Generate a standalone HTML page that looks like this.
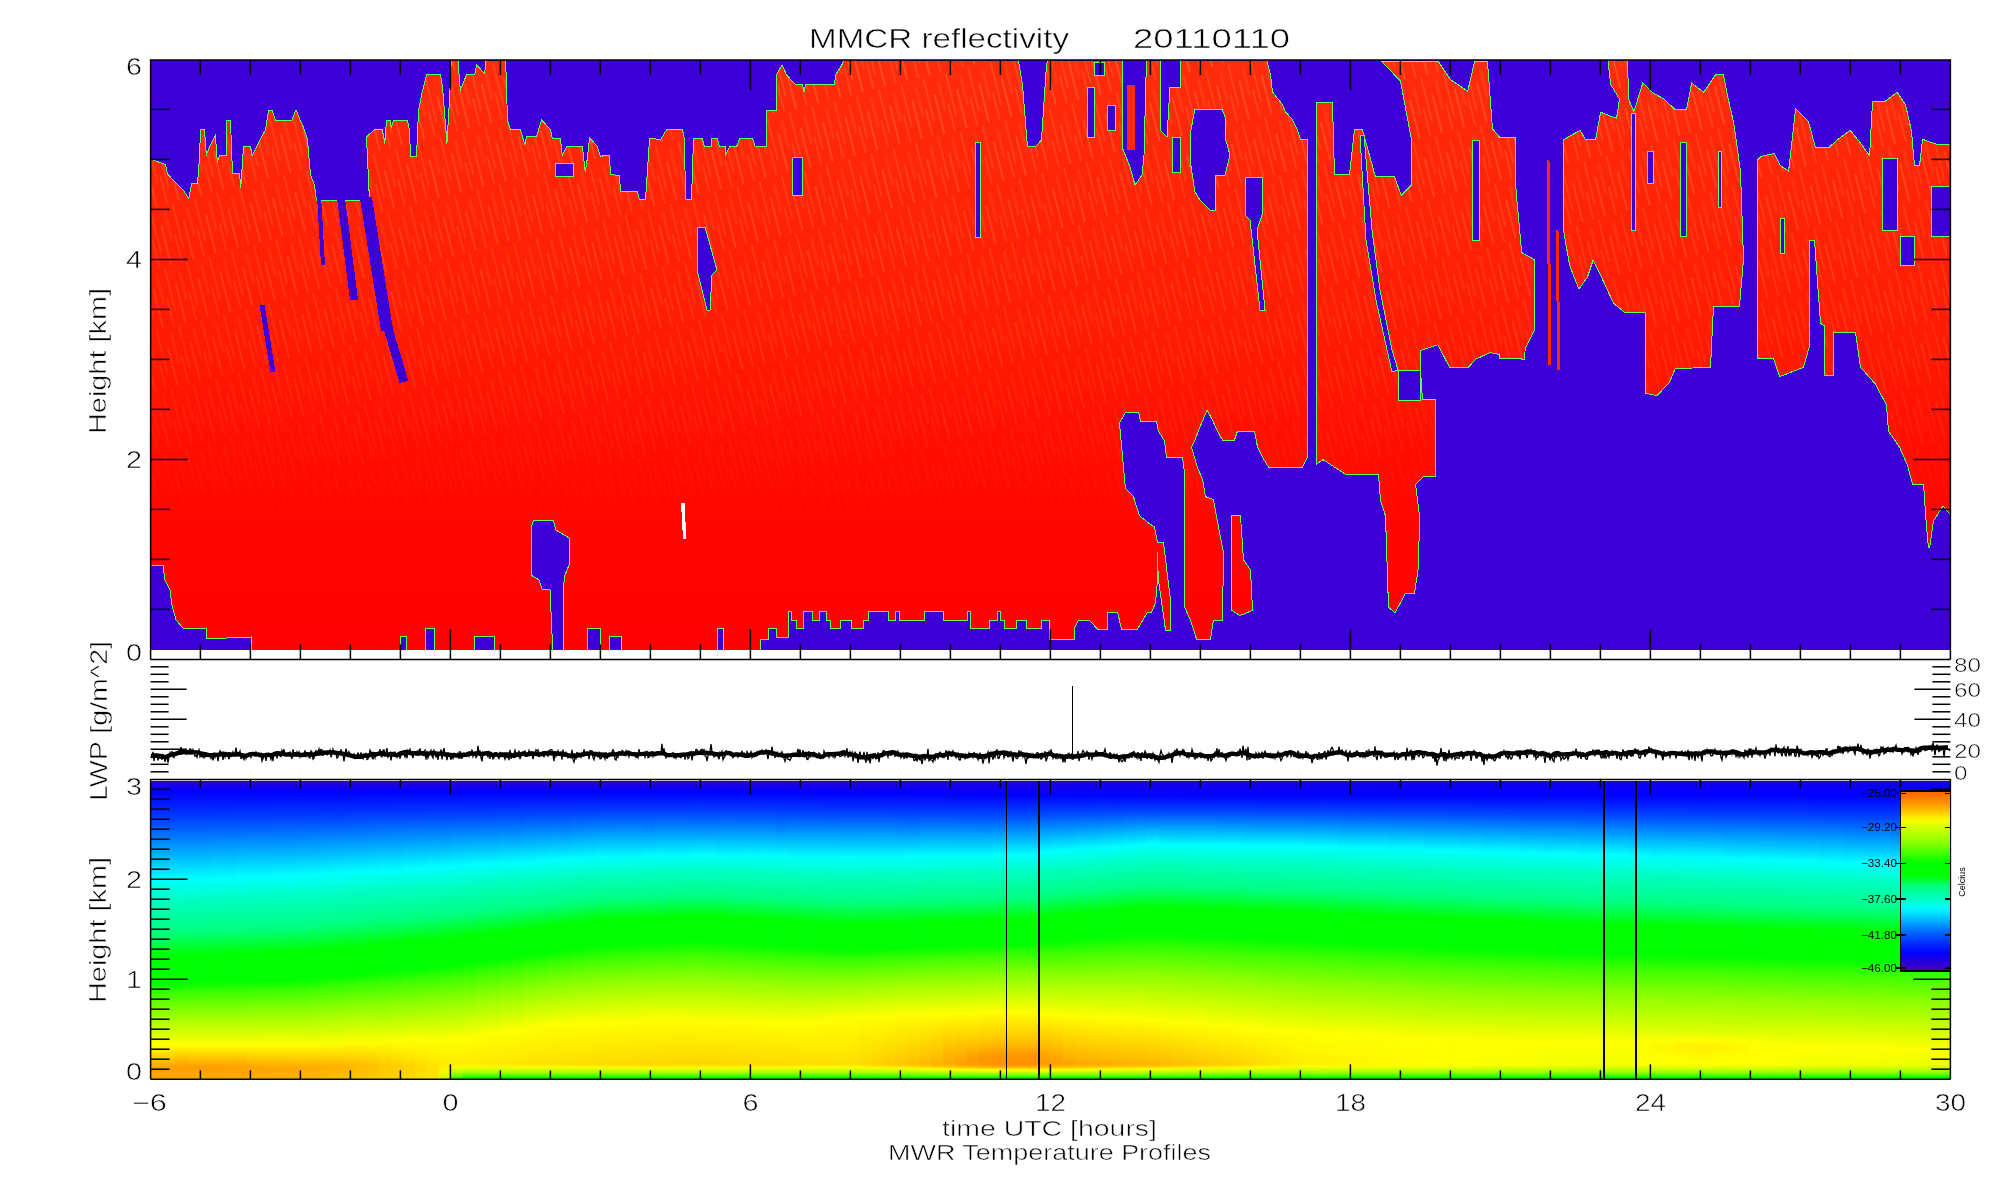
<!DOCTYPE html>
<html><head><meta charset="utf-8"><title>MMCR reflectivity 20110110</title>
<style>html,body{margin:0;padding:0;background:#fff;overflow:hidden}svg{display:block;will-change:transform}</style></head>
<body><svg width="2000" height="1200" viewBox="0 0 2000 1200" shape-rendering="crispEdges">
<rect width="2000" height="1200" fill="#fff"/>
<defs>
<linearGradient id="rg" gradientUnits="userSpaceOnUse" x1="0" y1="60" x2="0" y2="650"><stop offset="0" stop-color="#ff2c0c"/><stop offset="0.45" stop-color="#ff1c04"/><stop offset="0.75" stop-color="#ff0800"/><stop offset="1" stop-color="#ff0000"/></linearGradient>
</defs>
<rect x="151" y="60" width="1799" height="590" fill="#3c00d7"/>
<defs><clipPath id="tp"><rect x="151.3" y="60.7" width="1798.4" height="589.3"/></clipPath></defs>
<g clip-path="url(#tp)">
<g fill="none" stroke="#60ff60" stroke-width="2.0">
<polygon points="144,157 165,165 167,174 174,182 184,192 189,200 192,184 198,184 200,157 201,130 204,130 206,157 210,147 215,137 217,165 220,156 227,156 227,121 230,121 232,174 239,174 241,192 244,147 250,147 252,157 257,147 262,137 266,130 269,111 272,111 275,121 292,121 296,111 300,121 304,130 307,140 310,175 314,185 316,201 370,201 367,137 375,130 382,130 385,147 387,121 390,121 391,130 394,121 407,121 409,130 410,157 417,157 419,111 422,95 427,75 440,75 442,87 447,150 450,100 452,55 457,55 460,92 467,75 475,75 477,66 485,75 487,55 505,55 507,120 510,130 520,130 525,147 527,137 537,137 539,130 542,121 550,130 552,139 560,139 562,157 567,147 582,147 585,175 587,165 590,139 597,147 600,157 605,156 609,156 610,175 619,176 620,192 637,192 639,200 646,200 649,155 650,139 661,140 667,130 682,130 684,139 685,200 692,200 694,139 702,139 704,147 712,147 712,139 717,139 719,147 725,147 725,157 730,147 737,147 740,139 752,139 755,147 767,147 767,111 777,111 777,75 782,66 786,75 795,85 802,85 804,94 806,85 835,85 836,75 842,66 846,55 1017,55 1022,85 1027,147 1036,147 1042,140 1047,65 1050,55 1265,55 1270,75 1272,92 1282,105 1285,112 1292,120 1297,130 1300,140 1307,140 1307,457 1302,467 1269,467 1263,457 1258,447 1255,431 1237,431 1234,440 1223,440 1218,431 1213,420 1207,409 1199,428 1194,441 1191,447 1197,468 1202,479 1205,497 1213,500 1218,527 1223,553 1222,620 1213,620 1210,639 1197,639 1191,620 1185,607 1185,473 1183,457 1167,457 1165,441 1159,431 1157,421 1141,421 1139,412 1125,412 1119,423 1122,457 1125,489 1133,497 1139,516 1149,524 1154,527 1157,543 1157,580 1155,603 1151,612 1147,612 1137,629 1122,629 1118,612 1107,612 1107,629 1098,629 1090,620 1078,620 1074,628 1074,639 1050,639 1050,620 1041,620 1041,628 1027,628 1027,620 1016,620 1016,628 1005,628 1005,620 1001,620 1001,611 997,611 997,620 989,620 989,628 971,628 971,611 967,611 967,620 944,620 944,611 924,611 924,620 900,620 900,611 895,611 895,620 889,620 889,611 868,611 868,620 863,620 863,628 852,628 852,620 840,620 840,628 831,628 831,620 827,620 827,611 819,611 819,620 813,620 813,611 803,611 803,628 797,628 797,620 792,620 792,611 788,611 788,637 777,637 777,628 768,628 768,639 760,639 760,656 144,656"/>
<polygon points="1317,103 1332,103 1334,175 1350,175 1355,130 1362,130 1375,177 1394,177 1401,196 1412,185 1412,140 1401,81 1383,62 1438,62 1450,80 1468,92 1475,62 1487,62 1492,129 1505,144 1513,151 1516,196 1527,315 1524,359 1490,352 1475,359 1468,367 1450,367 1438,344 1420,350 1420,370 1422,400 1435,400 1435,476 1423,476 1415,484 1419,516 1418,567 1414,593 1405,593 1395,612 1389,607 1386,516 1381,500 1379,474 1346,474 1323,459 1317,463"/>
<polygon points="1564,140 1580,131 1585,140 1596,140 1601,113 1617,119 1620,99 1611,84 1608,55 1627,55 1628,99 1634,113 1643,84 1652,93 1663,99 1675,110 1687,110 1692,84 1704,93 1716,75 1723,75 1727,96 1733,122 1736,142 1740,172 1743,259 1739,306 1713,306 1710,367 1675,368 1669,382 1657,395 1646,393 1646,312 1625,312 1614,303 1602,277 1593,259 1587,277 1579,288 1570,265 1564,230"/>
<polygon points="1758,160 1761,157 1774,154 1780,166 1789,172 1796,110 1808,122 1815,148 1829,148 1838,140 1850,131 1859,142 1870,157 1873,102 1885,102 1897,93 1905,105 1911,131 1914,166 1920,166 1923,140 1937,145 1956,145 1956,521 1943,505 1933,521 1929,548 1927,527 1924,484 1913,484 1908,465 1900,447 1889,431 1887,405 1876,384 1861,367 1856,332 1835,332 1821,323 1815,240 1809,240 1809,346 1803,367 1780,376 1774,358 1758,358"/>
<polygon points="1500,138 1515,138 1516,250 1534,260 1534,330 1520,358 1500,358"/>
<polygon points="1157,543 1163,543 1170,600 1170,630 1166,630 1159,580"/>
<polygon points="1232,516 1240,516 1243,560 1250,570 1252,610 1240,615 1232,610"/>
<polygon points="1825,320 1833,320 1833,375 1825,375"/>
</g>
<g fill="url(#rg)">
<polygon points="144,157 165,165 167,174 174,182 184,192 189,200 192,184 198,184 200,157 201,130 204,130 206,157 210,147 215,137 217,165 220,156 227,156 227,121 230,121 232,174 239,174 241,192 244,147 250,147 252,157 257,147 262,137 266,130 269,111 272,111 275,121 292,121 296,111 300,121 304,130 307,140 310,175 314,185 316,201 370,201 367,137 375,130 382,130 385,147 387,121 390,121 391,130 394,121 407,121 409,130 410,157 417,157 419,111 422,95 427,75 440,75 442,87 447,150 450,100 452,55 457,55 460,92 467,75 475,75 477,66 485,75 487,55 505,55 507,120 510,130 520,130 525,147 527,137 537,137 539,130 542,121 550,130 552,139 560,139 562,157 567,147 582,147 585,175 587,165 590,139 597,147 600,157 605,156 609,156 610,175 619,176 620,192 637,192 639,200 646,200 649,155 650,139 661,140 667,130 682,130 684,139 685,200 692,200 694,139 702,139 704,147 712,147 712,139 717,139 719,147 725,147 725,157 730,147 737,147 740,139 752,139 755,147 767,147 767,111 777,111 777,75 782,66 786,75 795,85 802,85 804,94 806,85 835,85 836,75 842,66 846,55 1017,55 1022,85 1027,147 1036,147 1042,140 1047,65 1050,55 1265,55 1270,75 1272,92 1282,105 1285,112 1292,120 1297,130 1300,140 1307,140 1307,457 1302,467 1269,467 1263,457 1258,447 1255,431 1237,431 1234,440 1223,440 1218,431 1213,420 1207,409 1199,428 1194,441 1191,447 1197,468 1202,479 1205,497 1213,500 1218,527 1223,553 1222,620 1213,620 1210,639 1197,639 1191,620 1185,607 1185,473 1183,457 1167,457 1165,441 1159,431 1157,421 1141,421 1139,412 1125,412 1119,423 1122,457 1125,489 1133,497 1139,516 1149,524 1154,527 1157,543 1157,580 1155,603 1151,612 1147,612 1137,629 1122,629 1118,612 1107,612 1107,629 1098,629 1090,620 1078,620 1074,628 1074,639 1050,639 1050,620 1041,620 1041,628 1027,628 1027,620 1016,620 1016,628 1005,628 1005,620 1001,620 1001,611 997,611 997,620 989,620 989,628 971,628 971,611 967,611 967,620 944,620 944,611 924,611 924,620 900,620 900,611 895,611 895,620 889,620 889,611 868,611 868,620 863,620 863,628 852,628 852,620 840,620 840,628 831,628 831,620 827,620 827,611 819,611 819,620 813,620 813,611 803,611 803,628 797,628 797,620 792,620 792,611 788,611 788,637 777,637 777,628 768,628 768,639 760,639 760,656 144,656"/>
<polygon points="1317,103 1332,103 1334,175 1350,175 1355,130 1362,130 1375,177 1394,177 1401,196 1412,185 1412,140 1401,81 1383,62 1438,62 1450,80 1468,92 1475,62 1487,62 1492,129 1505,144 1513,151 1516,196 1527,315 1524,359 1490,352 1475,359 1468,367 1450,367 1438,344 1420,350 1420,370 1422,400 1435,400 1435,476 1423,476 1415,484 1419,516 1418,567 1414,593 1405,593 1395,612 1389,607 1386,516 1381,500 1379,474 1346,474 1323,459 1317,463"/>
<polygon points="1564,140 1580,131 1585,140 1596,140 1601,113 1617,119 1620,99 1611,84 1608,55 1627,55 1628,99 1634,113 1643,84 1652,93 1663,99 1675,110 1687,110 1692,84 1704,93 1716,75 1723,75 1727,96 1733,122 1736,142 1740,172 1743,259 1739,306 1713,306 1710,367 1675,368 1669,382 1657,395 1646,393 1646,312 1625,312 1614,303 1602,277 1593,259 1587,277 1579,288 1570,265 1564,230"/>
<polygon points="1758,160 1761,157 1774,154 1780,166 1789,172 1796,110 1808,122 1815,148 1829,148 1838,140 1850,131 1859,142 1870,157 1873,102 1885,102 1897,93 1905,105 1911,131 1914,166 1920,166 1923,140 1937,145 1956,145 1956,521 1943,505 1933,521 1929,548 1927,527 1924,484 1913,484 1908,465 1900,447 1889,431 1887,405 1876,384 1861,367 1856,332 1835,332 1821,323 1815,240 1809,240 1809,346 1803,367 1780,376 1774,358 1758,358"/>
<polygon points="1500,138 1515,138 1516,250 1534,260 1534,330 1520,358 1500,358"/>
<polygon points="1157,543 1163,543 1170,600 1170,630 1166,630 1159,580"/>
<polygon points="1232,516 1240,516 1243,560 1250,570 1252,610 1240,615 1232,610"/>
<polygon points="1825,320 1833,320 1833,375 1825,375"/>
</g>
<defs><pattern id="tx" patternUnits="userSpaceOnUse" width="23" height="60" patternTransform="rotate(-14)"><rect x="2" y="0" width="2" height="44" fill="#ff5a1e"/><rect x="9" y="18" width="1.5" height="40" fill="#ff6a28"/><rect x="15" y="6" width="2.5" height="30" fill="#ff4814"/><rect x="20" y="30" width="1.5" height="28" fill="#ff5a1e"/></pattern><linearGradient id="txg" gradientUnits="userSpaceOnUse" x1="0" y1="60" x2="0" y2="650"><stop offset="0" stop-color="#fff" stop-opacity="0.55"/><stop offset="0.55" stop-color="#fff" stop-opacity="0.25"/><stop offset="0.8" stop-color="#fff" stop-opacity="0"/></linearGradient><mask id="txm" maskUnits="userSpaceOnUse" x="140" y="50" width="1820" height="610"><rect x="140" y="50" width="1820" height="610" fill="url(#txg)"/></mask></defs>
<g fill="url(#tx)" mask="url(#txm)">
<polygon points="144,157 165,165 167,174 174,182 184,192 189,200 192,184 198,184 200,157 201,130 204,130 206,157 210,147 215,137 217,165 220,156 227,156 227,121 230,121 232,174 239,174 241,192 244,147 250,147 252,157 257,147 262,137 266,130 269,111 272,111 275,121 292,121 296,111 300,121 304,130 307,140 310,175 314,185 316,201 370,201 367,137 375,130 382,130 385,147 387,121 390,121 391,130 394,121 407,121 409,130 410,157 417,157 419,111 422,95 427,75 440,75 442,87 447,150 450,100 452,55 457,55 460,92 467,75 475,75 477,66 485,75 487,55 505,55 507,120 510,130 520,130 525,147 527,137 537,137 539,130 542,121 550,130 552,139 560,139 562,157 567,147 582,147 585,175 587,165 590,139 597,147 600,157 605,156 609,156 610,175 619,176 620,192 637,192 639,200 646,200 649,155 650,139 661,140 667,130 682,130 684,139 685,200 692,200 694,139 702,139 704,147 712,147 712,139 717,139 719,147 725,147 725,157 730,147 737,147 740,139 752,139 755,147 767,147 767,111 777,111 777,75 782,66 786,75 795,85 802,85 804,94 806,85 835,85 836,75 842,66 846,55 1017,55 1022,85 1027,147 1036,147 1042,140 1047,65 1050,55 1265,55 1270,75 1272,92 1282,105 1285,112 1292,120 1297,130 1300,140 1307,140 1307,457 1302,467 1269,467 1263,457 1258,447 1255,431 1237,431 1234,440 1223,440 1218,431 1213,420 1207,409 1199,428 1194,441 1191,447 1197,468 1202,479 1205,497 1213,500 1218,527 1223,553 1222,620 1213,620 1210,639 1197,639 1191,620 1185,607 1185,473 1183,457 1167,457 1165,441 1159,431 1157,421 1141,421 1139,412 1125,412 1119,423 1122,457 1125,489 1133,497 1139,516 1149,524 1154,527 1157,543 1157,580 1155,603 1151,612 1147,612 1137,629 1122,629 1118,612 1107,612 1107,629 1098,629 1090,620 1078,620 1074,628 1074,639 1050,639 1050,620 1041,620 1041,628 1027,628 1027,620 1016,620 1016,628 1005,628 1005,620 1001,620 1001,611 997,611 997,620 989,620 989,628 971,628 971,611 967,611 967,620 944,620 944,611 924,611 924,620 900,620 900,611 895,611 895,620 889,620 889,611 868,611 868,620 863,620 863,628 852,628 852,620 840,620 840,628 831,628 831,620 827,620 827,611 819,611 819,620 813,620 813,611 803,611 803,628 797,628 797,620 792,620 792,611 788,611 788,637 777,637 777,628 768,628 768,639 760,639 760,656 144,656"/>
<polygon points="1317,103 1332,103 1334,175 1350,175 1355,130 1362,130 1375,177 1394,177 1401,196 1412,185 1412,140 1401,81 1383,62 1438,62 1450,80 1468,92 1475,62 1487,62 1492,129 1505,144 1513,151 1516,196 1527,315 1524,359 1490,352 1475,359 1468,367 1450,367 1438,344 1420,350 1420,370 1422,400 1435,400 1435,476 1423,476 1415,484 1419,516 1418,567 1414,593 1405,593 1395,612 1389,607 1386,516 1381,500 1379,474 1346,474 1323,459 1317,463"/>
<polygon points="1564,140 1580,131 1585,140 1596,140 1601,113 1617,119 1620,99 1611,84 1608,55 1627,55 1628,99 1634,113 1643,84 1652,93 1663,99 1675,110 1687,110 1692,84 1704,93 1716,75 1723,75 1727,96 1733,122 1736,142 1740,172 1743,259 1739,306 1713,306 1710,367 1675,368 1669,382 1657,395 1646,393 1646,312 1625,312 1614,303 1602,277 1593,259 1587,277 1579,288 1570,265 1564,230"/>
<polygon points="1758,160 1761,157 1774,154 1780,166 1789,172 1796,110 1808,122 1815,148 1829,148 1838,140 1850,131 1859,142 1870,157 1873,102 1885,102 1897,93 1905,105 1911,131 1914,166 1920,166 1923,140 1937,145 1956,145 1956,521 1943,505 1933,521 1929,548 1927,527 1924,484 1913,484 1908,465 1900,447 1889,431 1887,405 1876,384 1861,367 1856,332 1835,332 1821,323 1815,240 1809,240 1809,346 1803,367 1780,376 1774,358 1758,358"/>
<polygon points="1500,138 1515,138 1516,250 1534,260 1534,330 1520,358 1500,358"/>
<polygon points="1157,543 1163,543 1170,600 1170,630 1166,630 1159,580"/>
<polygon points="1232,516 1240,516 1243,560 1250,570 1252,610 1240,615 1232,610"/>
<polygon points="1825,320 1833,320 1833,375 1825,375"/>
</g>
<g fill="#3c00d7" stroke="#60ff60" stroke-width="1.0">
<polygon points="144,565 163,565 165,580 170,590 172,605 176,620 183,628 206,628 206,638 227,638 251,637 251,656 144,656"/>
<polygon points="534,520 553,520 556,530 569,538 569,565 565,575 563,590 563,656 553,656 550,590 542,589 539,580 531,575 531,527"/>
<polygon points="587,628 600,628 600,656 587,656"/>
<polygon points="425,628 434,628 434,656 425,656"/>
<polygon points="609,636 621,636 621,656 609,656"/>
<polygon points="717,628 723,628 723,656 717,656"/>
<polygon points="474,636 494,636 494,656 474,656"/>
<polygon points="400,636 406,636 406,656 400,656"/>
<polygon points="697,227 705,227 717,270 712,275 710,310 707,310 697,270"/>
<polygon points="792,157 802,157 802,195 792,195"/>
<polygon points="975,142 980,142 980,237 975,237"/>
<polygon points="555,163 573,163 573,176 555,176"/>
<polygon points="1087,87 1094,87 1094,137 1087,137"/>
<polygon points="1094,62 1104,62 1104,75 1094,75"/>
<polygon points="1107,105 1115,105 1115,130 1107,130"/>
<polygon points="1122,55 1146,55 1146,77 1144,155 1142,175 1135,185 1130,167 1122,147"/>
<polygon points="1160,55 1180,55 1180,87 1170,87 1167,137 1160,130"/>
<polygon points="1172,137 1180,137 1180,172 1172,172"/>
<polygon points="1190,135 1195,109 1222,109 1225,117 1225,137 1230,155 1225,175 1215,175 1215,210 1210,210 1200,200 1195,192 1190,160"/>
<polygon points="1245,177 1262,177 1262,215 1257,230 1265,310 1260,310 1250,220 1245,215"/>
<polygon points="1360,135 1364,135 1372,230 1380,290 1392,350 1398,370 1392,372 1376,300 1366,240"/>
<polygon points="1472,140 1479,140 1479,240 1472,240"/>
<polygon points="1398,370 1420,370 1420,400 1398,400"/>
<polygon points="1631,113 1635,113 1635,230 1631,230"/>
<polygon points="1647,151 1653,151 1653,183 1647,183"/>
<polygon points="1680,142 1686,142 1686,236 1680,236"/>
<polygon points="1718,151 1721,151 1721,207 1718,207"/>
<polygon points="1780,218 1784,218 1784,253 1780,253"/>
<polygon points="1882,158 1897,158 1897,230 1882,230"/>
<polygon points="1931,186 1956,186 1956,236 1931,236"/>
<polygon points="1900,236 1914,236 1914,265 1900,265"/>
</g>
<g stroke="#ff2808" stroke-linecap="butt">
<line x1="1548" y1="160" x2="1550" y2="365" stroke-width="3"/>
<line x1="1557" y1="230" x2="1559" y2="370" stroke-width="3"/>
<line x1="1131" y1="85" x2="1131" y2="150" stroke-width="8"/>
</g>
<g stroke="#3c00d7">
<line x1="319" y1="195" x2="323" y2="265" stroke-width="4"/>
<line x1="341" y1="198" x2="354" y2="300" stroke-width="8"/>
<line x1="366" y1="198" x2="387" y2="330" stroke-width="12"/>
<line x1="385" y1="318" x2="404" y2="382" stroke-width="9"/>
<line x1="262" y1="305" x2="273" y2="372" stroke-width="5"/>
</g>
<polygon points="681,503 685,503 686,539 683,539" fill="#fff"/>
</g>
<defs>
<linearGradient id="b0" x1="0" y1="0" x2="0" y2="1"><stop offset="0.000" stop-color="#2900d7"/><stop offset="0.037" stop-color="#0000ff"/><stop offset="0.128" stop-color="#0040ff"/><stop offset="0.332" stop-color="#00fffe"/><stop offset="0.406" stop-color="#00ffc0"/><stop offset="0.507" stop-color="#00ff81"/><stop offset="0.591" stop-color="#00ff00"/><stop offset="0.678" stop-color="#00ff00"/><stop offset="0.718" stop-color="#42ff00"/><stop offset="0.779" stop-color="#90ff00"/><stop offset="0.886" stop-color="#ffff00"/><stop offset="0.963" stop-color="#ffa200"/><stop offset="1.000" stop-color="#ffaa00"/></linearGradient>
<linearGradient id="b1" x1="0" y1="0" x2="0" y2="1"><stop offset="0.000" stop-color="#2900d7"/><stop offset="0.037" stop-color="#0000ff"/><stop offset="0.128" stop-color="#0040ff"/><stop offset="0.332" stop-color="#00fffd"/><stop offset="0.406" stop-color="#00ffbf"/><stop offset="0.507" stop-color="#00ff80"/><stop offset="0.587" stop-color="#00ff01"/><stop offset="0.678" stop-color="#00ff00"/><stop offset="0.715" stop-color="#3fff00"/><stop offset="0.775" stop-color="#8dff00"/><stop offset="0.886" stop-color="#ffff00"/><stop offset="0.963" stop-color="#ff9f00"/><stop offset="1.000" stop-color="#ffaa00"/></linearGradient>
<linearGradient id="b2" x1="0" y1="0" x2="0" y2="1"><stop offset="0.000" stop-color="#2900d7"/><stop offset="0.037" stop-color="#0000ff"/><stop offset="0.128" stop-color="#0041ff"/><stop offset="0.329" stop-color="#00ffff"/><stop offset="0.403" stop-color="#00ffc1"/><stop offset="0.503" stop-color="#00ff81"/><stop offset="0.587" stop-color="#00ff00"/><stop offset="0.678" stop-color="#02ff00"/><stop offset="0.715" stop-color="#40ff00"/><stop offset="0.775" stop-color="#8dff00"/><stop offset="0.886" stop-color="#ffff00"/><stop offset="0.943" stop-color="#ffb100"/><stop offset="0.963" stop-color="#ff9d00"/><stop offset="1.000" stop-color="#ffaa00"/></linearGradient>
<linearGradient id="b3" x1="0" y1="0" x2="0" y2="1"><stop offset="0.000" stop-color="#2900d7"/><stop offset="0.037" stop-color="#0000ff"/><stop offset="0.128" stop-color="#0041ff"/><stop offset="0.329" stop-color="#00fffe"/><stop offset="0.403" stop-color="#00ffc0"/><stop offset="0.503" stop-color="#00ff80"/><stop offset="0.587" stop-color="#00ff00"/><stop offset="0.674" stop-color="#00ff00"/><stop offset="0.715" stop-color="#42ff00"/><stop offset="0.775" stop-color="#8eff00"/><stop offset="0.886" stop-color="#ffff00"/><stop offset="0.960" stop-color="#ff9e00"/><stop offset="1.000" stop-color="#ffaa00"/></linearGradient>
<linearGradient id="b4" x1="0" y1="0" x2="0" y2="1"><stop offset="0.000" stop-color="#2900d7"/><stop offset="0.037" stop-color="#0000ff"/><stop offset="0.128" stop-color="#0041ff"/><stop offset="0.329" stop-color="#00fffd"/><stop offset="0.399" stop-color="#00ffc1"/><stop offset="0.503" stop-color="#00ff7f"/><stop offset="0.584" stop-color="#00ff00"/><stop offset="0.674" stop-color="#00ff00"/><stop offset="0.711" stop-color="#3eff00"/><stop offset="0.775" stop-color="#8fff00"/><stop offset="0.886" stop-color="#ffff00"/><stop offset="0.960" stop-color="#ff9d00"/><stop offset="1.000" stop-color="#ffaa00"/></linearGradient>
<linearGradient id="b5" x1="0" y1="0" x2="0" y2="1"><stop offset="0.000" stop-color="#2900d7"/><stop offset="0.037" stop-color="#0000ff"/><stop offset="0.128" stop-color="#0042ff"/><stop offset="0.326" stop-color="#00fffe"/><stop offset="0.399" stop-color="#00ffc0"/><stop offset="0.500" stop-color="#00ff81"/><stop offset="0.584" stop-color="#00ff00"/><stop offset="0.674" stop-color="#02ff00"/><stop offset="0.711" stop-color="#40ff00"/><stop offset="0.775" stop-color="#90ff00"/><stop offset="0.886" stop-color="#ffff00"/><stop offset="0.960" stop-color="#ff9e00"/><stop offset="1.000" stop-color="#ffab00"/></linearGradient>
<linearGradient id="b6" x1="0" y1="0" x2="0" y2="1"><stop offset="0.000" stop-color="#2900d7"/><stop offset="0.037" stop-color="#0000ff"/><stop offset="0.128" stop-color="#0042ff"/><stop offset="0.326" stop-color="#00fffd"/><stop offset="0.399" stop-color="#00ffbf"/><stop offset="0.500" stop-color="#00ff80"/><stop offset="0.581" stop-color="#00ff01"/><stop offset="0.671" stop-color="#00ff00"/><stop offset="0.711" stop-color="#41ff00"/><stop offset="0.775" stop-color="#90ff00"/><stop offset="0.886" stop-color="#ffff00"/><stop offset="0.960" stop-color="#ff9f00"/><stop offset="1.000" stop-color="#ffac00"/></linearGradient>
<linearGradient id="b7" x1="0" y1="0" x2="0" y2="1"><stop offset="0.000" stop-color="#2900d7"/><stop offset="0.037" stop-color="#0000ff"/><stop offset="0.128" stop-color="#0043ff"/><stop offset="0.322" stop-color="#00ffff"/><stop offset="0.396" stop-color="#00ffc1"/><stop offset="0.497" stop-color="#00ff81"/><stop offset="0.581" stop-color="#00ff00"/><stop offset="0.671" stop-color="#00ff00"/><stop offset="0.711" stop-color="#42ff00"/><stop offset="0.772" stop-color="#8dff00"/><stop offset="0.886" stop-color="#ffff00"/><stop offset="0.943" stop-color="#ffb300"/><stop offset="0.963" stop-color="#ff9f00"/><stop offset="1.000" stop-color="#ffac00"/></linearGradient>
<linearGradient id="b8" x1="0" y1="0" x2="0" y2="1"><stop offset="0.000" stop-color="#2900d7"/><stop offset="0.037" stop-color="#0000ff"/><stop offset="0.124" stop-color="#0040ff"/><stop offset="0.322" stop-color="#00fffe"/><stop offset="0.396" stop-color="#00ffc0"/><stop offset="0.497" stop-color="#00ff80"/><stop offset="0.581" stop-color="#00ff00"/><stop offset="0.671" stop-color="#02ff00"/><stop offset="0.708" stop-color="#3fff00"/><stop offset="0.772" stop-color="#8eff00"/><stop offset="0.886" stop-color="#ffff00"/><stop offset="0.963" stop-color="#ffa200"/><stop offset="1.000" stop-color="#ffad00"/></linearGradient>
<linearGradient id="b9" x1="0" y1="0" x2="0" y2="1"><stop offset="0.000" stop-color="#2900d7"/><stop offset="0.037" stop-color="#0000ff"/><stop offset="0.124" stop-color="#0040ff"/><stop offset="0.322" stop-color="#00fffd"/><stop offset="0.393" stop-color="#00ffc1"/><stop offset="0.497" stop-color="#00ff7f"/><stop offset="0.577" stop-color="#00ff00"/><stop offset="0.668" stop-color="#00ff00"/><stop offset="0.708" stop-color="#40ff00"/><stop offset="0.772" stop-color="#8fff00"/><stop offset="0.886" stop-color="#ffff00"/><stop offset="0.963" stop-color="#ffa500"/><stop offset="1.000" stop-color="#ffae00"/></linearGradient>
<linearGradient id="b10" x1="0" y1="0" x2="0" y2="1"><stop offset="0.000" stop-color="#2900d7"/><stop offset="0.037" stop-color="#0000ff"/><stop offset="0.124" stop-color="#0041ff"/><stop offset="0.319" stop-color="#00fffe"/><stop offset="0.393" stop-color="#00ffc0"/><stop offset="0.493" stop-color="#00ff81"/><stop offset="0.577" stop-color="#00ff00"/><stop offset="0.668" stop-color="#01ff00"/><stop offset="0.708" stop-color="#42ff00"/><stop offset="0.772" stop-color="#8fff00"/><stop offset="0.886" stop-color="#ffff00"/><stop offset="0.963" stop-color="#ffa700"/><stop offset="1.000" stop-color="#ffaf00"/></linearGradient>
<linearGradient id="b11" x1="0" y1="0" x2="0" y2="1"><stop offset="0.000" stop-color="#2900d7"/><stop offset="0.037" stop-color="#0000ff"/><stop offset="0.124" stop-color="#0041ff"/><stop offset="0.319" stop-color="#00fffd"/><stop offset="0.393" stop-color="#00ffbf"/><stop offset="0.493" stop-color="#00ff80"/><stop offset="0.574" stop-color="#00ff01"/><stop offset="0.668" stop-color="#02ff00"/><stop offset="0.705" stop-color="#3eff00"/><stop offset="0.772" stop-color="#90ff00"/><stop offset="0.886" stop-color="#ffff00"/><stop offset="0.963" stop-color="#ffa800"/><stop offset="1.000" stop-color="#ffb000"/></linearGradient>
<linearGradient id="b12" x1="0" y1="0" x2="0" y2="1"><stop offset="0.000" stop-color="#2900d7"/><stop offset="0.037" stop-color="#0000ff"/><stop offset="0.124" stop-color="#0041ff"/><stop offset="0.315" stop-color="#00ffff"/><stop offset="0.389" stop-color="#00ffc0"/><stop offset="0.490" stop-color="#00ff81"/><stop offset="0.574" stop-color="#00ff00"/><stop offset="0.664" stop-color="#00ff00"/><stop offset="0.705" stop-color="#40ff00"/><stop offset="0.768" stop-color="#8dff00"/><stop offset="0.886" stop-color="#ffff00"/><stop offset="0.963" stop-color="#ffa900"/><stop offset="1.000" stop-color="#ffb100"/></linearGradient>
<linearGradient id="b13" x1="0" y1="0" x2="0" y2="1"><stop offset="0.000" stop-color="#2900d7"/><stop offset="0.037" stop-color="#0000ff"/><stop offset="0.124" stop-color="#0042ff"/><stop offset="0.315" stop-color="#00fffd"/><stop offset="0.386" stop-color="#00ffc1"/><stop offset="0.487" stop-color="#00ff81"/><stop offset="0.570" stop-color="#00ff00"/><stop offset="0.661" stop-color="#01ff00"/><stop offset="0.701" stop-color="#40ff00"/><stop offset="0.768" stop-color="#90ff00"/><stop offset="0.886" stop-color="#fffe00"/><stop offset="0.963" stop-color="#ffab00"/><stop offset="1.000" stop-color="#ffb500"/></linearGradient>
<linearGradient id="b14" x1="0" y1="0" x2="0" y2="1"><stop offset="0.000" stop-color="#2900d7"/><stop offset="0.037" stop-color="#0000ff"/><stop offset="0.124" stop-color="#0043ff"/><stop offset="0.312" stop-color="#00fffe"/><stop offset="0.386" stop-color="#00ffbf"/><stop offset="0.483" stop-color="#00ff81"/><stop offset="0.567" stop-color="#00ff00"/><stop offset="0.658" stop-color="#01ff00"/><stop offset="0.698" stop-color="#40ff00"/><stop offset="0.765" stop-color="#8fff00"/><stop offset="0.883" stop-color="#feff00"/><stop offset="0.960" stop-color="#ffaf00"/><stop offset="1.000" stop-color="#ffb900"/></linearGradient>
<linearGradient id="b15" x1="0" y1="0" x2="0" y2="1"><stop offset="0.000" stop-color="#2900d7"/><stop offset="0.037" stop-color="#0000ff"/><stop offset="0.121" stop-color="#0040ff"/><stop offset="0.309" stop-color="#00fffe"/><stop offset="0.383" stop-color="#00ffbf"/><stop offset="0.480" stop-color="#00ff81"/><stop offset="0.564" stop-color="#00ff00"/><stop offset="0.654" stop-color="#01ff00"/><stop offset="0.695" stop-color="#3fff00"/><stop offset="0.762" stop-color="#8eff00"/><stop offset="0.883" stop-color="#fffe00"/><stop offset="0.960" stop-color="#ffb100"/><stop offset="1.000" stop-color="#ffbd00"/></linearGradient>
<linearGradient id="b16" x1="0" y1="0" x2="0" y2="1"><stop offset="0.000" stop-color="#2900d7"/><stop offset="0.037" stop-color="#0000ff"/><stop offset="0.121" stop-color="#0041ff"/><stop offset="0.305" stop-color="#00ffff"/><stop offset="0.379" stop-color="#00ffc0"/><stop offset="0.477" stop-color="#00ff81"/><stop offset="0.560" stop-color="#00ff00"/><stop offset="0.651" stop-color="#01ff00"/><stop offset="0.691" stop-color="#3fff00"/><stop offset="0.758" stop-color="#8dff00"/><stop offset="0.879" stop-color="#feff00"/><stop offset="0.960" stop-color="#ffb500"/><stop offset="1.000" stop-color="#ffc100"/></linearGradient>
<linearGradient id="b17" x1="0" y1="0" x2="0" y2="1"><stop offset="0.000" stop-color="#2900d7"/><stop offset="0.037" stop-color="#0000ff"/><stop offset="0.121" stop-color="#0042ff"/><stop offset="0.305" stop-color="#00fffd"/><stop offset="0.376" stop-color="#00ffc0"/><stop offset="0.473" stop-color="#00ff81"/><stop offset="0.557" stop-color="#00ff00"/><stop offset="0.648" stop-color="#02ff00"/><stop offset="0.688" stop-color="#3fff00"/><stop offset="0.758" stop-color="#90ff00"/><stop offset="0.879" stop-color="#ffff00"/><stop offset="0.956" stop-color="#ffbb00"/><stop offset="1.000" stop-color="#ffc500"/></linearGradient>
<linearGradient id="b18" x1="0" y1="0" x2="0" y2="1"><stop offset="0.000" stop-color="#2900d7"/><stop offset="0.037" stop-color="#0000ff"/><stop offset="0.117" stop-color="#003fff"/><stop offset="0.302" stop-color="#00fffe"/><stop offset="0.372" stop-color="#00ffc1"/><stop offset="0.470" stop-color="#00ff81"/><stop offset="0.550" stop-color="#00ff01"/><stop offset="0.644" stop-color="#02ff00"/><stop offset="0.685" stop-color="#3fff00"/><stop offset="0.755" stop-color="#8fff00"/><stop offset="0.879" stop-color="#fffe00"/><stop offset="0.956" stop-color="#ffc100"/><stop offset="1.000" stop-color="#ffc900"/></linearGradient>
<linearGradient id="b19" x1="0" y1="0" x2="0" y2="1"><stop offset="0.000" stop-color="#2900d7"/><stop offset="0.037" stop-color="#0000ff"/><stop offset="0.117" stop-color="#0040ff"/><stop offset="0.299" stop-color="#00ffff"/><stop offset="0.369" stop-color="#00ffc1"/><stop offset="0.466" stop-color="#00ff81"/><stop offset="0.547" stop-color="#00ff01"/><stop offset="0.638" stop-color="#00ff00"/><stop offset="0.681" stop-color="#3fff00"/><stop offset="0.752" stop-color="#8eff00"/><stop offset="0.876" stop-color="#feff00"/><stop offset="0.956" stop-color="#ffc800"/><stop offset="1.000" stop-color="#ffcd00"/></linearGradient>
<linearGradient id="b20" x1="0" y1="0" x2="0" y2="1"><stop offset="0.000" stop-color="#2900d7"/><stop offset="0.037" stop-color="#0000ff"/><stop offset="0.117" stop-color="#0041ff"/><stop offset="0.299" stop-color="#00fffd"/><stop offset="0.369" stop-color="#00ffbf"/><stop offset="0.466" stop-color="#00ff7e"/><stop offset="0.544" stop-color="#00ff01"/><stop offset="0.634" stop-color="#00ff00"/><stop offset="0.678" stop-color="#3fff00"/><stop offset="0.748" stop-color="#8eff00"/><stop offset="0.876" stop-color="#ffff00"/><stop offset="0.960" stop-color="#ffcd00"/><stop offset="1.000" stop-color="#ffd200"/></linearGradient>
<linearGradient id="b21" x1="0" y1="0" x2="0" y2="1"><stop offset="0.000" stop-color="#2900d7"/><stop offset="0.037" stop-color="#0000ff"/><stop offset="0.114" stop-color="#003fff"/><stop offset="0.295" stop-color="#00fffd"/><stop offset="0.366" stop-color="#00ffbf"/><stop offset="0.463" stop-color="#00ff7e"/><stop offset="0.540" stop-color="#00ff00"/><stop offset="0.631" stop-color="#00ff00"/><stop offset="0.674" stop-color="#3fff00"/><stop offset="0.748" stop-color="#90ff00"/><stop offset="0.872" stop-color="#feff00"/><stop offset="0.963" stop-color="#ffd300"/><stop offset="1.000" stop-color="#ffd800"/></linearGradient>
<linearGradient id="b22" x1="0" y1="0" x2="0" y2="1"><stop offset="0.000" stop-color="#2900d7"/><stop offset="0.037" stop-color="#0000ff"/><stop offset="0.114" stop-color="#003fff"/><stop offset="0.292" stop-color="#00fffe"/><stop offset="0.362" stop-color="#00ffc0"/><stop offset="0.460" stop-color="#00ff7e"/><stop offset="0.537" stop-color="#00ff00"/><stop offset="0.628" stop-color="#00ff00"/><stop offset="0.671" stop-color="#3fff00"/><stop offset="0.745" stop-color="#90ff00"/><stop offset="0.872" stop-color="#ffff00"/><stop offset="0.963" stop-color="#ffdb00"/><stop offset="1.000" stop-color="#ffdd00"/></linearGradient>
<linearGradient id="b23" x1="0" y1="0" x2="0" y2="1"><stop offset="0.000" stop-color="#2900d7"/><stop offset="0.037" stop-color="#0000ff"/><stop offset="0.114" stop-color="#0040ff"/><stop offset="0.289" stop-color="#00ffff"/><stop offset="0.359" stop-color="#00ffc0"/><stop offset="0.456" stop-color="#00ff7e"/><stop offset="0.534" stop-color="#00ff00"/><stop offset="0.624" stop-color="#01ff00"/><stop offset="0.668" stop-color="#3fff00"/><stop offset="0.742" stop-color="#8fff00"/><stop offset="0.872" stop-color="#ffff00"/><stop offset="0.963" stop-color="#ffe200"/><stop offset="1.000" stop-color="#ffe300"/></linearGradient>
<linearGradient id="b24" x1="0" y1="0" x2="0" y2="1"><stop offset="0.000" stop-color="#2900d7"/><stop offset="0.037" stop-color="#0000ff"/><stop offset="0.114" stop-color="#0040ff"/><stop offset="0.289" stop-color="#00fffd"/><stop offset="0.356" stop-color="#00ffc1"/><stop offset="0.453" stop-color="#00ff7e"/><stop offset="0.530" stop-color="#00ff00"/><stop offset="0.621" stop-color="#01ff00"/><stop offset="0.664" stop-color="#3fff00"/><stop offset="0.738" stop-color="#8eff00"/><stop offset="0.869" stop-color="#feff00"/><stop offset="0.950" stop-color="#ffeb00"/><stop offset="0.963" stop-color="#fef300"/><stop offset="0.977" stop-color="#f1f900"/><stop offset="1.000" stop-color="#c9fb00"/></linearGradient>
<linearGradient id="b25" x1="0" y1="0" x2="0" y2="1"><stop offset="0.000" stop-color="#2900d7"/><stop offset="0.037" stop-color="#0000ff"/><stop offset="0.111" stop-color="#003eff"/><stop offset="0.285" stop-color="#00fffe"/><stop offset="0.352" stop-color="#00ffc1"/><stop offset="0.446" stop-color="#00ff81"/><stop offset="0.527" stop-color="#00ff00"/><stop offset="0.617" stop-color="#02ff00"/><stop offset="0.661" stop-color="#40ff00"/><stop offset="0.735" stop-color="#8fff00"/><stop offset="0.866" stop-color="#feff00"/><stop offset="0.950" stop-color="#ffed00"/><stop offset="0.956" stop-color="#fff900"/><stop offset="0.963" stop-color="#efff00"/><stop offset="0.980" stop-color="#a7ff00"/><stop offset="0.987" stop-color="#7eff00"/><stop offset="0.997" stop-color="#2fff00"/><stop offset="1.000" stop-color="#1eff00"/></linearGradient>
<linearGradient id="b26" x1="0" y1="0" x2="0" y2="1"><stop offset="0.000" stop-color="#2900d7"/><stop offset="0.037" stop-color="#0000ff"/><stop offset="0.111" stop-color="#003fff"/><stop offset="0.282" stop-color="#00ffff"/><stop offset="0.349" stop-color="#00ffc1"/><stop offset="0.443" stop-color="#00ff81"/><stop offset="0.520" stop-color="#00ff00"/><stop offset="0.611" stop-color="#01ff00"/><stop offset="0.658" stop-color="#42ff00"/><stop offset="0.728" stop-color="#8eff00"/><stop offset="0.859" stop-color="#feff00"/><stop offset="0.950" stop-color="#ffeb00"/><stop offset="0.956" stop-color="#fffb00"/><stop offset="0.963" stop-color="#e9ff00"/><stop offset="0.980" stop-color="#92ff00"/><stop offset="0.987" stop-color="#58ff00"/><stop offset="0.990" stop-color="#36ff00"/><stop offset="0.993" stop-color="#0aff00"/><stop offset="1.000" stop-color="#00ff00"/></linearGradient>
<linearGradient id="b27" x1="0" y1="0" x2="0" y2="1"><stop offset="0.000" stop-color="#2900d7"/><stop offset="0.037" stop-color="#0000ff"/><stop offset="0.111" stop-color="#003fff"/><stop offset="0.279" stop-color="#00feff"/><stop offset="0.349" stop-color="#00ffbf"/><stop offset="0.440" stop-color="#00ff80"/><stop offset="0.517" stop-color="#00ff00"/><stop offset="0.604" stop-color="#00ff00"/><stop offset="0.651" stop-color="#41ff00"/><stop offset="0.721" stop-color="#8dff00"/><stop offset="0.852" stop-color="#fdff00"/><stop offset="0.950" stop-color="#ffea00"/><stop offset="0.956" stop-color="#fffa00"/><stop offset="0.963" stop-color="#eaff00"/><stop offset="0.977" stop-color="#a6ff00"/><stop offset="0.980" stop-color="#93ff00"/><stop offset="0.987" stop-color="#59ff00"/><stop offset="0.990" stop-color="#37ff00"/><stop offset="0.993" stop-color="#0aff00"/><stop offset="0.997" stop-color="#00ff00"/><stop offset="1.000" stop-color="#00ff00"/></linearGradient>
<linearGradient id="b28" x1="0" y1="0" x2="0" y2="1"><stop offset="0.000" stop-color="#2900d7"/><stop offset="0.037" stop-color="#0000ff"/><stop offset="0.111" stop-color="#0040ff"/><stop offset="0.279" stop-color="#00fffd"/><stop offset="0.346" stop-color="#00ffbf"/><stop offset="0.436" stop-color="#00ff7f"/><stop offset="0.510" stop-color="#00ff01"/><stop offset="0.601" stop-color="#02ff00"/><stop offset="0.644" stop-color="#40ff00"/><stop offset="0.718" stop-color="#8fff00"/><stop offset="0.846" stop-color="#fdff00"/><stop offset="0.950" stop-color="#ffe800"/><stop offset="0.956" stop-color="#fff800"/><stop offset="0.963" stop-color="#ebff00"/><stop offset="0.977" stop-color="#a7ff00"/><stop offset="0.980" stop-color="#93ff00"/><stop offset="0.987" stop-color="#59ff00"/><stop offset="0.990" stop-color="#37ff00"/><stop offset="0.993" stop-color="#0aff00"/><stop offset="0.997" stop-color="#00ff00"/><stop offset="1.000" stop-color="#00ff00"/></linearGradient>
<linearGradient id="b29" x1="0" y1="0" x2="0" y2="1"><stop offset="0.000" stop-color="#2900d7"/><stop offset="0.037" stop-color="#0000ff"/><stop offset="0.111" stop-color="#0041ff"/><stop offset="0.275" stop-color="#00fffe"/><stop offset="0.342" stop-color="#00ffbf"/><stop offset="0.433" stop-color="#00ff7e"/><stop offset="0.507" stop-color="#00ff00"/><stop offset="0.594" stop-color="#01ff00"/><stop offset="0.641" stop-color="#42ff00"/><stop offset="0.711" stop-color="#8eff00"/><stop offset="0.842" stop-color="#ffff00"/><stop offset="0.950" stop-color="#ffe700"/><stop offset="0.956" stop-color="#fff700"/><stop offset="0.963" stop-color="#ecff00"/><stop offset="0.977" stop-color="#a8ff00"/><stop offset="0.980" stop-color="#94ff00"/><stop offset="0.987" stop-color="#5aff00"/><stop offset="0.990" stop-color="#38ff00"/><stop offset="0.993" stop-color="#0bff00"/><stop offset="0.997" stop-color="#00ff00"/><stop offset="1.000" stop-color="#00ff00"/></linearGradient>
<linearGradient id="b30" x1="0" y1="0" x2="0" y2="1"><stop offset="0.000" stop-color="#2900d7"/><stop offset="0.037" stop-color="#0000ff"/><stop offset="0.107" stop-color="#003eff"/><stop offset="0.168" stop-color="#0080ff"/><stop offset="0.272" stop-color="#00ffff"/><stop offset="0.339" stop-color="#00ffbf"/><stop offset="0.426" stop-color="#00ff81"/><stop offset="0.500" stop-color="#00ff01"/><stop offset="0.587" stop-color="#00ff00"/><stop offset="0.634" stop-color="#41ff00"/><stop offset="0.705" stop-color="#8dff00"/><stop offset="0.836" stop-color="#feff00"/><stop offset="0.950" stop-color="#ffe500"/><stop offset="0.956" stop-color="#fff500"/><stop offset="0.963" stop-color="#edff00"/><stop offset="0.977" stop-color="#a8ff00"/><stop offset="0.980" stop-color="#94ff00"/><stop offset="0.987" stop-color="#5aff00"/><stop offset="0.990" stop-color="#38ff00"/><stop offset="0.993" stop-color="#0bff00"/><stop offset="0.997" stop-color="#00ff00"/><stop offset="1.000" stop-color="#00ff00"/></linearGradient>
<linearGradient id="b31" x1="0" y1="0" x2="0" y2="1"><stop offset="0.000" stop-color="#2900d7"/><stop offset="0.037" stop-color="#0000ff"/><stop offset="0.107" stop-color="#003fff"/><stop offset="0.272" stop-color="#00fffd"/><stop offset="0.336" stop-color="#00ffbf"/><stop offset="0.423" stop-color="#00ff81"/><stop offset="0.497" stop-color="#00ff00"/><stop offset="0.584" stop-color="#01ff00"/><stop offset="0.628" stop-color="#40ff00"/><stop offset="0.701" stop-color="#90ff00"/><stop offset="0.829" stop-color="#feff00"/><stop offset="0.950" stop-color="#ffe300"/><stop offset="0.956" stop-color="#fff400"/><stop offset="0.960" stop-color="#fcff00"/><stop offset="0.963" stop-color="#eeff00"/><stop offset="0.977" stop-color="#a9ff00"/><stop offset="0.980" stop-color="#95ff00"/><stop offset="0.987" stop-color="#5bff00"/><stop offset="0.990" stop-color="#39ff00"/><stop offset="0.993" stop-color="#0cff00"/><stop offset="0.997" stop-color="#00ff00"/><stop offset="1.000" stop-color="#00ff00"/></linearGradient>
<linearGradient id="b32" x1="0" y1="0" x2="0" y2="1"><stop offset="0.000" stop-color="#2900d7"/><stop offset="0.037" stop-color="#0000ff"/><stop offset="0.107" stop-color="#0040ff"/><stop offset="0.268" stop-color="#00fffe"/><stop offset="0.332" stop-color="#00ffc0"/><stop offset="0.419" stop-color="#00ff80"/><stop offset="0.493" stop-color="#00ff00"/><stop offset="0.577" stop-color="#01ff00"/><stop offset="0.624" stop-color="#42ff00"/><stop offset="0.695" stop-color="#8fff00"/><stop offset="0.822" stop-color="#fdff00"/><stop offset="0.950" stop-color="#ffe200"/><stop offset="0.956" stop-color="#fff200"/><stop offset="0.960" stop-color="#fdff00"/><stop offset="0.963" stop-color="#efff00"/><stop offset="0.977" stop-color="#a9ff00"/><stop offset="0.980" stop-color="#95ff00"/><stop offset="0.987" stop-color="#5bff00"/><stop offset="0.990" stop-color="#39ff00"/><stop offset="0.993" stop-color="#0cff00"/><stop offset="0.997" stop-color="#00ff00"/><stop offset="1.000" stop-color="#00ff00"/></linearGradient>
<linearGradient id="b33" x1="0" y1="0" x2="0" y2="1"><stop offset="0.000" stop-color="#2900d7"/><stop offset="0.037" stop-color="#0000ff"/><stop offset="0.107" stop-color="#0040ff"/><stop offset="0.265" stop-color="#00fffe"/><stop offset="0.329" stop-color="#00ffc0"/><stop offset="0.416" stop-color="#00ff7f"/><stop offset="0.487" stop-color="#00ff00"/><stop offset="0.574" stop-color="#02ff00"/><stop offset="0.617" stop-color="#41ff00"/><stop offset="0.688" stop-color="#8dff00"/><stop offset="0.819" stop-color="#ffff00"/><stop offset="0.950" stop-color="#ffe000"/><stop offset="0.956" stop-color="#fff100"/><stop offset="0.960" stop-color="#feff00"/><stop offset="0.963" stop-color="#f0ff00"/><stop offset="0.977" stop-color="#aaff00"/><stop offset="0.980" stop-color="#96ff00"/><stop offset="0.987" stop-color="#5cff00"/><stop offset="0.990" stop-color="#3aff00"/><stop offset="0.993" stop-color="#0cff00"/><stop offset="0.997" stop-color="#00ff00"/><stop offset="1.000" stop-color="#00ff00"/></linearGradient>
<linearGradient id="b34" x1="0" y1="0" x2="0" y2="1"><stop offset="0.000" stop-color="#2900d7"/><stop offset="0.037" stop-color="#0000ff"/><stop offset="0.104" stop-color="#003eff"/><stop offset="0.161" stop-color="#007eff"/><stop offset="0.262" stop-color="#00feff"/><stop offset="0.326" stop-color="#00ffc0"/><stop offset="0.413" stop-color="#00ff7e"/><stop offset="0.483" stop-color="#00ff00"/><stop offset="0.567" stop-color="#01ff00"/><stop offset="0.614" stop-color="#42ff00"/><stop offset="0.685" stop-color="#8dff00"/><stop offset="0.815" stop-color="#feff00"/><stop offset="0.950" stop-color="#ffdf00"/><stop offset="0.956" stop-color="#fff000"/><stop offset="0.960" stop-color="#ffff00"/><stop offset="0.963" stop-color="#f1ff00"/><stop offset="0.977" stop-color="#aaff00"/><stop offset="0.980" stop-color="#96ff00"/><stop offset="0.987" stop-color="#5cff00"/><stop offset="0.990" stop-color="#3aff00"/><stop offset="0.993" stop-color="#0cff00"/><stop offset="0.997" stop-color="#00ff00"/><stop offset="1.000" stop-color="#00ff00"/></linearGradient>
<linearGradient id="b35" x1="0" y1="0" x2="0" y2="1"><stop offset="0.000" stop-color="#2900d7"/><stop offset="0.037" stop-color="#0000ff"/><stop offset="0.104" stop-color="#003fff"/><stop offset="0.262" stop-color="#00fffd"/><stop offset="0.322" stop-color="#00ffc0"/><stop offset="0.406" stop-color="#00ff81"/><stop offset="0.477" stop-color="#00ff01"/><stop offset="0.564" stop-color="#02ff00"/><stop offset="0.607" stop-color="#3fff00"/><stop offset="0.681" stop-color="#8eff00"/><stop offset="0.815" stop-color="#ffff00"/><stop offset="0.950" stop-color="#ffde00"/><stop offset="0.953" stop-color="#ffe300"/><stop offset="0.960" stop-color="#fffe00"/><stop offset="0.980" stop-color="#96ff00"/><stop offset="0.990" stop-color="#3aff00"/><stop offset="0.993" stop-color="#0dff00"/><stop offset="0.997" stop-color="#00ff00"/><stop offset="1.000" stop-color="#00ff00"/></linearGradient>
<linearGradient id="b36" x1="0" y1="0" x2="0" y2="1"><stop offset="0.000" stop-color="#2900d7"/><stop offset="0.037" stop-color="#0000ff"/><stop offset="0.104" stop-color="#003fff"/><stop offset="0.258" stop-color="#00fffe"/><stop offset="0.319" stop-color="#00ffc1"/><stop offset="0.403" stop-color="#00ff81"/><stop offset="0.473" stop-color="#00ff00"/><stop offset="0.557" stop-color="#01ff00"/><stop offset="0.604" stop-color="#41ff00"/><stop offset="0.678" stop-color="#8eff00"/><stop offset="0.812" stop-color="#ffff00"/><stop offset="0.950" stop-color="#ffdd00"/><stop offset="0.953" stop-color="#ffe200"/><stop offset="0.960" stop-color="#fffd00"/><stop offset="0.980" stop-color="#97ff00"/><stop offset="0.990" stop-color="#3bff00"/><stop offset="0.993" stop-color="#0dff00"/><stop offset="0.997" stop-color="#00ff00"/><stop offset="1.000" stop-color="#00ff00"/></linearGradient>
<linearGradient id="b37" x1="0" y1="0" x2="0" y2="1"><stop offset="0.000" stop-color="#2900d7"/><stop offset="0.037" stop-color="#0000ff"/><stop offset="0.104" stop-color="#0040ff"/><stop offset="0.255" stop-color="#00ffff"/><stop offset="0.315" stop-color="#00ffc1"/><stop offset="0.399" stop-color="#00ff81"/><stop offset="0.466" stop-color="#00ff01"/><stop offset="0.554" stop-color="#01ff00"/><stop offset="0.601" stop-color="#41ff00"/><stop offset="0.674" stop-color="#8eff00"/><stop offset="0.809" stop-color="#fdff00"/><stop offset="0.950" stop-color="#ffdc00"/><stop offset="0.953" stop-color="#ffe100"/><stop offset="0.960" stop-color="#fffc00"/><stop offset="0.966" stop-color="#e2ff00"/><stop offset="0.980" stop-color="#97ff00"/><stop offset="0.990" stop-color="#3bff00"/><stop offset="0.993" stop-color="#0dff00"/><stop offset="0.997" stop-color="#00ff00"/><stop offset="1.000" stop-color="#00ff00"/></linearGradient>
<linearGradient id="b38" x1="0" y1="0" x2="0" y2="1"><stop offset="0.000" stop-color="#2900d7"/><stop offset="0.037" stop-color="#0000ff"/><stop offset="0.104" stop-color="#0040ff"/><stop offset="0.255" stop-color="#00fffe"/><stop offset="0.315" stop-color="#00ffc0"/><stop offset="0.399" stop-color="#00ff7e"/><stop offset="0.466" stop-color="#00ff00"/><stop offset="0.550" stop-color="#00ff00"/><stop offset="0.597" stop-color="#40ff00"/><stop offset="0.674" stop-color="#90ff00"/><stop offset="0.809" stop-color="#ffff00"/><stop offset="0.950" stop-color="#ffdb00"/><stop offset="0.953" stop-color="#ffe000"/><stop offset="0.960" stop-color="#fffb00"/><stop offset="0.966" stop-color="#e2ff00"/><stop offset="0.980" stop-color="#98ff00"/><stop offset="0.990" stop-color="#3bff00"/><stop offset="0.993" stop-color="#0dff00"/><stop offset="0.997" stop-color="#00ff00"/><stop offset="1.000" stop-color="#00ff00"/></linearGradient>
<linearGradient id="b39" x1="0" y1="0" x2="0" y2="1"><stop offset="0.000" stop-color="#2900d7"/><stop offset="0.037" stop-color="#0000ff"/><stop offset="0.104" stop-color="#0041ff"/><stop offset="0.255" stop-color="#00fffd"/><stop offset="0.315" stop-color="#00ffbf"/><stop offset="0.396" stop-color="#00ff81"/><stop offset="0.463" stop-color="#00ff00"/><stop offset="0.550" stop-color="#02ff00"/><stop offset="0.594" stop-color="#3eff00"/><stop offset="0.671" stop-color="#8fff00"/><stop offset="0.805" stop-color="#feff00"/><stop offset="0.950" stop-color="#ffda00"/><stop offset="0.953" stop-color="#ffdf00"/><stop offset="0.960" stop-color="#fffa00"/><stop offset="0.966" stop-color="#e3ff00"/><stop offset="0.980" stop-color="#98ff00"/><stop offset="0.990" stop-color="#3cff00"/><stop offset="0.993" stop-color="#0eff00"/><stop offset="0.997" stop-color="#00ff00"/><stop offset="1.000" stop-color="#00ff00"/></linearGradient>
<linearGradient id="b40" x1="0" y1="0" x2="0" y2="1"><stop offset="0.000" stop-color="#2900d7"/><stop offset="0.037" stop-color="#0000ff"/><stop offset="0.101" stop-color="#003dff"/><stop offset="0.255" stop-color="#00fffc"/><stop offset="0.312" stop-color="#00ffc1"/><stop offset="0.396" stop-color="#00ff7f"/><stop offset="0.463" stop-color="#00ff00"/><stop offset="0.547" stop-color="#01ff00"/><stop offset="0.594" stop-color="#41ff00"/><stop offset="0.668" stop-color="#8dff00"/><stop offset="0.805" stop-color="#ffff00"/><stop offset="0.950" stop-color="#ffd900"/><stop offset="0.953" stop-color="#ffde00"/><stop offset="0.960" stop-color="#fff900"/><stop offset="0.963" stop-color="#f5ff00"/><stop offset="0.980" stop-color="#98ff00"/><stop offset="0.990" stop-color="#3cff00"/><stop offset="0.993" stop-color="#0eff00"/><stop offset="0.997" stop-color="#00ff00"/><stop offset="1.000" stop-color="#00ff00"/></linearGradient>
<linearGradient id="b41" x1="0" y1="0" x2="0" y2="1"><stop offset="0.000" stop-color="#2900d7"/><stop offset="0.037" stop-color="#0000ff"/><stop offset="0.101" stop-color="#003eff"/><stop offset="0.158" stop-color="#0081ff"/><stop offset="0.252" stop-color="#00ffff"/><stop offset="0.312" stop-color="#00ffc0"/><stop offset="0.393" stop-color="#00ff81"/><stop offset="0.460" stop-color="#00ff00"/><stop offset="0.544" stop-color="#00ff00"/><stop offset="0.591" stop-color="#3fff00"/><stop offset="0.668" stop-color="#8fff00"/><stop offset="0.802" stop-color="#ffff00"/><stop offset="0.950" stop-color="#ffd800"/><stop offset="0.953" stop-color="#ffdd00"/><stop offset="0.960" stop-color="#fff800"/><stop offset="0.963" stop-color="#f6ff00"/><stop offset="0.980" stop-color="#99ff00"/><stop offset="0.990" stop-color="#3dff00"/><stop offset="0.993" stop-color="#0eff00"/><stop offset="0.997" stop-color="#00ff00"/><stop offset="1.000" stop-color="#00ff00"/></linearGradient>
<linearGradient id="b42" x1="0" y1="0" x2="0" y2="1"><stop offset="0.000" stop-color="#2900d7"/><stop offset="0.037" stop-color="#0000ff"/><stop offset="0.101" stop-color="#003eff"/><stop offset="0.252" stop-color="#00fffe"/><stop offset="0.312" stop-color="#00ffbf"/><stop offset="0.393" stop-color="#00ff7f"/><stop offset="0.460" stop-color="#00ff00"/><stop offset="0.544" stop-color="#01ff00"/><stop offset="0.591" stop-color="#41ff00"/><stop offset="0.668" stop-color="#90ff00"/><stop offset="0.802" stop-color="#ffff00"/><stop offset="0.950" stop-color="#ffd700"/><stop offset="0.953" stop-color="#ffdc00"/><stop offset="0.960" stop-color="#fff700"/><stop offset="0.963" stop-color="#f6ff00"/><stop offset="0.980" stop-color="#99ff00"/><stop offset="0.990" stop-color="#3dff00"/><stop offset="0.993" stop-color="#0eff00"/><stop offset="0.997" stop-color="#00ff00"/><stop offset="1.000" stop-color="#00ff00"/></linearGradient>
<linearGradient id="b43" x1="0" y1="0" x2="0" y2="1"><stop offset="0.000" stop-color="#2900d7"/><stop offset="0.037" stop-color="#0000ff"/><stop offset="0.101" stop-color="#003eff"/><stop offset="0.252" stop-color="#00fffd"/><stop offset="0.309" stop-color="#00ffc1"/><stop offset="0.389" stop-color="#00ff81"/><stop offset="0.456" stop-color="#00ff00"/><stop offset="0.540" stop-color="#00ff00"/><stop offset="0.587" stop-color="#3eff00"/><stop offset="0.664" stop-color="#8dff00"/><stop offset="0.802" stop-color="#feff00"/><stop offset="0.950" stop-color="#ffd600"/><stop offset="0.953" stop-color="#ffdb00"/><stop offset="0.960" stop-color="#fff600"/><stop offset="0.963" stop-color="#f7ff00"/><stop offset="0.980" stop-color="#99ff00"/><stop offset="0.990" stop-color="#3dff00"/><stop offset="0.993" stop-color="#0fff00"/><stop offset="0.997" stop-color="#00ff00"/><stop offset="1.000" stop-color="#00ff00"/></linearGradient>
<linearGradient id="b44" x1="0" y1="0" x2="0" y2="1"><stop offset="0.000" stop-color="#2900d7"/><stop offset="0.037" stop-color="#0000ff"/><stop offset="0.101" stop-color="#003eff"/><stop offset="0.252" stop-color="#00fffd"/><stop offset="0.309" stop-color="#00ffc0"/><stop offset="0.389" stop-color="#00ff80"/><stop offset="0.456" stop-color="#00ff00"/><stop offset="0.540" stop-color="#01ff00"/><stop offset="0.587" stop-color="#40ff00"/><stop offset="0.664" stop-color="#8eff00"/><stop offset="0.802" stop-color="#feff00"/><stop offset="0.950" stop-color="#ffd500"/><stop offset="0.953" stop-color="#ffda00"/><stop offset="0.960" stop-color="#fff500"/><stop offset="0.963" stop-color="#f8ff00"/><stop offset="0.980" stop-color="#9aff00"/><stop offset="0.990" stop-color="#3eff00"/><stop offset="0.993" stop-color="#0fff00"/><stop offset="0.997" stop-color="#00ff00"/><stop offset="1.000" stop-color="#00ff00"/></linearGradient>
<linearGradient id="b45" x1="0" y1="0" x2="0" y2="1"><stop offset="0.000" stop-color="#2900d7"/><stop offset="0.037" stop-color="#0000ff"/><stop offset="0.101" stop-color="#003fff"/><stop offset="0.154" stop-color="#007fff"/><stop offset="0.248" stop-color="#00ffff"/><stop offset="0.309" stop-color="#00ffbf"/><stop offset="0.389" stop-color="#00ff7e"/><stop offset="0.453" stop-color="#00ff00"/><stop offset="0.537" stop-color="#00ff00"/><stop offset="0.587" stop-color="#41ff00"/><stop offset="0.664" stop-color="#8fff00"/><stop offset="0.805" stop-color="#ffff00"/><stop offset="0.950" stop-color="#ffd400"/><stop offset="0.953" stop-color="#ffd900"/><stop offset="0.960" stop-color="#fff500"/><stop offset="0.963" stop-color="#f8ff00"/><stop offset="0.980" stop-color="#9aff00"/><stop offset="0.990" stop-color="#3eff00"/><stop offset="0.993" stop-color="#0fff00"/><stop offset="0.997" stop-color="#00ff00"/><stop offset="1.000" stop-color="#00ff00"/></linearGradient>
<linearGradient id="b46" x1="0" y1="0" x2="0" y2="1"><stop offset="0.000" stop-color="#2800d8"/><stop offset="0.037" stop-color="#0000ff"/><stop offset="0.101" stop-color="#003eff"/><stop offset="0.154" stop-color="#007fff"/><stop offset="0.248" stop-color="#00ffff"/><stop offset="0.309" stop-color="#00ffbf"/><stop offset="0.389" stop-color="#00ff7f"/><stop offset="0.453" stop-color="#00ff01"/><stop offset="0.540" stop-color="#02ff00"/><stop offset="0.587" stop-color="#40ff00"/><stop offset="0.664" stop-color="#8eff00"/><stop offset="0.805" stop-color="#ffff00"/><stop offset="0.950" stop-color="#ffd500"/><stop offset="0.953" stop-color="#ffda00"/><stop offset="0.960" stop-color="#fff500"/><stop offset="0.963" stop-color="#f8ff00"/><stop offset="0.980" stop-color="#9aff00"/><stop offset="0.990" stop-color="#3eff00"/><stop offset="0.993" stop-color="#0fff00"/><stop offset="0.997" stop-color="#00ff00"/><stop offset="1.000" stop-color="#00ff00"/></linearGradient>
<linearGradient id="b47" x1="0" y1="0" x2="0" y2="1"><stop offset="0.000" stop-color="#2800d8"/><stop offset="0.037" stop-color="#0100fe"/><stop offset="0.101" stop-color="#003eff"/><stop offset="0.252" stop-color="#00fffc"/><stop offset="0.309" stop-color="#00ffc0"/><stop offset="0.389" stop-color="#00ff81"/><stop offset="0.456" stop-color="#00ff00"/><stop offset="0.540" stop-color="#00ff00"/><stop offset="0.591" stop-color="#42ff00"/><stop offset="0.668" stop-color="#90ff00"/><stop offset="0.805" stop-color="#ffff00"/><stop offset="0.950" stop-color="#ffd600"/><stop offset="0.953" stop-color="#ffdb00"/><stop offset="0.960" stop-color="#fff600"/><stop offset="0.963" stop-color="#f7ff00"/><stop offset="0.980" stop-color="#9aff00"/><stop offset="0.990" stop-color="#3dff00"/><stop offset="0.993" stop-color="#0fff00"/><stop offset="0.997" stop-color="#00ff00"/><stop offset="1.000" stop-color="#00ff00"/></linearGradient>
<linearGradient id="b48" x1="0" y1="0" x2="0" y2="1"><stop offset="0.000" stop-color="#2700d8"/><stop offset="0.037" stop-color="#0100fe"/><stop offset="0.101" stop-color="#003eff"/><stop offset="0.252" stop-color="#00fffd"/><stop offset="0.309" stop-color="#00ffc1"/><stop offset="0.393" stop-color="#00ff7f"/><stop offset="0.460" stop-color="#00ff00"/><stop offset="0.544" stop-color="#00ff00"/><stop offset="0.591" stop-color="#3fff00"/><stop offset="0.668" stop-color="#8eff00"/><stop offset="0.805" stop-color="#ffff00"/><stop offset="0.950" stop-color="#ffd700"/><stop offset="0.953" stop-color="#ffdc00"/><stop offset="0.960" stop-color="#fff700"/><stop offset="0.963" stop-color="#f7ff00"/><stop offset="0.980" stop-color="#99ff00"/><stop offset="0.990" stop-color="#3dff00"/><stop offset="0.993" stop-color="#0eff00"/><stop offset="0.997" stop-color="#00ff00"/><stop offset="1.000" stop-color="#00ff00"/></linearGradient>
<linearGradient id="b49" x1="0" y1="0" x2="0" y2="1"><stop offset="0.000" stop-color="#2700d9"/><stop offset="0.040" stop-color="#0002ff"/><stop offset="0.104" stop-color="#0041ff"/><stop offset="0.252" stop-color="#00fffe"/><stop offset="0.312" stop-color="#00ffbf"/><stop offset="0.393" stop-color="#00ff81"/><stop offset="0.460" stop-color="#00ff01"/><stop offset="0.547" stop-color="#01ff00"/><stop offset="0.594" stop-color="#41ff00"/><stop offset="0.671" stop-color="#90ff00"/><stop offset="0.805" stop-color="#feff00"/><stop offset="0.950" stop-color="#ffd800"/><stop offset="0.953" stop-color="#ffdd00"/><stop offset="0.960" stop-color="#fff800"/><stop offset="0.963" stop-color="#f6ff00"/><stop offset="0.980" stop-color="#99ff00"/><stop offset="0.990" stop-color="#3dff00"/><stop offset="0.993" stop-color="#0eff00"/><stop offset="0.997" stop-color="#00ff00"/><stop offset="1.000" stop-color="#00ff00"/></linearGradient>
<linearGradient id="b50" x1="0" y1="0" x2="0" y2="1"><stop offset="0.000" stop-color="#2700d9"/><stop offset="0.040" stop-color="#0001ff"/><stop offset="0.104" stop-color="#0040ff"/><stop offset="0.252" stop-color="#00fffe"/><stop offset="0.312" stop-color="#00ffc0"/><stop offset="0.396" stop-color="#00ff7f"/><stop offset="0.463" stop-color="#00ff00"/><stop offset="0.550" stop-color="#02ff00"/><stop offset="0.597" stop-color="#42ff00"/><stop offset="0.671" stop-color="#8eff00"/><stop offset="0.805" stop-color="#feff00"/><stop offset="0.950" stop-color="#ffd900"/><stop offset="0.953" stop-color="#ffde00"/><stop offset="0.960" stop-color="#fff900"/><stop offset="0.963" stop-color="#f5ff00"/><stop offset="0.980" stop-color="#98ff00"/><stop offset="0.990" stop-color="#3cff00"/><stop offset="0.993" stop-color="#0eff00"/><stop offset="0.997" stop-color="#00ff00"/><stop offset="1.000" stop-color="#00ff00"/></linearGradient>
<linearGradient id="b51" x1="0" y1="0" x2="0" y2="1"><stop offset="0.000" stop-color="#2600da"/><stop offset="0.040" stop-color="#0001ff"/><stop offset="0.104" stop-color="#0040ff"/><stop offset="0.252" stop-color="#00ffff"/><stop offset="0.312" stop-color="#00ffc1"/><stop offset="0.396" stop-color="#00ff81"/><stop offset="0.466" stop-color="#00ff00"/><stop offset="0.550" stop-color="#00ff00"/><stop offset="0.597" stop-color="#40ff00"/><stop offset="0.674" stop-color="#90ff00"/><stop offset="0.809" stop-color="#ffff00"/><stop offset="0.950" stop-color="#ffda00"/><stop offset="0.953" stop-color="#ffdf00"/><stop offset="0.960" stop-color="#fffa00"/><stop offset="0.963" stop-color="#f5ff00"/><stop offset="0.980" stop-color="#98ff00"/><stop offset="0.990" stop-color="#3cff00"/><stop offset="0.993" stop-color="#0eff00"/><stop offset="0.997" stop-color="#00ff00"/><stop offset="1.000" stop-color="#00ff00"/></linearGradient>
<linearGradient id="b52" x1="0" y1="0" x2="0" y2="1"><stop offset="0.000" stop-color="#2600da"/><stop offset="0.040" stop-color="#0001ff"/><stop offset="0.104" stop-color="#003fff"/><stop offset="0.158" stop-color="#0080ff"/><stop offset="0.252" stop-color="#00ffff"/><stop offset="0.315" stop-color="#00ffbf"/><stop offset="0.399" stop-color="#00ff7f"/><stop offset="0.470" stop-color="#00ff00"/><stop offset="0.554" stop-color="#00ff00"/><stop offset="0.601" stop-color="#41ff00"/><stop offset="0.674" stop-color="#8fff00"/><stop offset="0.809" stop-color="#ffff00"/><stop offset="0.950" stop-color="#ffdb00"/><stop offset="0.953" stop-color="#ffe000"/><stop offset="0.960" stop-color="#fffb00"/><stop offset="0.966" stop-color="#e3ff00"/><stop offset="0.980" stop-color="#98ff00"/><stop offset="0.990" stop-color="#3cff00"/><stop offset="0.993" stop-color="#0eff00"/><stop offset="0.997" stop-color="#00ff00"/><stop offset="1.000" stop-color="#00ff00"/></linearGradient>
<linearGradient id="b53" x1="0" y1="0" x2="0" y2="1"><stop offset="0.000" stop-color="#2500db"/><stop offset="0.040" stop-color="#0000ff"/><stop offset="0.104" stop-color="#003fff"/><stop offset="0.255" stop-color="#00fffc"/><stop offset="0.315" stop-color="#00ffc0"/><stop offset="0.399" stop-color="#00ff81"/><stop offset="0.470" stop-color="#00ff00"/><stop offset="0.557" stop-color="#01ff00"/><stop offset="0.601" stop-color="#3fff00"/><stop offset="0.674" stop-color="#8dff00"/><stop offset="0.809" stop-color="#ffff00"/><stop offset="0.950" stop-color="#ffdc00"/><stop offset="0.953" stop-color="#ffe100"/><stop offset="0.960" stop-color="#fffc00"/><stop offset="0.966" stop-color="#e2ff00"/><stop offset="0.980" stop-color="#97ff00"/><stop offset="0.990" stop-color="#3bff00"/><stop offset="0.993" stop-color="#0dff00"/><stop offset="0.997" stop-color="#00ff00"/><stop offset="1.000" stop-color="#00ff00"/></linearGradient>
<linearGradient id="b54" x1="0" y1="0" x2="0" y2="1"><stop offset="0.000" stop-color="#2500db"/><stop offset="0.040" stop-color="#0000ff"/><stop offset="0.104" stop-color="#003eff"/><stop offset="0.255" stop-color="#00fffd"/><stop offset="0.315" stop-color="#00ffc1"/><stop offset="0.403" stop-color="#00ff80"/><stop offset="0.473" stop-color="#00ff00"/><stop offset="0.557" stop-color="#00ff00"/><stop offset="0.604" stop-color="#41ff00"/><stop offset="0.678" stop-color="#90ff00"/><stop offset="0.809" stop-color="#ffff00"/><stop offset="0.950" stop-color="#ffdd00"/><stop offset="0.953" stop-color="#ffe200"/><stop offset="0.960" stop-color="#fffd00"/><stop offset="0.966" stop-color="#e2ff00"/><stop offset="0.980" stop-color="#97ff00"/><stop offset="0.990" stop-color="#3bff00"/><stop offset="0.993" stop-color="#0dff00"/><stop offset="0.997" stop-color="#00ff00"/><stop offset="1.000" stop-color="#00ff00"/></linearGradient>
<linearGradient id="b55" x1="0" y1="0" x2="0" y2="1"><stop offset="0.000" stop-color="#2400db"/><stop offset="0.040" stop-color="#0000ff"/><stop offset="0.104" stop-color="#003eff"/><stop offset="0.255" stop-color="#00fffe"/><stop offset="0.319" stop-color="#00ffbf"/><stop offset="0.403" stop-color="#00ff81"/><stop offset="0.477" stop-color="#00ff00"/><stop offset="0.560" stop-color="#00ff00"/><stop offset="0.604" stop-color="#40ff00"/><stop offset="0.678" stop-color="#90ff00"/><stop offset="0.805" stop-color="#ffff00"/><stop offset="0.950" stop-color="#ffde00"/><stop offset="0.953" stop-color="#ffe300"/><stop offset="0.960" stop-color="#fffe00"/><stop offset="0.980" stop-color="#97ff00"/><stop offset="0.990" stop-color="#3bff00"/><stop offset="0.993" stop-color="#0dff00"/><stop offset="0.997" stop-color="#00ff00"/><stop offset="1.000" stop-color="#00ff00"/></linearGradient>
<linearGradient id="b56" x1="0" y1="0" x2="0" y2="1"><stop offset="0.000" stop-color="#2400dc"/><stop offset="0.040" stop-color="#0100fe"/><stop offset="0.104" stop-color="#003dff"/><stop offset="0.255" stop-color="#00fffe"/><stop offset="0.319" stop-color="#00ffc0"/><stop offset="0.406" stop-color="#00ff80"/><stop offset="0.477" stop-color="#00ff00"/><stop offset="0.564" stop-color="#02ff00"/><stop offset="0.607" stop-color="#42ff00"/><stop offset="0.678" stop-color="#90ff00"/><stop offset="0.802" stop-color="#ffff00"/><stop offset="0.950" stop-color="#ffde00"/><stop offset="0.953" stop-color="#ffe400"/><stop offset="0.960" stop-color="#ffff00"/><stop offset="0.980" stop-color="#96ff00"/><stop offset="0.990" stop-color="#3aff00"/><stop offset="0.993" stop-color="#0dff00"/><stop offset="0.997" stop-color="#00ff00"/><stop offset="1.000" stop-color="#00ff00"/></linearGradient>
<linearGradient id="b57" x1="0" y1="0" x2="0" y2="1"><stop offset="0.000" stop-color="#2300dc"/><stop offset="0.044" stop-color="#0002ff"/><stop offset="0.107" stop-color="#0040ff"/><stop offset="0.255" stop-color="#00ffff"/><stop offset="0.319" stop-color="#00ffc1"/><stop offset="0.406" stop-color="#00ff81"/><stop offset="0.480" stop-color="#00ff00"/><stop offset="0.564" stop-color="#00ff00"/><stop offset="0.607" stop-color="#41ff00"/><stop offset="0.674" stop-color="#8dff00"/><stop offset="0.799" stop-color="#feff00"/><stop offset="0.950" stop-color="#ffdf00"/><stop offset="0.956" stop-color="#fff000"/><stop offset="0.960" stop-color="#ffff00"/><stop offset="0.963" stop-color="#f1ff00"/><stop offset="0.977" stop-color="#aaff00"/><stop offset="0.980" stop-color="#96ff00"/><stop offset="0.987" stop-color="#5cff00"/><stop offset="0.990" stop-color="#3aff00"/><stop offset="0.993" stop-color="#0cff00"/><stop offset="0.997" stop-color="#00ff00"/><stop offset="1.000" stop-color="#00ff00"/></linearGradient>
<linearGradient id="b58" x1="0" y1="0" x2="0" y2="1"><stop offset="0.000" stop-color="#2300dd"/><stop offset="0.044" stop-color="#0002ff"/><stop offset="0.107" stop-color="#0040ff"/><stop offset="0.255" stop-color="#00ffff"/><stop offset="0.319" stop-color="#00ffc1"/><stop offset="0.409" stop-color="#00ff7f"/><stop offset="0.480" stop-color="#00ff00"/><stop offset="0.567" stop-color="#03ff00"/><stop offset="0.607" stop-color="#40ff00"/><stop offset="0.674" stop-color="#8eff00"/><stop offset="0.795" stop-color="#feff00"/><stop offset="0.950" stop-color="#ffde00"/><stop offset="0.956" stop-color="#ffef00"/><stop offset="0.960" stop-color="#fffe00"/><stop offset="0.963" stop-color="#f1ff00"/><stop offset="0.977" stop-color="#abff00"/><stop offset="0.980" stop-color="#96ff00"/><stop offset="0.987" stop-color="#5cff00"/><stop offset="0.990" stop-color="#3aff00"/><stop offset="0.993" stop-color="#0dff00"/><stop offset="0.997" stop-color="#00ff00"/><stop offset="1.000" stop-color="#00ff00"/></linearGradient>
<linearGradient id="b59" x1="0" y1="0" x2="0" y2="1"><stop offset="0.000" stop-color="#2300dd"/><stop offset="0.044" stop-color="#0001ff"/><stop offset="0.107" stop-color="#0040ff"/><stop offset="0.255" stop-color="#00fffe"/><stop offset="0.319" stop-color="#00ffc1"/><stop offset="0.406" stop-color="#00ff81"/><stop offset="0.480" stop-color="#00ff00"/><stop offset="0.564" stop-color="#00ff00"/><stop offset="0.607" stop-color="#42ff00"/><stop offset="0.674" stop-color="#90ff00"/><stop offset="0.792" stop-color="#fdff00"/><stop offset="0.950" stop-color="#ffd800"/><stop offset="0.953" stop-color="#ffdd00"/><stop offset="0.960" stop-color="#fff900"/><stop offset="0.963" stop-color="#f5ff00"/><stop offset="0.980" stop-color="#98ff00"/><stop offset="0.990" stop-color="#3cff00"/><stop offset="0.993" stop-color="#0eff00"/><stop offset="0.997" stop-color="#00ff00"/><stop offset="1.000" stop-color="#00ff00"/></linearGradient>
<linearGradient id="b60" x1="0" y1="0" x2="0" y2="1"><stop offset="0.000" stop-color="#2200de"/><stop offset="0.044" stop-color="#0001ff"/><stop offset="0.107" stop-color="#0040ff"/><stop offset="0.255" stop-color="#00fffe"/><stop offset="0.319" stop-color="#00ffc0"/><stop offset="0.406" stop-color="#00ff81"/><stop offset="0.480" stop-color="#00ff00"/><stop offset="0.564" stop-color="#02ff00"/><stop offset="0.604" stop-color="#40ff00"/><stop offset="0.671" stop-color="#8fff00"/><stop offset="0.792" stop-color="#ffff00"/><stop offset="0.950" stop-color="#ffd200"/><stop offset="0.953" stop-color="#ffd700"/><stop offset="0.960" stop-color="#fff200"/><stop offset="0.963" stop-color="#faff00"/><stop offset="0.980" stop-color="#9bff00"/><stop offset="0.990" stop-color="#3fff00"/><stop offset="0.993" stop-color="#10ff00"/><stop offset="0.997" stop-color="#00ff00"/><stop offset="1.000" stop-color="#00ff00"/></linearGradient>
<linearGradient id="b61" x1="0" y1="0" x2="0" y2="1"><stop offset="0.000" stop-color="#2200de"/><stop offset="0.044" stop-color="#0000ff"/><stop offset="0.107" stop-color="#0040ff"/><stop offset="0.255" stop-color="#00fffd"/><stop offset="0.319" stop-color="#00ffbf"/><stop offset="0.406" stop-color="#00ff80"/><stop offset="0.477" stop-color="#00ff00"/><stop offset="0.560" stop-color="#00ff00"/><stop offset="0.601" stop-color="#3eff00"/><stop offset="0.668" stop-color="#8dff00"/><stop offset="0.789" stop-color="#ffff00"/><stop offset="0.950" stop-color="#ffcc00"/><stop offset="0.953" stop-color="#ffd000"/><stop offset="0.960" stop-color="#ffec00"/><stop offset="0.963" stop-color="#fefe00"/><stop offset="0.977" stop-color="#b2ff00"/><stop offset="0.983" stop-color="#83ff00"/><stop offset="0.990" stop-color="#41ff00"/><stop offset="0.993" stop-color="#11ff00"/><stop offset="0.997" stop-color="#00ff00"/><stop offset="1.000" stop-color="#00ff00"/></linearGradient>
<linearGradient id="b62" x1="0" y1="0" x2="0" y2="1"><stop offset="0.000" stop-color="#2100de"/><stop offset="0.044" stop-color="#0000ff"/><stop offset="0.107" stop-color="#003fff"/><stop offset="0.255" stop-color="#00fffd"/><stop offset="0.319" stop-color="#00ffbf"/><stop offset="0.406" stop-color="#00ff7e"/><stop offset="0.477" stop-color="#00ff00"/><stop offset="0.560" stop-color="#01ff00"/><stop offset="0.601" stop-color="#41ff00"/><stop offset="0.668" stop-color="#90ff00"/><stop offset="0.785" stop-color="#ffff00"/><stop offset="0.950" stop-color="#ffc600"/><stop offset="0.956" stop-color="#ffd400"/><stop offset="0.963" stop-color="#fff900"/><stop offset="0.977" stop-color="#b5ff00"/><stop offset="0.983" stop-color="#86ff00"/><stop offset="0.990" stop-color="#42ff00"/><stop offset="0.993" stop-color="#13ff00"/><stop offset="0.997" stop-color="#00ff00"/><stop offset="1.000" stop-color="#00ff00"/></linearGradient>
<linearGradient id="b63" x1="0" y1="0" x2="0" y2="1"><stop offset="0.000" stop-color="#2100df"/><stop offset="0.044" stop-color="#0000ff"/><stop offset="0.107" stop-color="#003fff"/><stop offset="0.161" stop-color="#0081ff"/><stop offset="0.252" stop-color="#00feff"/><stop offset="0.315" stop-color="#00ffc1"/><stop offset="0.403" stop-color="#00ff81"/><stop offset="0.477" stop-color="#00ff00"/><stop offset="0.557" stop-color="#00ff00"/><stop offset="0.601" stop-color="#42ff00"/><stop offset="0.664" stop-color="#8dff00"/><stop offset="0.785" stop-color="#ffff00"/><stop offset="0.950" stop-color="#ffc000"/><stop offset="0.956" stop-color="#ffce00"/><stop offset="0.963" stop-color="#fff200"/><stop offset="0.966" stop-color="#f6ff00"/><stop offset="0.983" stop-color="#88ff00"/><stop offset="0.990" stop-color="#44ff00"/><stop offset="0.993" stop-color="#14ff00"/><stop offset="0.997" stop-color="#00ff00"/><stop offset="1.000" stop-color="#00ff00"/></linearGradient>
<linearGradient id="b64" x1="0" y1="0" x2="0" y2="1"><stop offset="0.000" stop-color="#2000df"/><stop offset="0.044" stop-color="#0100fe"/><stop offset="0.107" stop-color="#003fff"/><stop offset="0.252" stop-color="#00ffff"/><stop offset="0.315" stop-color="#00ffc0"/><stop offset="0.403" stop-color="#00ff80"/><stop offset="0.473" stop-color="#00ff00"/><stop offset="0.557" stop-color="#00ff00"/><stop offset="0.597" stop-color="#40ff00"/><stop offset="0.664" stop-color="#8fff00"/><stop offset="0.782" stop-color="#feff00"/><stop offset="0.950" stop-color="#ffba00"/><stop offset="0.956" stop-color="#ffc800"/><stop offset="0.963" stop-color="#ffeb00"/><stop offset="0.966" stop-color="#faff00"/><stop offset="0.980" stop-color="#a4ff00"/><stop offset="0.987" stop-color="#69ff00"/><stop offset="0.990" stop-color="#46ff00"/><stop offset="0.993" stop-color="#16ff00"/><stop offset="0.997" stop-color="#00ff00"/><stop offset="1.000" stop-color="#00ff00"/></linearGradient>
<linearGradient id="b65" x1="0" y1="0" x2="0" y2="1"><stop offset="0.000" stop-color="#2000e0"/><stop offset="0.044" stop-color="#0100fe"/><stop offset="0.107" stop-color="#003fff"/><stop offset="0.252" stop-color="#00fffe"/><stop offset="0.315" stop-color="#00ffc0"/><stop offset="0.403" stop-color="#00ff7f"/><stop offset="0.473" stop-color="#00ff00"/><stop offset="0.557" stop-color="#02ff00"/><stop offset="0.597" stop-color="#41ff00"/><stop offset="0.664" stop-color="#90ff00"/><stop offset="0.782" stop-color="#ffff00"/><stop offset="0.950" stop-color="#ffb300"/><stop offset="0.956" stop-color="#ffc100"/><stop offset="0.963" stop-color="#ffe400"/><stop offset="0.966" stop-color="#fffe00"/><stop offset="0.980" stop-color="#a7ff00"/><stop offset="0.987" stop-color="#6cff00"/><stop offset="0.990" stop-color="#47ff00"/><stop offset="0.993" stop-color="#17ff00"/><stop offset="0.997" stop-color="#00ff00"/><stop offset="1.000" stop-color="#00ff00"/></linearGradient>
<linearGradient id="b66" x1="0" y1="0" x2="0" y2="1"><stop offset="0.000" stop-color="#1f00e0"/><stop offset="0.047" stop-color="#0002ff"/><stop offset="0.107" stop-color="#003fff"/><stop offset="0.252" stop-color="#00fffe"/><stop offset="0.315" stop-color="#00ffbf"/><stop offset="0.399" stop-color="#00ff81"/><stop offset="0.473" stop-color="#00ff00"/><stop offset="0.554" stop-color="#00ff00"/><stop offset="0.594" stop-color="#3fff00"/><stop offset="0.661" stop-color="#8eff00"/><stop offset="0.782" stop-color="#fffe00"/><stop offset="0.923" stop-color="#ffb200"/><stop offset="0.950" stop-color="#ffab00"/><stop offset="0.960" stop-color="#ffc800"/><stop offset="0.966" stop-color="#fff800"/><stop offset="0.970" stop-color="#eeff00"/><stop offset="0.983" stop-color="#91ff00"/><stop offset="0.990" stop-color="#49ff00"/><stop offset="0.993" stop-color="#19ff00"/><stop offset="0.997" stop-color="#00ff00"/><stop offset="1.000" stop-color="#00ff00"/></linearGradient>
<linearGradient id="b67" x1="0" y1="0" x2="0" y2="1"><stop offset="0.000" stop-color="#1f00e1"/><stop offset="0.047" stop-color="#0001ff"/><stop offset="0.111" stop-color="#0043ff"/><stop offset="0.252" stop-color="#00fffd"/><stop offset="0.315" stop-color="#00ffbf"/><stop offset="0.399" stop-color="#00ff81"/><stop offset="0.470" stop-color="#00ff00"/><stop offset="0.554" stop-color="#01ff00"/><stop offset="0.594" stop-color="#40ff00"/><stop offset="0.661" stop-color="#90ff00"/><stop offset="0.779" stop-color="#feff00"/><stop offset="0.943" stop-color="#ffa300"/><stop offset="0.950" stop-color="#ffa300"/><stop offset="0.956" stop-color="#ffb300"/><stop offset="0.963" stop-color="#ffd400"/><stop offset="0.966" stop-color="#fff000"/><stop offset="0.970" stop-color="#f3ff00"/><stop offset="0.983" stop-color="#93ff00"/><stop offset="0.990" stop-color="#4bff00"/><stop offset="0.993" stop-color="#1aff00"/><stop offset="0.997" stop-color="#00ff00"/><stop offset="1.000" stop-color="#00ff00"/></linearGradient>
<linearGradient id="b68" x1="0" y1="0" x2="0" y2="1"><stop offset="0.000" stop-color="#1f00e1"/><stop offset="0.047" stop-color="#0001ff"/><stop offset="0.111" stop-color="#0043ff"/><stop offset="0.252" stop-color="#00fffd"/><stop offset="0.312" stop-color="#00ffc1"/><stop offset="0.399" stop-color="#00ff80"/><stop offset="0.470" stop-color="#00ff00"/><stop offset="0.550" stop-color="#00ff00"/><stop offset="0.594" stop-color="#42ff00"/><stop offset="0.658" stop-color="#8dff00"/><stop offset="0.779" stop-color="#ffff00"/><stop offset="0.879" stop-color="#ffc600"/><stop offset="0.923" stop-color="#ffa200"/><stop offset="0.940" stop-color="#ff9b00"/><stop offset="0.953" stop-color="#ffa100"/><stop offset="0.960" stop-color="#ffbb00"/><stop offset="0.963" stop-color="#ffcd00"/><stop offset="0.966" stop-color="#ffe900"/><stop offset="0.970" stop-color="#f7ff00"/><stop offset="0.983" stop-color="#95ff00"/><stop offset="0.990" stop-color="#4dff00"/><stop offset="0.993" stop-color="#1cff00"/><stop offset="0.997" stop-color="#00ff00"/><stop offset="1.000" stop-color="#00ff00"/></linearGradient>
<linearGradient id="b69" x1="0" y1="0" x2="0" y2="1"><stop offset="0.000" stop-color="#1e00e2"/><stop offset="0.047" stop-color="#0001ff"/><stop offset="0.111" stop-color="#0042ff"/><stop offset="0.252" stop-color="#00fffc"/><stop offset="0.312" stop-color="#00ffc0"/><stop offset="0.399" stop-color="#00ff7e"/><stop offset="0.466" stop-color="#00ff01"/><stop offset="0.550" stop-color="#00ff00"/><stop offset="0.591" stop-color="#3fff00"/><stop offset="0.658" stop-color="#8fff00"/><stop offset="0.775" stop-color="#fdff00"/><stop offset="0.879" stop-color="#ffc300"/><stop offset="0.919" stop-color="#ff9d00"/><stop offset="0.936" stop-color="#ff9500"/><stop offset="0.953" stop-color="#ff9a00"/><stop offset="0.960" stop-color="#ffb500"/><stop offset="0.966" stop-color="#ffe200"/><stop offset="0.970" stop-color="#fcff00"/><stop offset="0.983" stop-color="#97ff00"/><stop offset="0.990" stop-color="#4eff00"/><stop offset="0.993" stop-color="#1dff00"/><stop offset="0.997" stop-color="#00ff00"/><stop offset="1.000" stop-color="#00ff00"/></linearGradient>
<linearGradient id="b70" x1="0" y1="0" x2="0" y2="1"><stop offset="0.000" stop-color="#1e00e2"/><stop offset="0.047" stop-color="#0000ff"/><stop offset="0.111" stop-color="#0042ff"/><stop offset="0.248" stop-color="#00ffff"/><stop offset="0.312" stop-color="#00ffbf"/><stop offset="0.396" stop-color="#00ff81"/><stop offset="0.466" stop-color="#00ff00"/><stop offset="0.550" stop-color="#02ff00"/><stop offset="0.591" stop-color="#41ff00"/><stop offset="0.658" stop-color="#90ff00"/><stop offset="0.775" stop-color="#ffff00"/><stop offset="0.876" stop-color="#ffc200"/><stop offset="0.919" stop-color="#ff9800"/><stop offset="0.936" stop-color="#ff9100"/><stop offset="0.953" stop-color="#ff9500"/><stop offset="0.960" stop-color="#ffb000"/><stop offset="0.966" stop-color="#ffdc00"/><stop offset="0.970" stop-color="#fffe00"/><stop offset="0.983" stop-color="#99ff00"/><stop offset="0.990" stop-color="#50ff00"/><stop offset="0.993" stop-color="#1fff00"/><stop offset="0.997" stop-color="#00ff00"/><stop offset="1.000" stop-color="#00ff00"/></linearGradient>
<linearGradient id="b71" x1="0" y1="0" x2="0" y2="1"><stop offset="0.000" stop-color="#1d00e2"/><stop offset="0.047" stop-color="#0000ff"/><stop offset="0.111" stop-color="#0043ff"/><stop offset="0.248" stop-color="#00fffe"/><stop offset="0.309" stop-color="#00ffc1"/><stop offset="0.396" stop-color="#00ff7f"/><stop offset="0.466" stop-color="#00ff00"/><stop offset="0.547" stop-color="#00ff00"/><stop offset="0.587" stop-color="#3eff00"/><stop offset="0.654" stop-color="#8dff00"/><stop offset="0.775" stop-color="#feff00"/><stop offset="0.879" stop-color="#ffbf00"/><stop offset="0.919" stop-color="#ff9700"/><stop offset="0.943" stop-color="#ff9000"/><stop offset="0.950" stop-color="#ff9100"/><stop offset="0.956" stop-color="#ff9f00"/><stop offset="0.963" stop-color="#ffc200"/><stop offset="0.970" stop-color="#fffd00"/><stop offset="0.983" stop-color="#99ff00"/><stop offset="0.990" stop-color="#50ff00"/><stop offset="0.993" stop-color="#1fff00"/><stop offset="0.997" stop-color="#00ff00"/><stop offset="1.000" stop-color="#00ff00"/></linearGradient>
<linearGradient id="b72" x1="0" y1="0" x2="0" y2="1"><stop offset="0.000" stop-color="#1d00e2"/><stop offset="0.047" stop-color="#0000ff"/><stop offset="0.111" stop-color="#0043ff"/><stop offset="0.248" stop-color="#00fffe"/><stop offset="0.309" stop-color="#00ffc1"/><stop offset="0.396" stop-color="#00ff7f"/><stop offset="0.463" stop-color="#00ff01"/><stop offset="0.547" stop-color="#00ff00"/><stop offset="0.587" stop-color="#3eff00"/><stop offset="0.654" stop-color="#8dff00"/><stop offset="0.775" stop-color="#feff00"/><stop offset="0.879" stop-color="#ffbf00"/><stop offset="0.919" stop-color="#ff9700"/><stop offset="0.943" stop-color="#ff9000"/><stop offset="0.950" stop-color="#ff9100"/><stop offset="0.956" stop-color="#ffa000"/><stop offset="0.963" stop-color="#ffc200"/><stop offset="0.970" stop-color="#fffd00"/><stop offset="0.983" stop-color="#99ff00"/><stop offset="0.990" stop-color="#50ff00"/><stop offset="0.993" stop-color="#1fff00"/><stop offset="0.997" stop-color="#00ff00"/><stop offset="1.000" stop-color="#00ff00"/></linearGradient>
<linearGradient id="b73" x1="0" y1="0" x2="0" y2="1"><stop offset="0.000" stop-color="#1d00e2"/><stop offset="0.047" stop-color="#0000ff"/><stop offset="0.111" stop-color="#0043ff"/><stop offset="0.248" stop-color="#00fffe"/><stop offset="0.309" stop-color="#00ffc1"/><stop offset="0.396" stop-color="#00ff7f"/><stop offset="0.463" stop-color="#00ff01"/><stop offset="0.547" stop-color="#00ff00"/><stop offset="0.587" stop-color="#3eff00"/><stop offset="0.654" stop-color="#8dff00"/><stop offset="0.775" stop-color="#feff00"/><stop offset="0.879" stop-color="#ffbf00"/><stop offset="0.919" stop-color="#ff9700"/><stop offset="0.943" stop-color="#ff9000"/><stop offset="0.950" stop-color="#ff9100"/><stop offset="0.956" stop-color="#ffa000"/><stop offset="0.963" stop-color="#ffc200"/><stop offset="0.970" stop-color="#fffd00"/><stop offset="0.983" stop-color="#99ff00"/><stop offset="0.990" stop-color="#50ff00"/><stop offset="0.993" stop-color="#1fff00"/><stop offset="0.997" stop-color="#00ff00"/><stop offset="1.000" stop-color="#00ff00"/></linearGradient>
<linearGradient id="b74" x1="0" y1="0" x2="0" y2="1"><stop offset="0.000" stop-color="#1c00e3"/><stop offset="0.050" stop-color="#0003ff"/><stop offset="0.107" stop-color="#0042ff"/><stop offset="0.238" stop-color="#00fffe"/><stop offset="0.299" stop-color="#00ffc1"/><stop offset="0.386" stop-color="#00ff7e"/><stop offset="0.453" stop-color="#00ff01"/><stop offset="0.537" stop-color="#00ff00"/><stop offset="0.584" stop-color="#42ff00"/><stop offset="0.654" stop-color="#8fff00"/><stop offset="0.782" stop-color="#feff00"/><stop offset="0.923" stop-color="#ffa400"/><stop offset="0.946" stop-color="#ff9c00"/><stop offset="0.953" stop-color="#ffa100"/><stop offset="0.956" stop-color="#ffab00"/><stop offset="0.963" stop-color="#ffcb00"/><stop offset="0.966" stop-color="#ffe600"/><stop offset="0.970" stop-color="#faff00"/><stop offset="0.983" stop-color="#96ff00"/><stop offset="0.990" stop-color="#4eff00"/><stop offset="0.993" stop-color="#1dff00"/><stop offset="0.997" stop-color="#00ff00"/><stop offset="1.000" stop-color="#00ff00"/></linearGradient>
<linearGradient id="b75" x1="0" y1="0" x2="0" y2="1"><stop offset="0.000" stop-color="#1c00e4"/><stop offset="0.050" stop-color="#0004ff"/><stop offset="0.107" stop-color="#0044ff"/><stop offset="0.235" stop-color="#00fffe"/><stop offset="0.295" stop-color="#00ffc1"/><stop offset="0.383" stop-color="#00ff7e"/><stop offset="0.450" stop-color="#00ff01"/><stop offset="0.537" stop-color="#02ff00"/><stop offset="0.581" stop-color="#40ff00"/><stop offset="0.654" stop-color="#8fff00"/><stop offset="0.785" stop-color="#ffff00"/><stop offset="0.923" stop-color="#ffaa00"/><stop offset="0.950" stop-color="#ffa000"/><stop offset="0.960" stop-color="#ffbd00"/><stop offset="0.963" stop-color="#ffce00"/><stop offset="0.966" stop-color="#ffea00"/><stop offset="0.970" stop-color="#f7ff00"/><stop offset="0.983" stop-color="#95ff00"/><stop offset="0.990" stop-color="#4dff00"/><stop offset="0.993" stop-color="#1cff00"/><stop offset="0.997" stop-color="#00ff00"/><stop offset="1.000" stop-color="#00ff00"/></linearGradient>
<linearGradient id="b76" x1="0" y1="0" x2="0" y2="1"><stop offset="0.000" stop-color="#1c00e4"/><stop offset="0.050" stop-color="#0004ff"/><stop offset="0.107" stop-color="#0045ff"/><stop offset="0.232" stop-color="#00ffff"/><stop offset="0.295" stop-color="#00ffbf"/><stop offset="0.379" stop-color="#00ff7e"/><stop offset="0.446" stop-color="#00ff01"/><stop offset="0.534" stop-color="#01ff00"/><stop offset="0.577" stop-color="#3eff00"/><stop offset="0.654" stop-color="#8fff00"/><stop offset="0.789" stop-color="#fffe00"/><stop offset="0.950" stop-color="#ffa500"/><stop offset="0.960" stop-color="#ffc000"/><stop offset="0.963" stop-color="#ffd100"/><stop offset="0.966" stop-color="#ffed00"/><stop offset="0.970" stop-color="#f5ff00"/><stop offset="0.983" stop-color="#95ff00"/><stop offset="0.990" stop-color="#4dff00"/><stop offset="0.993" stop-color="#1cff00"/><stop offset="0.997" stop-color="#00ff00"/><stop offset="1.000" stop-color="#00ff00"/></linearGradient>
<linearGradient id="b77" x1="0" y1="0" x2="0" y2="1"><stop offset="0.000" stop-color="#1b00e4"/><stop offset="0.050" stop-color="#0004ff"/><stop offset="0.104" stop-color="#0041ff"/><stop offset="0.228" stop-color="#00feff"/><stop offset="0.292" stop-color="#00ffbf"/><stop offset="0.376" stop-color="#00ff7e"/><stop offset="0.443" stop-color="#00ff01"/><stop offset="0.530" stop-color="#01ff00"/><stop offset="0.577" stop-color="#41ff00"/><stop offset="0.654" stop-color="#90ff00"/><stop offset="0.789" stop-color="#feff00"/><stop offset="0.950" stop-color="#ffa900"/><stop offset="0.960" stop-color="#ffc300"/><stop offset="0.966" stop-color="#fff000"/><stop offset="0.970" stop-color="#f3ff00"/><stop offset="0.983" stop-color="#94ff00"/><stop offset="0.990" stop-color="#4cff00"/><stop offset="0.993" stop-color="#1bff00"/><stop offset="0.997" stop-color="#00ff00"/><stop offset="1.000" stop-color="#00ff00"/></linearGradient>
<linearGradient id="b78" x1="0" y1="0" x2="0" y2="1"><stop offset="0.000" stop-color="#1b00e5"/><stop offset="0.050" stop-color="#0004ff"/><stop offset="0.104" stop-color="#0043ff"/><stop offset="0.228" stop-color="#00fffc"/><stop offset="0.289" stop-color="#00ffbf"/><stop offset="0.372" stop-color="#00ff7f"/><stop offset="0.440" stop-color="#00ff01"/><stop offset="0.527" stop-color="#00ff00"/><stop offset="0.574" stop-color="#3fff00"/><stop offset="0.654" stop-color="#90ff00"/><stop offset="0.792" stop-color="#ffff00"/><stop offset="0.950" stop-color="#ffac00"/><stop offset="0.960" stop-color="#ffc600"/><stop offset="0.966" stop-color="#fff300"/><stop offset="0.970" stop-color="#f2ff00"/><stop offset="0.983" stop-color="#93ff00"/><stop offset="0.990" stop-color="#4bff00"/><stop offset="0.993" stop-color="#1bff00"/><stop offset="0.997" stop-color="#00ff00"/><stop offset="1.000" stop-color="#00ff00"/></linearGradient>
<linearGradient id="b79" x1="0" y1="0" x2="0" y2="1"><stop offset="0.000" stop-color="#1a00e5"/><stop offset="0.050" stop-color="#0004ff"/><stop offset="0.104" stop-color="#0044ff"/><stop offset="0.225" stop-color="#00fffd"/><stop offset="0.285" stop-color="#00ffbf"/><stop offset="0.369" stop-color="#00ff7f"/><stop offset="0.436" stop-color="#00ff00"/><stop offset="0.523" stop-color="#00ff00"/><stop offset="0.574" stop-color="#41ff00"/><stop offset="0.651" stop-color="#8dff00"/><stop offset="0.795" stop-color="#fffe00"/><stop offset="0.950" stop-color="#ffaf00"/><stop offset="0.960" stop-color="#ffc800"/><stop offset="0.966" stop-color="#fff600"/><stop offset="0.970" stop-color="#f0ff00"/><stop offset="0.983" stop-color="#92ff00"/><stop offset="0.990" stop-color="#4bff00"/><stop offset="0.993" stop-color="#1aff00"/><stop offset="0.997" stop-color="#00ff00"/><stop offset="1.000" stop-color="#00ff00"/></linearGradient>
<linearGradient id="b80" x1="0" y1="0" x2="0" y2="1"><stop offset="0.000" stop-color="#1a00e5"/><stop offset="0.050" stop-color="#0004ff"/><stop offset="0.101" stop-color="#0040ff"/><stop offset="0.221" stop-color="#00fffd"/><stop offset="0.282" stop-color="#00ffc0"/><stop offset="0.366" stop-color="#00ff7f"/><stop offset="0.433" stop-color="#00ff00"/><stop offset="0.520" stop-color="#00ff00"/><stop offset="0.570" stop-color="#40ff00"/><stop offset="0.651" stop-color="#8eff00"/><stop offset="0.795" stop-color="#feff00"/><stop offset="0.950" stop-color="#ffb100"/><stop offset="0.960" stop-color="#ffca00"/><stop offset="0.966" stop-color="#fff800"/><stop offset="0.970" stop-color="#eeff00"/><stop offset="0.983" stop-color="#91ff00"/><stop offset="0.990" stop-color="#4aff00"/><stop offset="0.993" stop-color="#19ff00"/><stop offset="0.997" stop-color="#00ff00"/><stop offset="1.000" stop-color="#00ff00"/></linearGradient>
<linearGradient id="b81" x1="0" y1="0" x2="0" y2="1"><stop offset="0.000" stop-color="#1a00e6"/><stop offset="0.050" stop-color="#0004ff"/><stop offset="0.101" stop-color="#0042ff"/><stop offset="0.218" stop-color="#00fffe"/><stop offset="0.279" stop-color="#00ffc0"/><stop offset="0.362" stop-color="#00ff7f"/><stop offset="0.430" stop-color="#00ff00"/><stop offset="0.520" stop-color="#02ff00"/><stop offset="0.570" stop-color="#42ff00"/><stop offset="0.651" stop-color="#8eff00"/><stop offset="0.799" stop-color="#ffff00"/><stop offset="0.950" stop-color="#ffb300"/><stop offset="0.960" stop-color="#ffcc00"/><stop offset="0.966" stop-color="#fffa00"/><stop offset="0.983" stop-color="#91ff00"/><stop offset="0.990" stop-color="#49ff00"/><stop offset="0.993" stop-color="#19ff00"/><stop offset="0.997" stop-color="#00ff00"/><stop offset="1.000" stop-color="#00ff00"/></linearGradient>
<linearGradient id="b82" x1="0" y1="0" x2="0" y2="1"><stop offset="0.000" stop-color="#1900e6"/><stop offset="0.050" stop-color="#0004ff"/><stop offset="0.101" stop-color="#0043ff"/><stop offset="0.215" stop-color="#00fffe"/><stop offset="0.275" stop-color="#00ffc0"/><stop offset="0.359" stop-color="#00ff7f"/><stop offset="0.426" stop-color="#00ff00"/><stop offset="0.517" stop-color="#01ff00"/><stop offset="0.567" stop-color="#40ff00"/><stop offset="0.651" stop-color="#8fff00"/><stop offset="0.799" stop-color="#feff00"/><stop offset="0.950" stop-color="#ffb500"/><stop offset="0.960" stop-color="#ffce00"/><stop offset="0.966" stop-color="#fffd00"/><stop offset="0.983" stop-color="#90ff00"/><stop offset="0.990" stop-color="#49ff00"/><stop offset="0.993" stop-color="#18ff00"/><stop offset="0.997" stop-color="#00ff00"/><stop offset="1.000" stop-color="#00ff00"/></linearGradient>
<linearGradient id="b83" x1="0" y1="0" x2="0" y2="1"><stop offset="0.000" stop-color="#1900e6"/><stop offset="0.050" stop-color="#0004ff"/><stop offset="0.101" stop-color="#0044ff"/><stop offset="0.211" stop-color="#00ffff"/><stop offset="0.272" stop-color="#00ffc1"/><stop offset="0.356" stop-color="#00ff81"/><stop offset="0.426" stop-color="#00ff00"/><stop offset="0.513" stop-color="#00ff00"/><stop offset="0.567" stop-color="#41ff00"/><stop offset="0.651" stop-color="#8eff00"/><stop offset="0.802" stop-color="#feff00"/><stop offset="0.950" stop-color="#ffb800"/><stop offset="0.956" stop-color="#ffc400"/><stop offset="0.963" stop-color="#ffe600"/><stop offset="0.966" stop-color="#feff00"/><stop offset="0.980" stop-color="#a7ff00"/><stop offset="0.987" stop-color="#6cff00"/><stop offset="0.990" stop-color="#48ff00"/><stop offset="0.993" stop-color="#18ff00"/><stop offset="0.997" stop-color="#00ff00"/><stop offset="1.000" stop-color="#00ff00"/></linearGradient>
<linearGradient id="b84" x1="0" y1="0" x2="0" y2="1"><stop offset="0.000" stop-color="#1900e7"/><stop offset="0.050" stop-color="#0004ff"/><stop offset="0.101" stop-color="#0044ff"/><stop offset="0.215" stop-color="#00fffc"/><stop offset="0.275" stop-color="#00ffbf"/><stop offset="0.356" stop-color="#00ff81"/><stop offset="0.426" stop-color="#00ff00"/><stop offset="0.517" stop-color="#01ff00"/><stop offset="0.567" stop-color="#3fff00"/><stop offset="0.654" stop-color="#8fff00"/><stop offset="0.805" stop-color="#feff00"/><stop offset="0.950" stop-color="#ffbc00"/><stop offset="0.956" stop-color="#ffc800"/><stop offset="0.963" stop-color="#ffea00"/><stop offset="0.966" stop-color="#fbff00"/><stop offset="0.980" stop-color="#a5ff00"/><stop offset="0.987" stop-color="#6aff00"/><stop offset="0.990" stop-color="#47ff00"/><stop offset="0.993" stop-color="#16ff00"/><stop offset="0.997" stop-color="#00ff00"/><stop offset="1.000" stop-color="#00ff00"/></linearGradient>
<linearGradient id="b85" x1="0" y1="0" x2="0" y2="1"><stop offset="0.000" stop-color="#1800e7"/><stop offset="0.050" stop-color="#0003ff"/><stop offset="0.101" stop-color="#0044ff"/><stop offset="0.215" stop-color="#00fffd"/><stop offset="0.275" stop-color="#00ffbf"/><stop offset="0.359" stop-color="#00ff7f"/><stop offset="0.426" stop-color="#00ff00"/><stop offset="0.517" stop-color="#00ff00"/><stop offset="0.570" stop-color="#40ff00"/><stop offset="0.658" stop-color="#90ff00"/><stop offset="0.809" stop-color="#feff00"/><stop offset="0.950" stop-color="#ffbf00"/><stop offset="0.956" stop-color="#ffcc00"/><stop offset="0.963" stop-color="#ffef00"/><stop offset="0.966" stop-color="#f8ff00"/><stop offset="0.983" stop-color="#8aff00"/><stop offset="0.990" stop-color="#45ff00"/><stop offset="0.993" stop-color="#15ff00"/><stop offset="0.997" stop-color="#00ff00"/><stop offset="1.000" stop-color="#00ff00"/></linearGradient>
<linearGradient id="b86" x1="0" y1="0" x2="0" y2="1"><stop offset="0.000" stop-color="#1800e8"/><stop offset="0.050" stop-color="#0003ff"/><stop offset="0.101" stop-color="#0043ff"/><stop offset="0.215" stop-color="#00fffd"/><stop offset="0.275" stop-color="#00ffc0"/><stop offset="0.359" stop-color="#00ff81"/><stop offset="0.430" stop-color="#00ff00"/><stop offset="0.520" stop-color="#01ff00"/><stop offset="0.574" stop-color="#42ff00"/><stop offset="0.658" stop-color="#8eff00"/><stop offset="0.812" stop-color="#ffff00"/><stop offset="0.950" stop-color="#ffc300"/><stop offset="0.956" stop-color="#ffd000"/><stop offset="0.963" stop-color="#fff400"/><stop offset="0.966" stop-color="#f5ff00"/><stop offset="0.983" stop-color="#88ff00"/><stop offset="0.990" stop-color="#44ff00"/><stop offset="0.993" stop-color="#14ff00"/><stop offset="0.997" stop-color="#00ff00"/><stop offset="1.000" stop-color="#00ff00"/></linearGradient>
<linearGradient id="b87" x1="0" y1="0" x2="0" y2="1"><stop offset="0.000" stop-color="#1800e8"/><stop offset="0.050" stop-color="#0003ff"/><stop offset="0.101" stop-color="#0043ff"/><stop offset="0.215" stop-color="#00fffe"/><stop offset="0.275" stop-color="#00ffc1"/><stop offset="0.359" stop-color="#00ff81"/><stop offset="0.430" stop-color="#00ff00"/><stop offset="0.520" stop-color="#00ff00"/><stop offset="0.574" stop-color="#40ff00"/><stop offset="0.661" stop-color="#8fff00"/><stop offset="0.815" stop-color="#ffff00"/><stop offset="0.950" stop-color="#ffc700"/><stop offset="0.956" stop-color="#ffd400"/><stop offset="0.963" stop-color="#fff800"/><stop offset="0.973" stop-color="#caff00"/><stop offset="0.983" stop-color="#86ff00"/><stop offset="0.990" stop-color="#43ff00"/><stop offset="0.993" stop-color="#13ff00"/><stop offset="0.997" stop-color="#00ff00"/><stop offset="1.000" stop-color="#00ff00"/></linearGradient>
<linearGradient id="b88" x1="0" y1="0" x2="0" y2="1"><stop offset="0.000" stop-color="#1700e8"/><stop offset="0.050" stop-color="#0003ff"/><stop offset="0.101" stop-color="#0043ff"/><stop offset="0.215" stop-color="#00fffe"/><stop offset="0.279" stop-color="#00ffbf"/><stop offset="0.362" stop-color="#00ff7f"/><stop offset="0.433" stop-color="#00ff00"/><stop offset="0.523" stop-color="#01ff00"/><stop offset="0.577" stop-color="#41ff00"/><stop offset="0.664" stop-color="#90ff00"/><stop offset="0.819" stop-color="#ffff00"/><stop offset="0.950" stop-color="#ffcb00"/><stop offset="0.956" stop-color="#ffd900"/><stop offset="0.963" stop-color="#fffd00"/><stop offset="0.977" stop-color="#b4ff00"/><stop offset="0.983" stop-color="#84ff00"/><stop offset="0.990" stop-color="#41ff00"/><stop offset="0.993" stop-color="#12ff00"/><stop offset="0.997" stop-color="#00ff00"/><stop offset="1.000" stop-color="#00ff00"/></linearGradient>
<linearGradient id="b89" x1="0" y1="0" x2="0" y2="1"><stop offset="0.000" stop-color="#1700e9"/><stop offset="0.050" stop-color="#0003ff"/><stop offset="0.101" stop-color="#0042ff"/><stop offset="0.215" stop-color="#00ffff"/><stop offset="0.279" stop-color="#00ffbf"/><stop offset="0.362" stop-color="#00ff81"/><stop offset="0.433" stop-color="#00ff00"/><stop offset="0.523" stop-color="#00ff00"/><stop offset="0.577" stop-color="#3fff00"/><stop offset="0.668" stop-color="#90ff00"/><stop offset="0.822" stop-color="#ffff00"/><stop offset="0.950" stop-color="#ffcf00"/><stop offset="0.953" stop-color="#ffd300"/><stop offset="0.960" stop-color="#ffee00"/><stop offset="0.963" stop-color="#fdff00"/><stop offset="0.980" stop-color="#9cff00"/><stop offset="0.990" stop-color="#40ff00"/><stop offset="0.993" stop-color="#11ff00"/><stop offset="0.997" stop-color="#00ff00"/><stop offset="1.000" stop-color="#00ff00"/></linearGradient>
<linearGradient id="b90" x1="0" y1="0" x2="0" y2="1"><stop offset="0.000" stop-color="#1700e9"/><stop offset="0.050" stop-color="#0003ff"/><stop offset="0.101" stop-color="#0042ff"/><stop offset="0.215" stop-color="#00feff"/><stop offset="0.279" stop-color="#00ffc0"/><stop offset="0.362" stop-color="#00ff81"/><stop offset="0.433" stop-color="#00ff01"/><stop offset="0.527" stop-color="#00ff00"/><stop offset="0.581" stop-color="#40ff00"/><stop offset="0.668" stop-color="#8eff00"/><stop offset="0.826" stop-color="#ffff00"/><stop offset="0.950" stop-color="#ffd300"/><stop offset="0.953" stop-color="#ffd800"/><stop offset="0.960" stop-color="#fff300"/><stop offset="0.963" stop-color="#faff00"/><stop offset="0.980" stop-color="#9bff00"/><stop offset="0.990" stop-color="#3eff00"/><stop offset="0.993" stop-color="#0fff00"/><stop offset="0.997" stop-color="#00ff00"/><stop offset="1.000" stop-color="#00ff00"/></linearGradient>
<linearGradient id="b91" x1="0" y1="0" x2="0" y2="1"><stop offset="0.000" stop-color="#1600e9"/><stop offset="0.050" stop-color="#0003ff"/><stop offset="0.101" stop-color="#0042ff"/><stop offset="0.218" stop-color="#00fffd"/><stop offset="0.279" stop-color="#00ffc1"/><stop offset="0.366" stop-color="#00ff7f"/><stop offset="0.436" stop-color="#00ff00"/><stop offset="0.530" stop-color="#02ff00"/><stop offset="0.584" stop-color="#41ff00"/><stop offset="0.671" stop-color="#8fff00"/><stop offset="0.829" stop-color="#ffff00"/><stop offset="0.950" stop-color="#ffd800"/><stop offset="0.953" stop-color="#ffdd00"/><stop offset="0.960" stop-color="#fff800"/><stop offset="0.963" stop-color="#f6ff00"/><stop offset="0.980" stop-color="#99ff00"/><stop offset="0.990" stop-color="#3dff00"/><stop offset="0.993" stop-color="#0eff00"/><stop offset="0.997" stop-color="#00ff00"/><stop offset="1.000" stop-color="#00ff00"/></linearGradient>
<linearGradient id="b92" x1="0" y1="0" x2="0" y2="1"><stop offset="0.000" stop-color="#1600ea"/><stop offset="0.050" stop-color="#0003ff"/><stop offset="0.101" stop-color="#0041ff"/><stop offset="0.218" stop-color="#00fffd"/><stop offset="0.279" stop-color="#00ffc1"/><stop offset="0.366" stop-color="#00ff81"/><stop offset="0.436" stop-color="#00ff00"/><stop offset="0.530" stop-color="#00ff00"/><stop offset="0.584" stop-color="#3fff00"/><stop offset="0.674" stop-color="#90ff00"/><stop offset="0.832" stop-color="#ffff00"/><stop offset="0.950" stop-color="#ffdd00"/><stop offset="0.953" stop-color="#ffe200"/><stop offset="0.960" stop-color="#fffd00"/><stop offset="0.966" stop-color="#e2ff00"/><stop offset="0.980" stop-color="#97ff00"/><stop offset="0.990" stop-color="#3bff00"/><stop offset="0.993" stop-color="#0dff00"/><stop offset="0.997" stop-color="#00ff00"/><stop offset="1.000" stop-color="#00ff00"/></linearGradient>
<linearGradient id="b93" x1="0" y1="0" x2="0" y2="1"><stop offset="0.000" stop-color="#1500ea"/><stop offset="0.050" stop-color="#0003ff"/><stop offset="0.101" stop-color="#0041ff"/><stop offset="0.218" stop-color="#00fffe"/><stop offset="0.282" stop-color="#00ffbf"/><stop offset="0.366" stop-color="#00ff81"/><stop offset="0.440" stop-color="#00ff00"/><stop offset="0.534" stop-color="#02ff00"/><stop offset="0.587" stop-color="#41ff00"/><stop offset="0.678" stop-color="#90ff00"/><stop offset="0.836" stop-color="#ffff00"/><stop offset="0.950" stop-color="#ffe200"/><stop offset="0.956" stop-color="#fff200"/><stop offset="0.960" stop-color="#fdff00"/><stop offset="0.963" stop-color="#efff00"/><stop offset="0.977" stop-color="#aaff00"/><stop offset="0.980" stop-color="#95ff00"/><stop offset="0.987" stop-color="#5bff00"/><stop offset="0.990" stop-color="#39ff00"/><stop offset="0.993" stop-color="#0cff00"/><stop offset="0.997" stop-color="#00ff00"/><stop offset="1.000" stop-color="#00ff00"/></linearGradient>
<linearGradient id="b94" x1="0" y1="0" x2="0" y2="1"><stop offset="0.000" stop-color="#1500ea"/><stop offset="0.050" stop-color="#0003ff"/><stop offset="0.101" stop-color="#0041ff"/><stop offset="0.218" stop-color="#00fffe"/><stop offset="0.282" stop-color="#00ffc0"/><stop offset="0.369" stop-color="#00ff7f"/><stop offset="0.440" stop-color="#00ff00"/><stop offset="0.534" stop-color="#00ff00"/><stop offset="0.591" stop-color="#42ff00"/><stop offset="0.678" stop-color="#8eff00"/><stop offset="0.839" stop-color="#ffff00"/><stop offset="0.950" stop-color="#ffe700"/><stop offset="0.956" stop-color="#fff700"/><stop offset="0.963" stop-color="#ecff00"/><stop offset="0.977" stop-color="#a8ff00"/><stop offset="0.980" stop-color="#93ff00"/><stop offset="0.987" stop-color="#5aff00"/><stop offset="0.990" stop-color="#38ff00"/><stop offset="0.993" stop-color="#0bff00"/><stop offset="0.997" stop-color="#00ff00"/><stop offset="1.000" stop-color="#00ff00"/></linearGradient>
<linearGradient id="b95" x1="0" y1="0" x2="0" y2="1"><stop offset="0.000" stop-color="#1500eb"/><stop offset="0.050" stop-color="#0003ff"/><stop offset="0.101" stop-color="#0041ff"/><stop offset="0.218" stop-color="#00ffff"/><stop offset="0.282" stop-color="#00ffc0"/><stop offset="0.369" stop-color="#00ff81"/><stop offset="0.440" stop-color="#00ff01"/><stop offset="0.537" stop-color="#02ff00"/><stop offset="0.591" stop-color="#40ff00"/><stop offset="0.681" stop-color="#8fff00"/><stop offset="0.842" stop-color="#ffff00"/><stop offset="0.950" stop-color="#ffec00"/><stop offset="0.956" stop-color="#fffc00"/><stop offset="0.963" stop-color="#e8ff00"/><stop offset="0.980" stop-color="#92ff00"/><stop offset="0.987" stop-color="#58ff00"/><stop offset="0.990" stop-color="#36ff00"/><stop offset="0.993" stop-color="#0aff00"/><stop offset="1.000" stop-color="#00ff00"/></linearGradient>
<linearGradient id="b96" x1="0" y1="0" x2="0" y2="1"><stop offset="0.000" stop-color="#1400eb"/><stop offset="0.050" stop-color="#0003ff"/><stop offset="0.101" stop-color="#0040ff"/><stop offset="0.221" stop-color="#00fffc"/><stop offset="0.285" stop-color="#00ffbf"/><stop offset="0.372" stop-color="#00ff7e"/><stop offset="0.443" stop-color="#00ff00"/><stop offset="0.537" stop-color="#00ff00"/><stop offset="0.594" stop-color="#41ff00"/><stop offset="0.685" stop-color="#90ff00"/><stop offset="0.842" stop-color="#feff00"/><stop offset="0.950" stop-color="#ffee00"/><stop offset="0.956" stop-color="#fffe00"/><stop offset="0.970" stop-color="#c7ff00"/><stop offset="0.980" stop-color="#91ff00"/><stop offset="0.987" stop-color="#57ff00"/><stop offset="0.993" stop-color="#09ff00"/><stop offset="1.000" stop-color="#00ff00"/></linearGradient>
<linearGradient id="b97" x1="0" y1="0" x2="0" y2="1"><stop offset="0.000" stop-color="#1400eb"/><stop offset="0.050" stop-color="#0003ff"/><stop offset="0.104" stop-color="#0045ff"/><stop offset="0.221" stop-color="#00fffe"/><stop offset="0.285" stop-color="#00ffc0"/><stop offset="0.372" stop-color="#00ff80"/><stop offset="0.443" stop-color="#00ff01"/><stop offset="0.540" stop-color="#01ff00"/><stop offset="0.594" stop-color="#3fff00"/><stop offset="0.685" stop-color="#8eff00"/><stop offset="0.846" stop-color="#ffff00"/><stop offset="0.950" stop-color="#fff000"/><stop offset="0.953" stop-color="#fff500"/><stop offset="0.956" stop-color="#feff00"/><stop offset="0.960" stop-color="#f3ff00"/><stop offset="0.977" stop-color="#a4ff00"/><stop offset="0.980" stop-color="#90ff00"/><stop offset="0.987" stop-color="#57ff00"/><stop offset="0.993" stop-color="#09ff00"/><stop offset="1.000" stop-color="#00ff00"/></linearGradient>
<linearGradient id="b98" x1="0" y1="0" x2="0" y2="1"><stop offset="0.000" stop-color="#1400ec"/><stop offset="0.050" stop-color="#0003ff"/><stop offset="0.104" stop-color="#0044ff"/><stop offset="0.221" stop-color="#00ffff"/><stop offset="0.285" stop-color="#00ffc1"/><stop offset="0.372" stop-color="#00ff81"/><stop offset="0.446" stop-color="#00ff00"/><stop offset="0.540" stop-color="#00ff00"/><stop offset="0.597" stop-color="#41ff00"/><stop offset="0.688" stop-color="#8fff00"/><stop offset="0.849" stop-color="#ffff00"/><stop offset="0.950" stop-color="#fff100"/><stop offset="0.953" stop-color="#fff600"/><stop offset="0.960" stop-color="#f2ff00"/><stop offset="0.977" stop-color="#a3ff00"/><stop offset="0.980" stop-color="#90ff00"/><stop offset="0.987" stop-color="#56ff00"/><stop offset="0.993" stop-color="#08ff00"/><stop offset="1.000" stop-color="#00ff00"/></linearGradient>
<linearGradient id="b99" x1="0" y1="0" x2="0" y2="1"><stop offset="0.000" stop-color="#1300ec"/><stop offset="0.050" stop-color="#0003ff"/><stop offset="0.104" stop-color="#0043ff"/><stop offset="0.225" stop-color="#00fffc"/><stop offset="0.289" stop-color="#00ffbf"/><stop offset="0.376" stop-color="#00ff80"/><stop offset="0.450" stop-color="#00ff00"/><stop offset="0.544" stop-color="#01ff00"/><stop offset="0.597" stop-color="#3fff00"/><stop offset="0.688" stop-color="#8eff00"/><stop offset="0.849" stop-color="#feff00"/><stop offset="0.950" stop-color="#fff300"/><stop offset="0.953" stop-color="#fff800"/><stop offset="0.960" stop-color="#f1ff00"/><stop offset="0.977" stop-color="#a3ff00"/><stop offset="0.980" stop-color="#8fff00"/><stop offset="0.987" stop-color="#56ff00"/><stop offset="0.993" stop-color="#08ff00"/><stop offset="1.000" stop-color="#00ff00"/></linearGradient>
<linearGradient id="b100" x1="0" y1="0" x2="0" y2="1"><stop offset="0.000" stop-color="#1300ec"/><stop offset="0.050" stop-color="#0002ff"/><stop offset="0.104" stop-color="#0043ff"/><stop offset="0.225" stop-color="#00fffd"/><stop offset="0.289" stop-color="#00ffc0"/><stop offset="0.376" stop-color="#00ff81"/><stop offset="0.450" stop-color="#00ff00"/><stop offset="0.547" stop-color="#02ff00"/><stop offset="0.601" stop-color="#40ff00"/><stop offset="0.691" stop-color="#8fff00"/><stop offset="0.852" stop-color="#ffff00"/><stop offset="0.950" stop-color="#fff400"/><stop offset="0.953" stop-color="#fff900"/><stop offset="0.960" stop-color="#f0ff00"/><stop offset="0.977" stop-color="#a2ff00"/><stop offset="0.980" stop-color="#8eff00"/><stop offset="0.987" stop-color="#55ff00"/><stop offset="0.993" stop-color="#08ff00"/><stop offset="1.000" stop-color="#00ff00"/></linearGradient>
<linearGradient id="b101" x1="0" y1="0" x2="0" y2="1"><stop offset="0.000" stop-color="#1300ed"/><stop offset="0.050" stop-color="#0002ff"/><stop offset="0.104" stop-color="#0042ff"/><stop offset="0.225" stop-color="#00fffe"/><stop offset="0.289" stop-color="#00ffc1"/><stop offset="0.379" stop-color="#00ff80"/><stop offset="0.453" stop-color="#00ff00"/><stop offset="0.547" stop-color="#00ff00"/><stop offset="0.604" stop-color="#41ff00"/><stop offset="0.695" stop-color="#90ff00"/><stop offset="0.856" stop-color="#ffff00"/><stop offset="0.950" stop-color="#fff500"/><stop offset="0.953" stop-color="#fffb00"/><stop offset="0.960" stop-color="#efff00"/><stop offset="0.977" stop-color="#a1ff00"/><stop offset="0.980" stop-color="#8dff00"/><stop offset="0.987" stop-color="#55ff00"/><stop offset="0.993" stop-color="#07ff00"/><stop offset="1.000" stop-color="#00ff00"/></linearGradient>
<linearGradient id="b102" x1="0" y1="0" x2="0" y2="1"><stop offset="0.000" stop-color="#1200ed"/><stop offset="0.050" stop-color="#0002ff"/><stop offset="0.104" stop-color="#0042ff"/><stop offset="0.225" stop-color="#00feff"/><stop offset="0.292" stop-color="#00ffbf"/><stop offset="0.379" stop-color="#00ff81"/><stop offset="0.453" stop-color="#00ff00"/><stop offset="0.550" stop-color="#02ff00"/><stop offset="0.604" stop-color="#40ff00"/><stop offset="0.695" stop-color="#8eff00"/><stop offset="0.856" stop-color="#feff00"/><stop offset="0.950" stop-color="#fff700"/><stop offset="0.953" stop-color="#fffc00"/><stop offset="0.960" stop-color="#eeff00"/><stop offset="0.977" stop-color="#a1ff00"/><stop offset="0.980" stop-color="#8dff00"/><stop offset="0.987" stop-color="#54ff00"/><stop offset="0.993" stop-color="#07ff00"/><stop offset="1.000" stop-color="#00ff00"/></linearGradient>
<linearGradient id="b103" x1="0" y1="0" x2="0" y2="1"><stop offset="0.000" stop-color="#1200ed"/><stop offset="0.050" stop-color="#0002ff"/><stop offset="0.104" stop-color="#0041ff"/><stop offset="0.228" stop-color="#00fffd"/><stop offset="0.292" stop-color="#00ffc0"/><stop offset="0.383" stop-color="#00ff7f"/><stop offset="0.456" stop-color="#00ff00"/><stop offset="0.550" stop-color="#00ff00"/><stop offset="0.607" stop-color="#41ff00"/><stop offset="0.698" stop-color="#8fff00"/><stop offset="0.859" stop-color="#ffff00"/><stop offset="0.950" stop-color="#fff800"/><stop offset="0.953" stop-color="#fffe00"/><stop offset="0.963" stop-color="#dfff00"/><stop offset="0.977" stop-color="#a0ff00"/><stop offset="0.980" stop-color="#8cff00"/><stop offset="0.987" stop-color="#54ff00"/><stop offset="0.993" stop-color="#07ff00"/><stop offset="1.000" stop-color="#00ff00"/></linearGradient>
<linearGradient id="b104" x1="0" y1="0" x2="0" y2="1"><stop offset="0.000" stop-color="#1200ee"/><stop offset="0.050" stop-color="#0002ff"/><stop offset="0.104" stop-color="#0041ff"/><stop offset="0.228" stop-color="#00fffe"/><stop offset="0.295" stop-color="#00ffbf"/><stop offset="0.383" stop-color="#00ff81"/><stop offset="0.456" stop-color="#00ff00"/><stop offset="0.554" stop-color="#01ff00"/><stop offset="0.607" stop-color="#3fff00"/><stop offset="0.698" stop-color="#8eff00"/><stop offset="0.859" stop-color="#fdff00"/><stop offset="0.950" stop-color="#fffa00"/><stop offset="0.953" stop-color="#ffff00"/><stop offset="0.960" stop-color="#ecff00"/><stop offset="0.973" stop-color="#b1ff00"/><stop offset="0.980" stop-color="#8bff00"/><stop offset="0.983" stop-color="#70ff00"/><stop offset="0.990" stop-color="#31ff00"/><stop offset="0.993" stop-color="#06ff00"/><stop offset="1.000" stop-color="#00ff00"/></linearGradient>
<linearGradient id="b105" x1="0" y1="0" x2="0" y2="1"><stop offset="0.000" stop-color="#1100ee"/><stop offset="0.050" stop-color="#0002ff"/><stop offset="0.104" stop-color="#0040ff"/><stop offset="0.228" stop-color="#00feff"/><stop offset="0.295" stop-color="#00ffc0"/><stop offset="0.386" stop-color="#00ff7f"/><stop offset="0.460" stop-color="#00ff00"/><stop offset="0.554" stop-color="#00ff00"/><stop offset="0.611" stop-color="#40ff00"/><stop offset="0.701" stop-color="#8fff00"/><stop offset="0.862" stop-color="#feff00"/><stop offset="0.950" stop-color="#fffb00"/><stop offset="0.953" stop-color="#feff00"/><stop offset="0.960" stop-color="#ebff00"/><stop offset="0.973" stop-color="#b1ff00"/><stop offset="0.980" stop-color="#8bff00"/><stop offset="0.983" stop-color="#70ff00"/><stop offset="0.990" stop-color="#30ff00"/><stop offset="0.993" stop-color="#06ff00"/><stop offset="1.000" stop-color="#00ff00"/></linearGradient>
<linearGradient id="b106" x1="0" y1="0" x2="0" y2="1"><stop offset="0.000" stop-color="#1100ee"/><stop offset="0.050" stop-color="#0002ff"/><stop offset="0.104" stop-color="#0040ff"/><stop offset="0.232" stop-color="#00fffd"/><stop offset="0.295" stop-color="#00ffc1"/><stop offset="0.386" stop-color="#00ff80"/><stop offset="0.460" stop-color="#00ff00"/><stop offset="0.557" stop-color="#01ff00"/><stop offset="0.614" stop-color="#42ff00"/><stop offset="0.705" stop-color="#90ff00"/><stop offset="0.866" stop-color="#ffff00"/><stop offset="0.950" stop-color="#fffd00"/><stop offset="0.960" stop-color="#eaff00"/><stop offset="0.973" stop-color="#b0ff00"/><stop offset="0.980" stop-color="#8aff00"/><stop offset="0.983" stop-color="#6fff00"/><stop offset="0.990" stop-color="#30ff00"/><stop offset="0.993" stop-color="#06ff00"/><stop offset="1.000" stop-color="#00ff00"/></linearGradient>
<linearGradient id="b107" x1="0" y1="0" x2="0" y2="1"><stop offset="0.000" stop-color="#1100ef"/><stop offset="0.050" stop-color="#0002ff"/><stop offset="0.107" stop-color="#0044ff"/><stop offset="0.232" stop-color="#00fffe"/><stop offset="0.299" stop-color="#00ffbf"/><stop offset="0.389" stop-color="#00ff7e"/><stop offset="0.463" stop-color="#00ff00"/><stop offset="0.557" stop-color="#00ff00"/><stop offset="0.614" stop-color="#40ff00"/><stop offset="0.705" stop-color="#8eff00"/><stop offset="0.866" stop-color="#feff00"/><stop offset="0.950" stop-color="#fffe00"/><stop offset="0.960" stop-color="#e9ff00"/><stop offset="0.973" stop-color="#afff00"/><stop offset="0.980" stop-color="#89ff00"/><stop offset="0.983" stop-color="#6eff00"/><stop offset="0.990" stop-color="#2fff00"/><stop offset="0.993" stop-color="#05ff00"/><stop offset="1.000" stop-color="#00ff00"/></linearGradient>
<linearGradient id="b108" x1="0" y1="0" x2="0" y2="1"><stop offset="0.000" stop-color="#1000ef"/><stop offset="0.050" stop-color="#0002ff"/><stop offset="0.107" stop-color="#0043ff"/><stop offset="0.232" stop-color="#00ffff"/><stop offset="0.299" stop-color="#00ffc0"/><stop offset="0.389" stop-color="#00ff80"/><stop offset="0.463" stop-color="#00ff00"/><stop offset="0.560" stop-color="#00ff00"/><stop offset="0.617" stop-color="#41ff00"/><stop offset="0.708" stop-color="#90ff00"/><stop offset="0.869" stop-color="#ffff00"/><stop offset="0.950" stop-color="#ffff00"/><stop offset="0.960" stop-color="#e8ff00"/><stop offset="0.973" stop-color="#afff00"/><stop offset="0.980" stop-color="#89ff00"/><stop offset="0.983" stop-color="#6eff00"/><stop offset="0.990" stop-color="#2fff00"/><stop offset="0.993" stop-color="#05ff00"/><stop offset="1.000" stop-color="#00ff00"/></linearGradient>
<linearGradient id="b109" x1="0" y1="0" x2="0" y2="1"><stop offset="0.000" stop-color="#1000f0"/><stop offset="0.050" stop-color="#0002ff"/><stop offset="0.107" stop-color="#0043ff"/><stop offset="0.235" stop-color="#00fffd"/><stop offset="0.299" stop-color="#00ffc1"/><stop offset="0.389" stop-color="#00ff81"/><stop offset="0.466" stop-color="#00ff00"/><stop offset="0.560" stop-color="#00ff00"/><stop offset="0.617" stop-color="#40ff00"/><stop offset="0.708" stop-color="#8fff00"/><stop offset="0.869" stop-color="#feff00"/><stop offset="0.950" stop-color="#feff00"/><stop offset="0.960" stop-color="#e7ff00"/><stop offset="0.973" stop-color="#aeff00"/><stop offset="0.980" stop-color="#88ff00"/><stop offset="0.983" stop-color="#6dff00"/><stop offset="0.990" stop-color="#2fff00"/><stop offset="0.993" stop-color="#05ff00"/><stop offset="1.000" stop-color="#00ff00"/></linearGradient>
<linearGradient id="b110" x1="0" y1="0" x2="0" y2="1"><stop offset="0.000" stop-color="#0f00f0"/><stop offset="0.050" stop-color="#0002ff"/><stop offset="0.107" stop-color="#0042ff"/><stop offset="0.235" stop-color="#00ffff"/><stop offset="0.302" stop-color="#00ffc0"/><stop offset="0.393" stop-color="#00ff80"/><stop offset="0.466" stop-color="#00ff00"/><stop offset="0.564" stop-color="#01ff00"/><stop offset="0.617" stop-color="#3fff00"/><stop offset="0.708" stop-color="#8eff00"/><stop offset="0.872" stop-color="#ffff00"/><stop offset="0.953" stop-color="#faff00"/><stop offset="0.966" stop-color="#ccff00"/><stop offset="0.977" stop-color="#9cff00"/><stop offset="0.987" stop-color="#51ff00"/><stop offset="0.993" stop-color="#04ff00"/><stop offset="1.000" stop-color="#00ff00"/></linearGradient>
<linearGradient id="b111" x1="0" y1="0" x2="0" y2="1"><stop offset="0.000" stop-color="#0f00f0"/><stop offset="0.050" stop-color="#0002ff"/><stop offset="0.107" stop-color="#0041ff"/><stop offset="0.238" stop-color="#00fffd"/><stop offset="0.302" stop-color="#00ffc1"/><stop offset="0.393" stop-color="#00ff81"/><stop offset="0.466" stop-color="#00ff01"/><stop offset="0.564" stop-color="#00ff00"/><stop offset="0.621" stop-color="#41ff00"/><stop offset="0.711" stop-color="#90ff00"/><stop offset="0.872" stop-color="#ffff00"/><stop offset="0.953" stop-color="#f9ff00"/><stop offset="0.966" stop-color="#ccff00"/><stop offset="0.977" stop-color="#9cff00"/><stop offset="0.987" stop-color="#50ff00"/><stop offset="0.993" stop-color="#04ff00"/><stop offset="1.000" stop-color="#00ff00"/></linearGradient>
<linearGradient id="b112" x1="0" y1="0" x2="0" y2="1"><stop offset="0.000" stop-color="#0f00f0"/><stop offset="0.050" stop-color="#0002ff"/><stop offset="0.107" stop-color="#0041ff"/><stop offset="0.238" stop-color="#00fffe"/><stop offset="0.305" stop-color="#00ffbf"/><stop offset="0.396" stop-color="#00ff7f"/><stop offset="0.470" stop-color="#00ff00"/><stop offset="0.567" stop-color="#01ff00"/><stop offset="0.621" stop-color="#40ff00"/><stop offset="0.711" stop-color="#8fff00"/><stop offset="0.872" stop-color="#ffff00"/><stop offset="0.953" stop-color="#f8ff00"/><stop offset="0.966" stop-color="#cbff00"/><stop offset="0.977" stop-color="#9cff00"/><stop offset="0.987" stop-color="#50ff00"/><stop offset="0.993" stop-color="#04ff00"/><stop offset="1.000" stop-color="#00ff00"/></linearGradient>
<linearGradient id="b113" x1="0" y1="0" x2="0" y2="1"><stop offset="0.000" stop-color="#0f00f0"/><stop offset="0.050" stop-color="#0002ff"/><stop offset="0.107" stop-color="#0040ff"/><stop offset="0.238" stop-color="#00ffff"/><stop offset="0.305" stop-color="#00ffc0"/><stop offset="0.396" stop-color="#00ff81"/><stop offset="0.470" stop-color="#00ff01"/><stop offset="0.567" stop-color="#00ff00"/><stop offset="0.624" stop-color="#41ff00"/><stop offset="0.711" stop-color="#8eff00"/><stop offset="0.872" stop-color="#ffff00"/><stop offset="0.953" stop-color="#f7ff00"/><stop offset="0.966" stop-color="#caff00"/><stop offset="0.977" stop-color="#9bff00"/><stop offset="0.987" stop-color="#50ff00"/><stop offset="0.993" stop-color="#04ff00"/><stop offset="1.000" stop-color="#00ff00"/></linearGradient>
<linearGradient id="b114" x1="0" y1="0" x2="0" y2="1"><stop offset="0.000" stop-color="#0f00f0"/><stop offset="0.050" stop-color="#0002ff"/><stop offset="0.111" stop-color="#0044ff"/><stop offset="0.242" stop-color="#00fffd"/><stop offset="0.309" stop-color="#00ffbf"/><stop offset="0.399" stop-color="#00ff7f"/><stop offset="0.473" stop-color="#00ff00"/><stop offset="0.570" stop-color="#01ff00"/><stop offset="0.624" stop-color="#40ff00"/><stop offset="0.715" stop-color="#90ff00"/><stop offset="0.872" stop-color="#ffff00"/><stop offset="0.953" stop-color="#f7ff00"/><stop offset="0.966" stop-color="#caff00"/><stop offset="0.977" stop-color="#9bff00"/><stop offset="0.987" stop-color="#4fff00"/><stop offset="0.993" stop-color="#03ff00"/><stop offset="1.000" stop-color="#00ff00"/></linearGradient>
<linearGradient id="b115" x1="0" y1="0" x2="0" y2="1"><stop offset="0.000" stop-color="#0f00f0"/><stop offset="0.050" stop-color="#0002ff"/><stop offset="0.111" stop-color="#0044ff"/><stop offset="0.242" stop-color="#00ffff"/><stop offset="0.309" stop-color="#00ffc0"/><stop offset="0.399" stop-color="#00ff81"/><stop offset="0.473" stop-color="#00ff01"/><stop offset="0.570" stop-color="#00ff00"/><stop offset="0.624" stop-color="#3fff00"/><stop offset="0.715" stop-color="#8fff00"/><stop offset="0.876" stop-color="#ffff00"/><stop offset="0.953" stop-color="#f6ff00"/><stop offset="0.966" stop-color="#c9ff00"/><stop offset="0.977" stop-color="#9aff00"/><stop offset="0.987" stop-color="#4fff00"/><stop offset="0.993" stop-color="#03ff00"/><stop offset="1.000" stop-color="#00ff00"/></linearGradient>
<linearGradient id="b116" x1="0" y1="0" x2="0" y2="1"><stop offset="0.000" stop-color="#0f00f0"/><stop offset="0.050" stop-color="#0002ff"/><stop offset="0.111" stop-color="#0043ff"/><stop offset="0.245" stop-color="#00fffd"/><stop offset="0.309" stop-color="#00ffc1"/><stop offset="0.403" stop-color="#00ff7e"/><stop offset="0.477" stop-color="#00ff00"/><stop offset="0.574" stop-color="#02ff00"/><stop offset="0.628" stop-color="#41ff00"/><stop offset="0.715" stop-color="#8eff00"/><stop offset="0.876" stop-color="#ffff00"/><stop offset="0.953" stop-color="#f5ff00"/><stop offset="0.966" stop-color="#c9ff00"/><stop offset="0.977" stop-color="#9aff00"/><stop offset="0.987" stop-color="#4fff00"/><stop offset="0.993" stop-color="#03ff00"/><stop offset="1.000" stop-color="#00ff00"/></linearGradient>
<linearGradient id="b117" x1="0" y1="0" x2="0" y2="1"><stop offset="0.000" stop-color="#0f00f0"/><stop offset="0.050" stop-color="#0001ff"/><stop offset="0.111" stop-color="#0042ff"/><stop offset="0.245" stop-color="#00fffe"/><stop offset="0.312" stop-color="#00ffbf"/><stop offset="0.403" stop-color="#00ff80"/><stop offset="0.477" stop-color="#00ff00"/><stop offset="0.574" stop-color="#00ff00"/><stop offset="0.628" stop-color="#40ff00"/><stop offset="0.718" stop-color="#90ff00"/><stop offset="0.876" stop-color="#ffff00"/><stop offset="0.953" stop-color="#f5ff00"/><stop offset="0.966" stop-color="#c8ff00"/><stop offset="0.977" stop-color="#9aff00"/><stop offset="0.987" stop-color="#4eff00"/><stop offset="0.993" stop-color="#03ff00"/><stop offset="1.000" stop-color="#00ff00"/></linearGradient>
<linearGradient id="b118" x1="0" y1="0" x2="0" y2="1"><stop offset="0.000" stop-color="#0f00f0"/><stop offset="0.050" stop-color="#0001ff"/><stop offset="0.111" stop-color="#0042ff"/><stop offset="0.245" stop-color="#00ffff"/><stop offset="0.312" stop-color="#00ffc1"/><stop offset="0.403" stop-color="#00ff81"/><stop offset="0.480" stop-color="#00ff00"/><stop offset="0.574" stop-color="#00ff00"/><stop offset="0.631" stop-color="#42ff00"/><stop offset="0.718" stop-color="#8fff00"/><stop offset="0.876" stop-color="#ffff00"/><stop offset="0.953" stop-color="#f4ff00"/><stop offset="0.966" stop-color="#c8ff00"/><stop offset="0.977" stop-color="#99ff00"/><stop offset="0.987" stop-color="#4eff00"/><stop offset="0.993" stop-color="#03ff00"/><stop offset="1.000" stop-color="#00ff00"/></linearGradient>
<linearGradient id="b119" x1="0" y1="0" x2="0" y2="1"><stop offset="0.000" stop-color="#0f00f0"/><stop offset="0.050" stop-color="#0001ff"/><stop offset="0.111" stop-color="#0041ff"/><stop offset="0.248" stop-color="#00fffd"/><stop offset="0.315" stop-color="#00ffbf"/><stop offset="0.406" stop-color="#00ff80"/><stop offset="0.480" stop-color="#00ff00"/><stop offset="0.577" stop-color="#01ff00"/><stop offset="0.631" stop-color="#40ff00"/><stop offset="0.718" stop-color="#8eff00"/><stop offset="0.876" stop-color="#ffff00"/><stop offset="0.953" stop-color="#f3ff00"/><stop offset="0.966" stop-color="#c7ff00"/><stop offset="0.977" stop-color="#99ff00"/><stop offset="0.987" stop-color="#4eff00"/><stop offset="0.993" stop-color="#02ff00"/><stop offset="1.000" stop-color="#00ff00"/></linearGradient>
<linearGradient id="b120" x1="0" y1="0" x2="0" y2="1"><stop offset="0.000" stop-color="#1000f0"/><stop offset="0.050" stop-color="#0001ff"/><stop offset="0.111" stop-color="#0041ff"/><stop offset="0.248" stop-color="#00ffff"/><stop offset="0.315" stop-color="#00ffc0"/><stop offset="0.406" stop-color="#00ff81"/><stop offset="0.483" stop-color="#00ff00"/><stop offset="0.577" stop-color="#00ff00"/><stop offset="0.631" stop-color="#3fff00"/><stop offset="0.721" stop-color="#90ff00"/><stop offset="0.879" stop-color="#ffff00"/><stop offset="0.953" stop-color="#f3ff00"/><stop offset="0.966" stop-color="#c7ff00"/><stop offset="0.977" stop-color="#98ff00"/><stop offset="0.987" stop-color="#4dff00"/><stop offset="0.993" stop-color="#02ff00"/><stop offset="1.000" stop-color="#00ff00"/></linearGradient>
<linearGradient id="b121" x1="0" y1="0" x2="0" y2="1"><stop offset="0.000" stop-color="#1000f0"/><stop offset="0.050" stop-color="#0001ff"/><stop offset="0.111" stop-color="#0040ff"/><stop offset="0.248" stop-color="#00ffff"/><stop offset="0.315" stop-color="#00ffc1"/><stop offset="0.409" stop-color="#00ff7e"/><stop offset="0.483" stop-color="#00ff00"/><stop offset="0.581" stop-color="#02ff00"/><stop offset="0.634" stop-color="#42ff00"/><stop offset="0.721" stop-color="#90ff00"/><stop offset="0.879" stop-color="#ffff00"/><stop offset="0.953" stop-color="#f3ff00"/><stop offset="0.966" stop-color="#c7ff00"/><stop offset="0.977" stop-color="#98ff00"/><stop offset="0.987" stop-color="#4dff00"/><stop offset="0.993" stop-color="#02ff00"/><stop offset="1.000" stop-color="#00ff00"/></linearGradient>
<linearGradient id="b122" x1="0" y1="0" x2="0" y2="1"><stop offset="0.000" stop-color="#1000f0"/><stop offset="0.050" stop-color="#0001ff"/><stop offset="0.111" stop-color="#0040ff"/><stop offset="0.248" stop-color="#00ffff"/><stop offset="0.315" stop-color="#00ffc1"/><stop offset="0.409" stop-color="#00ff7e"/><stop offset="0.483" stop-color="#00ff00"/><stop offset="0.581" stop-color="#02ff00"/><stop offset="0.634" stop-color="#42ff00"/><stop offset="0.721" stop-color="#90ff00"/><stop offset="0.879" stop-color="#ffff00"/><stop offset="0.953" stop-color="#f3ff00"/><stop offset="0.966" stop-color="#c7ff00"/><stop offset="0.977" stop-color="#98ff00"/><stop offset="0.987" stop-color="#4dff00"/><stop offset="0.993" stop-color="#02ff00"/><stop offset="1.000" stop-color="#00ff00"/></linearGradient>
<linearGradient id="b123" x1="0" y1="0" x2="0" y2="1"><stop offset="0.000" stop-color="#1000f0"/><stop offset="0.050" stop-color="#0001ff"/><stop offset="0.111" stop-color="#0040ff"/><stop offset="0.252" stop-color="#00fffd"/><stop offset="0.315" stop-color="#00ffc1"/><stop offset="0.409" stop-color="#00ff7f"/><stop offset="0.483" stop-color="#00ff01"/><stop offset="0.581" stop-color="#01ff00"/><stop offset="0.634" stop-color="#41ff00"/><stop offset="0.721" stop-color="#8fff00"/><stop offset="0.883" stop-color="#fffe00"/><stop offset="0.953" stop-color="#f4ff00"/><stop offset="0.966" stop-color="#c7ff00"/><stop offset="0.977" stop-color="#99ff00"/><stop offset="0.987" stop-color="#4eff00"/><stop offset="0.993" stop-color="#02ff00"/><stop offset="1.000" stop-color="#00ff00"/></linearGradient>
<linearGradient id="b124" x1="0" y1="0" x2="0" y2="1"><stop offset="0.000" stop-color="#1000ef"/><stop offset="0.050" stop-color="#0001ff"/><stop offset="0.114" stop-color="#0043ff"/><stop offset="0.252" stop-color="#00feff"/><stop offset="0.319" stop-color="#00ffc1"/><stop offset="0.413" stop-color="#00ff7f"/><stop offset="0.487" stop-color="#00ff00"/><stop offset="0.584" stop-color="#02ff00"/><stop offset="0.638" stop-color="#42ff00"/><stop offset="0.725" stop-color="#90ff00"/><stop offset="0.829" stop-color="#d7ff00"/><stop offset="0.872" stop-color="#fdff00"/><stop offset="0.916" stop-color="#fffe00"/><stop offset="0.950" stop-color="#fbff00"/><stop offset="0.956" stop-color="#eeff00"/><stop offset="0.970" stop-color="#bbff00"/><stop offset="0.980" stop-color="#85ff00"/><stop offset="0.987" stop-color="#4fff00"/><stop offset="0.993" stop-color="#03ff00"/><stop offset="1.000" stop-color="#00ff00"/></linearGradient>
<linearGradient id="b125" x1="0" y1="0" x2="0" y2="1"><stop offset="0.000" stop-color="#1000ef"/><stop offset="0.050" stop-color="#0001ff"/><stop offset="0.114" stop-color="#0043ff"/><stop offset="0.255" stop-color="#00fffd"/><stop offset="0.322" stop-color="#00ffbf"/><stop offset="0.413" stop-color="#00ff80"/><stop offset="0.487" stop-color="#00ff00"/><stop offset="0.584" stop-color="#01ff00"/><stop offset="0.638" stop-color="#41ff00"/><stop offset="0.725" stop-color="#90ff00"/><stop offset="0.829" stop-color="#d7ff00"/><stop offset="0.872" stop-color="#feff00"/><stop offset="0.889" stop-color="#fff800"/><stop offset="0.923" stop-color="#fffe00"/><stop offset="0.950" stop-color="#fcff00"/><stop offset="0.960" stop-color="#e4ff00"/><stop offset="0.970" stop-color="#bcff00"/><stop offset="0.980" stop-color="#86ff00"/><stop offset="0.987" stop-color="#50ff00"/><stop offset="0.993" stop-color="#04ff00"/><stop offset="1.000" stop-color="#00ff00"/></linearGradient>
<linearGradient id="b126" x1="0" y1="0" x2="0" y2="1"><stop offset="0.000" stop-color="#1000ef"/><stop offset="0.050" stop-color="#0001ff"/><stop offset="0.114" stop-color="#0042ff"/><stop offset="0.255" stop-color="#00fffe"/><stop offset="0.322" stop-color="#00ffc0"/><stop offset="0.413" stop-color="#00ff81"/><stop offset="0.490" stop-color="#00ff00"/><stop offset="0.584" stop-color="#00ff00"/><stop offset="0.638" stop-color="#40ff00"/><stop offset="0.725" stop-color="#8fff00"/><stop offset="0.832" stop-color="#d9ff00"/><stop offset="0.872" stop-color="#feff00"/><stop offset="0.893" stop-color="#fff600"/><stop offset="0.930" stop-color="#fffe00"/><stop offset="0.950" stop-color="#fdff00"/><stop offset="0.960" stop-color="#e5ff00"/><stop offset="0.970" stop-color="#bdff00"/><stop offset="0.980" stop-color="#87ff00"/><stop offset="0.987" stop-color="#50ff00"/><stop offset="0.993" stop-color="#04ff00"/><stop offset="1.000" stop-color="#00ff00"/></linearGradient>
<linearGradient id="b127" x1="0" y1="0" x2="0" y2="1"><stop offset="0.000" stop-color="#1000ef"/><stop offset="0.050" stop-color="#0001ff"/><stop offset="0.114" stop-color="#0042ff"/><stop offset="0.255" stop-color="#00feff"/><stop offset="0.322" stop-color="#00ffc1"/><stop offset="0.416" stop-color="#00ff7e"/><stop offset="0.490" stop-color="#00ff00"/><stop offset="0.584" stop-color="#00ff00"/><stop offset="0.638" stop-color="#3fff00"/><stop offset="0.725" stop-color="#8fff00"/><stop offset="0.832" stop-color="#d8ff00"/><stop offset="0.872" stop-color="#ffff00"/><stop offset="0.879" stop-color="#fff600"/><stop offset="0.893" stop-color="#fff300"/><stop offset="0.940" stop-color="#ffff00"/><stop offset="0.953" stop-color="#faff00"/><stop offset="0.966" stop-color="#ccff00"/><stop offset="0.980" stop-color="#87ff00"/><stop offset="0.987" stop-color="#51ff00"/><stop offset="0.993" stop-color="#04ff00"/><stop offset="1.000" stop-color="#00ff00"/></linearGradient>
<linearGradient id="b128" x1="0" y1="0" x2="0" y2="1"><stop offset="0.000" stop-color="#1000ef"/><stop offset="0.050" stop-color="#0001ff"/><stop offset="0.114" stop-color="#0041ff"/><stop offset="0.258" stop-color="#00fffd"/><stop offset="0.326" stop-color="#00ffbf"/><stop offset="0.416" stop-color="#00ff80"/><stop offset="0.490" stop-color="#00ff00"/><stop offset="0.587" stop-color="#01ff00"/><stop offset="0.641" stop-color="#42ff00"/><stop offset="0.725" stop-color="#8eff00"/><stop offset="0.832" stop-color="#d8ff00"/><stop offset="0.872" stop-color="#ffff00"/><stop offset="0.879" stop-color="#fff600"/><stop offset="0.896" stop-color="#fff200"/><stop offset="0.946" stop-color="#fffe00"/><stop offset="0.956" stop-color="#f3ff00"/><stop offset="0.970" stop-color="#beff00"/><stop offset="0.980" stop-color="#88ff00"/><stop offset="0.987" stop-color="#51ff00"/><stop offset="0.993" stop-color="#05ff00"/><stop offset="1.000" stop-color="#00ff00"/></linearGradient>
<linearGradient id="b129" x1="0" y1="0" x2="0" y2="1"><stop offset="0.000" stop-color="#1000ef"/><stop offset="0.050" stop-color="#0001ff"/><stop offset="0.114" stop-color="#0041ff"/><stop offset="0.258" stop-color="#00fffe"/><stop offset="0.326" stop-color="#00ffc0"/><stop offset="0.416" stop-color="#00ff81"/><stop offset="0.493" stop-color="#00ff00"/><stop offset="0.587" stop-color="#00ff00"/><stop offset="0.641" stop-color="#41ff00"/><stop offset="0.728" stop-color="#90ff00"/><stop offset="0.832" stop-color="#d7ff00"/><stop offset="0.872" stop-color="#feff00"/><stop offset="0.883" stop-color="#fff400"/><stop offset="0.896" stop-color="#fff200"/><stop offset="0.950" stop-color="#fffe00"/><stop offset="0.960" stop-color="#e8ff00"/><stop offset="0.973" stop-color="#afff00"/><stop offset="0.980" stop-color="#88ff00"/><stop offset="0.983" stop-color="#6eff00"/><stop offset="0.990" stop-color="#2fff00"/><stop offset="0.993" stop-color="#05ff00"/><stop offset="1.000" stop-color="#00ff00"/></linearGradient>
<linearGradient id="b130" x1="0" y1="0" x2="0" y2="1"><stop offset="0.000" stop-color="#1100ef"/><stop offset="0.050" stop-color="#0001ff"/><stop offset="0.114" stop-color="#0040ff"/><stop offset="0.258" stop-color="#00ffff"/><stop offset="0.326" stop-color="#00ffc1"/><stop offset="0.419" stop-color="#00ff7e"/><stop offset="0.493" stop-color="#00ff00"/><stop offset="0.587" stop-color="#00ff00"/><stop offset="0.641" stop-color="#40ff00"/><stop offset="0.728" stop-color="#8fff00"/><stop offset="0.832" stop-color="#d7ff00"/><stop offset="0.872" stop-color="#fdff00"/><stop offset="0.883" stop-color="#fff400"/><stop offset="0.896" stop-color="#fff300"/><stop offset="0.943" stop-color="#ffff00"/><stop offset="0.953" stop-color="#faff00"/><stop offset="0.970" stop-color="#beff00"/><stop offset="0.980" stop-color="#88ff00"/><stop offset="0.987" stop-color="#51ff00"/><stop offset="0.993" stop-color="#05ff00"/><stop offset="1.000" stop-color="#00ff00"/></linearGradient>
<linearGradient id="b131" x1="0" y1="0" x2="0" y2="1"><stop offset="0.000" stop-color="#1100ef"/><stop offset="0.050" stop-color="#0001ff"/><stop offset="0.114" stop-color="#0040ff"/><stop offset="0.262" stop-color="#00fffd"/><stop offset="0.329" stop-color="#00ffbf"/><stop offset="0.419" stop-color="#00ff80"/><stop offset="0.493" stop-color="#00ff00"/><stop offset="0.591" stop-color="#02ff00"/><stop offset="0.641" stop-color="#3fff00"/><stop offset="0.728" stop-color="#8fff00"/><stop offset="0.836" stop-color="#d9ff00"/><stop offset="0.876" stop-color="#fffe00"/><stop offset="0.883" stop-color="#fff600"/><stop offset="0.896" stop-color="#fff500"/><stop offset="0.936" stop-color="#ffff00"/><stop offset="0.953" stop-color="#faff00"/><stop offset="0.966" stop-color="#ccff00"/><stop offset="0.980" stop-color="#87ff00"/><stop offset="0.987" stop-color="#50ff00"/><stop offset="0.993" stop-color="#04ff00"/><stop offset="1.000" stop-color="#00ff00"/></linearGradient>
<linearGradient id="b132" x1="0" y1="0" x2="0" y2="1"><stop offset="0.000" stop-color="#1100ef"/><stop offset="0.050" stop-color="#0001ff"/><stop offset="0.117" stop-color="#0043ff"/><stop offset="0.262" stop-color="#00fffe"/><stop offset="0.329" stop-color="#00ffc0"/><stop offset="0.419" stop-color="#00ff81"/><stop offset="0.497" stop-color="#00ff00"/><stop offset="0.591" stop-color="#00ff00"/><stop offset="0.644" stop-color="#41ff00"/><stop offset="0.728" stop-color="#8eff00"/><stop offset="0.836" stop-color="#d8ff00"/><stop offset="0.876" stop-color="#feff00"/><stop offset="0.893" stop-color="#fff700"/><stop offset="0.930" stop-color="#fffe00"/><stop offset="0.950" stop-color="#fdff00"/><stop offset="0.960" stop-color="#e5ff00"/><stop offset="0.970" stop-color="#bdff00"/><stop offset="0.980" stop-color="#87ff00"/><stop offset="0.987" stop-color="#50ff00"/><stop offset="0.993" stop-color="#04ff00"/><stop offset="1.000" stop-color="#00ff00"/></linearGradient>
<linearGradient id="b133" x1="0" y1="0" x2="0" y2="1"><stop offset="0.000" stop-color="#1100ef"/><stop offset="0.050" stop-color="#0001ff"/><stop offset="0.117" stop-color="#0043ff"/><stop offset="0.262" stop-color="#00ffff"/><stop offset="0.329" stop-color="#00ffc1"/><stop offset="0.423" stop-color="#00ff7e"/><stop offset="0.497" stop-color="#00ff00"/><stop offset="0.591" stop-color="#00ff00"/><stop offset="0.644" stop-color="#40ff00"/><stop offset="0.732" stop-color="#90ff00"/><stop offset="0.836" stop-color="#d8ff00"/><stop offset="0.879" stop-color="#fffe00"/><stop offset="0.923" stop-color="#fffe00"/><stop offset="0.950" stop-color="#fcff00"/><stop offset="0.960" stop-color="#e4ff00"/><stop offset="0.970" stop-color="#bcff00"/><stop offset="0.980" stop-color="#86ff00"/><stop offset="0.987" stop-color="#50ff00"/><stop offset="0.993" stop-color="#04ff00"/><stop offset="1.000" stop-color="#00ff00"/></linearGradient>
<linearGradient id="b134" x1="0" y1="0" x2="0" y2="1"><stop offset="0.000" stop-color="#1100ee"/><stop offset="0.050" stop-color="#0001ff"/><stop offset="0.117" stop-color="#0042ff"/><stop offset="0.265" stop-color="#00fffd"/><stop offset="0.332" stop-color="#00ffbf"/><stop offset="0.423" stop-color="#00ff80"/><stop offset="0.497" stop-color="#00ff00"/><stop offset="0.591" stop-color="#00ff00"/><stop offset="0.644" stop-color="#40ff00"/><stop offset="0.732" stop-color="#8fff00"/><stop offset="0.836" stop-color="#d7ff00"/><stop offset="0.879" stop-color="#fdff00"/><stop offset="0.913" stop-color="#fffe00"/><stop offset="0.950" stop-color="#fbff00"/><stop offset="0.956" stop-color="#efff00"/><stop offset="0.970" stop-color="#bcff00"/><stop offset="0.980" stop-color="#86ff00"/><stop offset="0.987" stop-color="#4fff00"/><stop offset="0.993" stop-color="#03ff00"/><stop offset="1.000" stop-color="#00ff00"/></linearGradient>
<linearGradient id="b135" x1="0" y1="0" x2="0" y2="1"><stop offset="0.000" stop-color="#1100ee"/><stop offset="0.050" stop-color="#0001ff"/><stop offset="0.117" stop-color="#0042ff"/><stop offset="0.265" stop-color="#00ffff"/><stop offset="0.332" stop-color="#00ffc0"/><stop offset="0.423" stop-color="#00ff81"/><stop offset="0.497" stop-color="#00ff01"/><stop offset="0.594" stop-color="#01ff00"/><stop offset="0.648" stop-color="#42ff00"/><stop offset="0.732" stop-color="#8eff00"/><stop offset="0.839" stop-color="#d8ff00"/><stop offset="0.883" stop-color="#feff00"/><stop offset="0.903" stop-color="#fffe00"/><stop offset="0.950" stop-color="#faff00"/><stop offset="0.956" stop-color="#eeff00"/><stop offset="0.970" stop-color="#bbff00"/><stop offset="0.980" stop-color="#85ff00"/><stop offset="0.987" stop-color="#4fff00"/><stop offset="0.993" stop-color="#03ff00"/><stop offset="1.000" stop-color="#00ff00"/></linearGradient>
<linearGradient id="b136" x1="0" y1="0" x2="0" y2="1"><stop offset="0.000" stop-color="#1100ee"/><stop offset="0.050" stop-color="#0001ff"/><stop offset="0.117" stop-color="#0041ff"/><stop offset="0.268" stop-color="#00fffd"/><stop offset="0.332" stop-color="#00ffc1"/><stop offset="0.423" stop-color="#00ff81"/><stop offset="0.500" stop-color="#00ff00"/><stop offset="0.594" stop-color="#00ff00"/><stop offset="0.648" stop-color="#41ff00"/><stop offset="0.735" stop-color="#90ff00"/><stop offset="0.839" stop-color="#d8ff00"/><stop offset="0.883" stop-color="#fdff00"/><stop offset="0.896" stop-color="#ffff00"/><stop offset="0.950" stop-color="#f9ff00"/><stop offset="0.956" stop-color="#edff00"/><stop offset="0.970" stop-color="#baff00"/><stop offset="0.980" stop-color="#84ff00"/><stop offset="0.987" stop-color="#4eff00"/><stop offset="0.993" stop-color="#03ff00"/><stop offset="1.000" stop-color="#00ff00"/></linearGradient>
<linearGradient id="b137" x1="0" y1="0" x2="0" y2="1"><stop offset="0.000" stop-color="#1100ee"/><stop offset="0.050" stop-color="#0001ff"/><stop offset="0.117" stop-color="#0041ff"/><stop offset="0.268" stop-color="#00fffe"/><stop offset="0.336" stop-color="#00ffbf"/><stop offset="0.426" stop-color="#00ff80"/><stop offset="0.500" stop-color="#00ff00"/><stop offset="0.594" stop-color="#00ff00"/><stop offset="0.648" stop-color="#40ff00"/><stop offset="0.735" stop-color="#90ff00"/><stop offset="0.893" stop-color="#ffff00"/><stop offset="0.953" stop-color="#f4ff00"/><stop offset="0.966" stop-color="#c8ff00"/><stop offset="0.977" stop-color="#99ff00"/><stop offset="0.987" stop-color="#4eff00"/><stop offset="0.993" stop-color="#03ff00"/><stop offset="1.000" stop-color="#00ff00"/></linearGradient>
<linearGradient id="b138" x1="0" y1="0" x2="0" y2="1"><stop offset="0.000" stop-color="#1100ee"/><stop offset="0.050" stop-color="#0000ff"/><stop offset="0.117" stop-color="#0040ff"/><stop offset="0.268" stop-color="#00feff"/><stop offset="0.336" stop-color="#00ffc0"/><stop offset="0.426" stop-color="#00ff81"/><stop offset="0.500" stop-color="#00ff00"/><stop offset="0.597" stop-color="#02ff00"/><stop offset="0.648" stop-color="#3fff00"/><stop offset="0.735" stop-color="#8fff00"/><stop offset="0.889" stop-color="#ffff00"/><stop offset="0.953" stop-color="#f4ff00"/><stop offset="0.966" stop-color="#c7ff00"/><stop offset="0.977" stop-color="#99ff00"/><stop offset="0.987" stop-color="#4eff00"/><stop offset="0.993" stop-color="#02ff00"/><stop offset="1.000" stop-color="#00ff00"/></linearGradient>
<linearGradient id="b139" x1="0" y1="0" x2="0" y2="1"><stop offset="0.000" stop-color="#1100ee"/><stop offset="0.050" stop-color="#0000ff"/><stop offset="0.121" stop-color="#0044ff"/><stop offset="0.272" stop-color="#00fffe"/><stop offset="0.339" stop-color="#00ffbf"/><stop offset="0.426" stop-color="#00ff81"/><stop offset="0.503" stop-color="#00ff00"/><stop offset="0.597" stop-color="#01ff00"/><stop offset="0.651" stop-color="#42ff00"/><stop offset="0.735" stop-color="#8eff00"/><stop offset="0.893" stop-color="#ffff00"/><stop offset="0.953" stop-color="#f3ff00"/><stop offset="0.966" stop-color="#c7ff00"/><stop offset="0.977" stop-color="#98ff00"/><stop offset="0.987" stop-color="#4dff00"/><stop offset="0.993" stop-color="#02ff00"/><stop offset="1.000" stop-color="#00ff00"/></linearGradient>
<linearGradient id="b140" x1="0" y1="0" x2="0" y2="1"><stop offset="0.000" stop-color="#1200ee"/><stop offset="0.050" stop-color="#0000ff"/><stop offset="0.117" stop-color="#003fff"/><stop offset="0.272" stop-color="#00ffff"/><stop offset="0.339" stop-color="#00ffc0"/><stop offset="0.430" stop-color="#00ff7f"/><stop offset="0.503" stop-color="#00ff00"/><stop offset="0.597" stop-color="#00ff00"/><stop offset="0.651" stop-color="#41ff00"/><stop offset="0.738" stop-color="#90ff00"/><stop offset="0.893" stop-color="#ffff00"/><stop offset="0.953" stop-color="#f2ff00"/><stop offset="0.966" stop-color="#c6ff00"/><stop offset="0.977" stop-color="#98ff00"/><stop offset="0.987" stop-color="#4dff00"/><stop offset="0.993" stop-color="#02ff00"/><stop offset="1.000" stop-color="#00ff00"/></linearGradient>
<linearGradient id="b141" x1="0" y1="0" x2="0" y2="1"><stop offset="0.000" stop-color="#1200ee"/><stop offset="0.050" stop-color="#0000ff"/><stop offset="0.121" stop-color="#0042ff"/><stop offset="0.275" stop-color="#00fffd"/><stop offset="0.339" stop-color="#00ffc1"/><stop offset="0.430" stop-color="#00ff80"/><stop offset="0.503" stop-color="#00ff00"/><stop offset="0.597" stop-color="#00ff00"/><stop offset="0.651" stop-color="#40ff00"/><stop offset="0.738" stop-color="#8fff00"/><stop offset="0.893" stop-color="#ffff00"/><stop offset="0.953" stop-color="#f1ff00"/><stop offset="0.966" stop-color="#c5ff00"/><stop offset="0.977" stop-color="#97ff00"/><stop offset="0.987" stop-color="#4cff00"/><stop offset="0.993" stop-color="#01ff00"/><stop offset="1.000" stop-color="#00ff00"/></linearGradient>
<linearGradient id="b142" x1="0" y1="0" x2="0" y2="1"><stop offset="0.000" stop-color="#1200ee"/><stop offset="0.050" stop-color="#0000ff"/><stop offset="0.117" stop-color="#003eff"/><stop offset="0.174" stop-color="#007fff"/><stop offset="0.275" stop-color="#00ffff"/><stop offset="0.342" stop-color="#00ffbf"/><stop offset="0.430" stop-color="#00ff81"/><stop offset="0.503" stop-color="#00ff00"/><stop offset="0.601" stop-color="#02ff00"/><stop offset="0.651" stop-color="#3fff00"/><stop offset="0.738" stop-color="#8eff00"/><stop offset="0.896" stop-color="#ffff00"/><stop offset="0.953" stop-color="#f0ff00"/><stop offset="0.966" stop-color="#c5ff00"/><stop offset="0.977" stop-color="#97ff00"/><stop offset="0.987" stop-color="#4cff00"/><stop offset="0.993" stop-color="#01ff00"/><stop offset="1.000" stop-color="#00ff00"/></linearGradient>
<linearGradient id="b143" x1="0" y1="0" x2="0" y2="1"><stop offset="0.000" stop-color="#1200ee"/><stop offset="0.050" stop-color="#0000ff"/><stop offset="0.117" stop-color="#003eff"/><stop offset="0.174" stop-color="#007eff"/><stop offset="0.275" stop-color="#00feff"/><stop offset="0.342" stop-color="#00ffc0"/><stop offset="0.433" stop-color="#00ff7f"/><stop offset="0.503" stop-color="#00ff02"/><stop offset="0.597" stop-color="#00ff00"/><stop offset="0.654" stop-color="#41ff00"/><stop offset="0.742" stop-color="#90ff00"/><stop offset="0.896" stop-color="#ffff00"/><stop offset="0.953" stop-color="#f0ff00"/><stop offset="0.966" stop-color="#c4ff00"/><stop offset="0.977" stop-color="#96ff00"/><stop offset="0.987" stop-color="#4cff00"/><stop offset="0.993" stop-color="#01ff00"/><stop offset="1.000" stop-color="#00ff00"/></linearGradient>
<linearGradient id="b144" x1="0" y1="0" x2="0" y2="1"><stop offset="0.000" stop-color="#1200ed"/><stop offset="0.050" stop-color="#0000ff"/><stop offset="0.117" stop-color="#003eff"/><stop offset="0.279" stop-color="#00fffe"/><stop offset="0.342" stop-color="#00ffc1"/><stop offset="0.433" stop-color="#00ff80"/><stop offset="0.507" stop-color="#00ff00"/><stop offset="0.601" stop-color="#00ff00"/><stop offset="0.654" stop-color="#40ff00"/><stop offset="0.742" stop-color="#8fff00"/><stop offset="0.896" stop-color="#ffff00"/><stop offset="0.953" stop-color="#efff00"/><stop offset="0.966" stop-color="#c3ff00"/><stop offset="0.977" stop-color="#96ff00"/><stop offset="0.987" stop-color="#4bff00"/><stop offset="0.993" stop-color="#01ff00"/><stop offset="1.000" stop-color="#00ff00"/></linearGradient>
<linearGradient id="b145" x1="0" y1="0" x2="0" y2="1"><stop offset="0.000" stop-color="#1200ed"/><stop offset="0.050" stop-color="#0000ff"/><stop offset="0.117" stop-color="#003dff"/><stop offset="0.178" stop-color="#0080ff"/><stop offset="0.279" stop-color="#00feff"/><stop offset="0.346" stop-color="#00ffbf"/><stop offset="0.433" stop-color="#00ff81"/><stop offset="0.507" stop-color="#00ff00"/><stop offset="0.601" stop-color="#00ff00"/><stop offset="0.654" stop-color="#3fff00"/><stop offset="0.742" stop-color="#8eff00"/><stop offset="0.899" stop-color="#ffff00"/><stop offset="0.950" stop-color="#f3ff00"/><stop offset="0.956" stop-color="#e6ff00"/><stop offset="0.966" stop-color="#c3ff00"/><stop offset="0.977" stop-color="#95ff00"/><stop offset="0.987" stop-color="#4bff00"/><stop offset="0.993" stop-color="#00ff00"/><stop offset="1.000" stop-color="#00ff00"/></linearGradient>
<linearGradient id="b146" x1="0" y1="0" x2="0" y2="1"><stop offset="0.000" stop-color="#1200ed"/><stop offset="0.050" stop-color="#0000ff"/><stop offset="0.121" stop-color="#0040ff"/><stop offset="0.282" stop-color="#00fffe"/><stop offset="0.346" stop-color="#00ffc0"/><stop offset="0.436" stop-color="#00ff7f"/><stop offset="0.507" stop-color="#00ff01"/><stop offset="0.601" stop-color="#00ff00"/><stop offset="0.658" stop-color="#42ff00"/><stop offset="0.745" stop-color="#90ff00"/><stop offset="0.899" stop-color="#ffff00"/><stop offset="0.953" stop-color="#edff00"/><stop offset="0.966" stop-color="#c2ff00"/><stop offset="0.977" stop-color="#95ff00"/><stop offset="0.987" stop-color="#4aff00"/><stop offset="0.993" stop-color="#00ff00"/><stop offset="1.000" stop-color="#00ff00"/></linearGradient>
<linearGradient id="b147" x1="0" y1="0" x2="0" y2="1"><stop offset="0.000" stop-color="#1200ed"/><stop offset="0.050" stop-color="#0000ff"/><stop offset="0.121" stop-color="#003fff"/><stop offset="0.282" stop-color="#00ffff"/><stop offset="0.349" stop-color="#00ffbf"/><stop offset="0.436" stop-color="#00ff80"/><stop offset="0.507" stop-color="#00ff03"/><stop offset="0.601" stop-color="#00ff00"/><stop offset="0.658" stop-color="#41ff00"/><stop offset="0.745" stop-color="#8fff00"/><stop offset="0.899" stop-color="#ffff00"/><stop offset="0.953" stop-color="#edff00"/><stop offset="0.966" stop-color="#c2ff00"/><stop offset="0.977" stop-color="#94ff00"/><stop offset="0.987" stop-color="#4aff00"/><stop offset="0.993" stop-color="#00ff00"/><stop offset="1.000" stop-color="#00ff00"/></linearGradient>
<linearGradient id="b148" x1="0" y1="0" x2="0" y2="1"><stop offset="0.000" stop-color="#1200ed"/><stop offset="0.050" stop-color="#0000ff"/><stop offset="0.121" stop-color="#003fff"/><stop offset="0.285" stop-color="#00fffd"/><stop offset="0.349" stop-color="#00ffc0"/><stop offset="0.436" stop-color="#00ff81"/><stop offset="0.510" stop-color="#00ff00"/><stop offset="0.604" stop-color="#00ff00"/><stop offset="0.658" stop-color="#40ff00"/><stop offset="0.745" stop-color="#8fff00"/><stop offset="0.903" stop-color="#feff00"/><stop offset="0.950" stop-color="#f1ff00"/><stop offset="0.956" stop-color="#e3ff00"/><stop offset="0.966" stop-color="#c1ff00"/><stop offset="0.977" stop-color="#94ff00"/><stop offset="0.987" stop-color="#4aff00"/><stop offset="0.993" stop-color="#00ff00"/><stop offset="1.000" stop-color="#00ff00"/></linearGradient>
<linearGradient id="b149" x1="0" y1="0" x2="0" y2="1"><stop offset="0.000" stop-color="#1200ed"/><stop offset="0.050" stop-color="#0000ff"/><stop offset="0.121" stop-color="#003fff"/><stop offset="0.285" stop-color="#00fffe"/><stop offset="0.349" stop-color="#00ffc1"/><stop offset="0.440" stop-color="#00ff7f"/><stop offset="0.510" stop-color="#00ff00"/><stop offset="0.604" stop-color="#00ff00"/><stop offset="0.658" stop-color="#3fff00"/><stop offset="0.745" stop-color="#8eff00"/><stop offset="0.903" stop-color="#ffff00"/><stop offset="0.950" stop-color="#f0ff00"/><stop offset="0.956" stop-color="#e3ff00"/><stop offset="0.966" stop-color="#c0ff00"/><stop offset="0.977" stop-color="#93ff00"/><stop offset="0.987" stop-color="#49ff00"/><stop offset="0.993" stop-color="#00ff00"/><stop offset="1.000" stop-color="#00ff00"/></linearGradient>
</defs>
<g><rect x="151" y="781" width="12.5" height="298" fill="url(#b0)"/><rect x="163" y="781" width="12.5" height="298" fill="url(#b1)"/><rect x="175" y="781" width="12.5" height="298" fill="url(#b2)"/><rect x="187" y="781" width="12.5" height="298" fill="url(#b3)"/><rect x="199" y="781" width="12.5" height="298" fill="url(#b4)"/><rect x="211" y="781" width="12.5" height="298" fill="url(#b5)"/><rect x="223" y="781" width="12.5" height="298" fill="url(#b6)"/><rect x="235" y="781" width="12.5" height="298" fill="url(#b7)"/><rect x="247" y="781" width="12.5" height="298" fill="url(#b8)"/><rect x="259" y="781" width="12.5" height="298" fill="url(#b9)"/><rect x="271" y="781" width="12.5" height="298" fill="url(#b10)"/><rect x="283" y="781" width="12.5" height="298" fill="url(#b11)"/><rect x="295" y="781" width="12.5" height="298" fill="url(#b12)"/><rect x="307" y="781" width="12.5" height="298" fill="url(#b13)"/><rect x="319" y="781" width="12.5" height="298" fill="url(#b14)"/><rect x="331" y="781" width="12.5" height="298" fill="url(#b15)"/><rect x="343" y="781" width="12.5" height="298" fill="url(#b16)"/><rect x="355" y="781" width="12.5" height="298" fill="url(#b17)"/><rect x="367" y="781" width="12.5" height="298" fill="url(#b18)"/><rect x="379" y="781" width="12.5" height="298" fill="url(#b19)"/><rect x="391" y="781" width="12.5" height="298" fill="url(#b20)"/><rect x="403" y="781" width="12.5" height="298" fill="url(#b21)"/><rect x="415" y="781" width="12.5" height="298" fill="url(#b22)"/><rect x="427" y="781" width="12.5" height="298" fill="url(#b23)"/><rect x="439" y="781" width="12.5" height="298" fill="url(#b24)"/><rect x="451" y="781" width="12.5" height="298" fill="url(#b25)"/><rect x="463" y="781" width="12.5" height="298" fill="url(#b26)"/><rect x="475" y="781" width="12.5" height="298" fill="url(#b27)"/><rect x="487" y="781" width="12.5" height="298" fill="url(#b28)"/><rect x="499" y="781" width="12.5" height="298" fill="url(#b29)"/><rect x="511" y="781" width="12.5" height="298" fill="url(#b30)"/><rect x="523" y="781" width="12.5" height="298" fill="url(#b31)"/><rect x="535" y="781" width="12.5" height="298" fill="url(#b32)"/><rect x="547" y="781" width="12.5" height="298" fill="url(#b33)"/><rect x="559" y="781" width="12.5" height="298" fill="url(#b34)"/><rect x="571" y="781" width="12.5" height="298" fill="url(#b35)"/><rect x="583" y="781" width="12.5" height="298" fill="url(#b36)"/><rect x="595" y="781" width="12.5" height="298" fill="url(#b37)"/><rect x="607" y="781" width="12.5" height="298" fill="url(#b38)"/><rect x="619" y="781" width="12.5" height="298" fill="url(#b39)"/><rect x="631" y="781" width="12.5" height="298" fill="url(#b40)"/><rect x="643" y="781" width="12.5" height="298" fill="url(#b41)"/><rect x="655" y="781" width="12.5" height="298" fill="url(#b42)"/><rect x="667" y="781" width="12.5" height="298" fill="url(#b43)"/><rect x="679" y="781" width="12.5" height="298" fill="url(#b44)"/><rect x="691" y="781" width="12.5" height="298" fill="url(#b45)"/><rect x="703" y="781" width="12.5" height="298" fill="url(#b46)"/><rect x="715" y="781" width="12.5" height="298" fill="url(#b47)"/><rect x="727" y="781" width="12.5" height="298" fill="url(#b48)"/><rect x="739" y="781" width="12.5" height="298" fill="url(#b49)"/><rect x="751" y="781" width="12.5" height="298" fill="url(#b50)"/><rect x="763" y="781" width="12.5" height="298" fill="url(#b51)"/><rect x="775" y="781" width="12.5" height="298" fill="url(#b52)"/><rect x="787" y="781" width="12.5" height="298" fill="url(#b53)"/><rect x="799" y="781" width="12.5" height="298" fill="url(#b54)"/><rect x="811" y="781" width="12.5" height="298" fill="url(#b55)"/><rect x="823" y="781" width="12.5" height="298" fill="url(#b56)"/><rect x="835" y="781" width="12.5" height="298" fill="url(#b57)"/><rect x="847" y="781" width="12.5" height="298" fill="url(#b58)"/><rect x="859" y="781" width="12.5" height="298" fill="url(#b59)"/><rect x="871" y="781" width="12.5" height="298" fill="url(#b60)"/><rect x="883" y="781" width="12.5" height="298" fill="url(#b61)"/><rect x="895" y="781" width="12.5" height="298" fill="url(#b62)"/><rect x="907" y="781" width="12.5" height="298" fill="url(#b63)"/><rect x="919" y="781" width="12.5" height="298" fill="url(#b64)"/><rect x="931" y="781" width="12.5" height="298" fill="url(#b65)"/><rect x="943" y="781" width="12.5" height="298" fill="url(#b66)"/><rect x="955" y="781" width="12.5" height="298" fill="url(#b67)"/><rect x="967" y="781" width="12.5" height="298" fill="url(#b68)"/><rect x="979" y="781" width="12.5" height="298" fill="url(#b69)"/><rect x="991" y="781" width="12.5" height="298" fill="url(#b70)"/><rect x="1003" y="781" width="12.5" height="298" fill="url(#b71)"/><rect x="1015" y="781" width="12.5" height="298" fill="url(#b72)"/><rect x="1027" y="781" width="12.5" height="298" fill="url(#b73)"/><rect x="1039" y="781" width="12.5" height="298" fill="url(#b74)"/><rect x="1051" y="781" width="12.5" height="298" fill="url(#b75)"/><rect x="1063" y="781" width="12.5" height="298" fill="url(#b76)"/><rect x="1075" y="781" width="12.5" height="298" fill="url(#b77)"/><rect x="1087" y="781" width="12.5" height="298" fill="url(#b78)"/><rect x="1099" y="781" width="12.5" height="298" fill="url(#b79)"/><rect x="1111" y="781" width="12.5" height="298" fill="url(#b80)"/><rect x="1123" y="781" width="12.5" height="298" fill="url(#b81)"/><rect x="1135" y="781" width="12.5" height="298" fill="url(#b82)"/><rect x="1147" y="781" width="12.5" height="298" fill="url(#b83)"/><rect x="1159" y="781" width="12.5" height="298" fill="url(#b84)"/><rect x="1171" y="781" width="12.5" height="298" fill="url(#b85)"/><rect x="1183" y="781" width="12.5" height="298" fill="url(#b86)"/><rect x="1195" y="781" width="12.5" height="298" fill="url(#b87)"/><rect x="1207" y="781" width="12.5" height="298" fill="url(#b88)"/><rect x="1219" y="781" width="12.5" height="298" fill="url(#b89)"/><rect x="1231" y="781" width="12.5" height="298" fill="url(#b90)"/><rect x="1243" y="781" width="12.5" height="298" fill="url(#b91)"/><rect x="1255" y="781" width="12.5" height="298" fill="url(#b92)"/><rect x="1267" y="781" width="12.5" height="298" fill="url(#b93)"/><rect x="1279" y="781" width="12.5" height="298" fill="url(#b94)"/><rect x="1291" y="781" width="12.5" height="298" fill="url(#b95)"/><rect x="1303" y="781" width="12.5" height="298" fill="url(#b96)"/><rect x="1315" y="781" width="12.5" height="298" fill="url(#b97)"/><rect x="1327" y="781" width="12.5" height="298" fill="url(#b98)"/><rect x="1339" y="781" width="12.5" height="298" fill="url(#b99)"/><rect x="1351" y="781" width="12.5" height="298" fill="url(#b100)"/><rect x="1363" y="781" width="12.5" height="298" fill="url(#b101)"/><rect x="1375" y="781" width="12.5" height="298" fill="url(#b102)"/><rect x="1387" y="781" width="12.5" height="298" fill="url(#b103)"/><rect x="1399" y="781" width="12.5" height="298" fill="url(#b104)"/><rect x="1411" y="781" width="12.5" height="298" fill="url(#b105)"/><rect x="1423" y="781" width="12.5" height="298" fill="url(#b106)"/><rect x="1435" y="781" width="12.5" height="298" fill="url(#b107)"/><rect x="1447" y="781" width="12.5" height="298" fill="url(#b108)"/><rect x="1459" y="781" width="12.5" height="298" fill="url(#b109)"/><rect x="1471" y="781" width="12.5" height="298" fill="url(#b110)"/><rect x="1483" y="781" width="12.5" height="298" fill="url(#b111)"/><rect x="1495" y="781" width="12.5" height="298" fill="url(#b112)"/><rect x="1507" y="781" width="12.5" height="298" fill="url(#b113)"/><rect x="1519" y="781" width="12.5" height="298" fill="url(#b114)"/><rect x="1531" y="781" width="12.5" height="298" fill="url(#b115)"/><rect x="1543" y="781" width="12.5" height="298" fill="url(#b116)"/><rect x="1555" y="781" width="12.5" height="298" fill="url(#b117)"/><rect x="1567" y="781" width="12.5" height="298" fill="url(#b118)"/><rect x="1579" y="781" width="12.5" height="298" fill="url(#b119)"/><rect x="1591" y="781" width="12.5" height="298" fill="url(#b120)"/><rect x="1603" y="781" width="12.5" height="298" fill="url(#b121)"/><rect x="1615" y="781" width="12.5" height="298" fill="url(#b122)"/><rect x="1627" y="781" width="12.5" height="298" fill="url(#b123)"/><rect x="1639" y="781" width="12.5" height="298" fill="url(#b124)"/><rect x="1651" y="781" width="12.5" height="298" fill="url(#b125)"/><rect x="1663" y="781" width="12.5" height="298" fill="url(#b126)"/><rect x="1675" y="781" width="12.5" height="298" fill="url(#b127)"/><rect x="1687" y="781" width="12.5" height="298" fill="url(#b128)"/><rect x="1699" y="781" width="12.5" height="298" fill="url(#b129)"/><rect x="1711" y="781" width="12.5" height="298" fill="url(#b130)"/><rect x="1723" y="781" width="12.5" height="298" fill="url(#b131)"/><rect x="1735" y="781" width="12.5" height="298" fill="url(#b132)"/><rect x="1747" y="781" width="12.5" height="298" fill="url(#b133)"/><rect x="1759" y="781" width="12.5" height="298" fill="url(#b134)"/><rect x="1771" y="781" width="12.5" height="298" fill="url(#b135)"/><rect x="1783" y="781" width="12.5" height="298" fill="url(#b136)"/><rect x="1795" y="781" width="12.5" height="298" fill="url(#b137)"/><rect x="1807" y="781" width="12.5" height="298" fill="url(#b138)"/><rect x="1819" y="781" width="12.5" height="298" fill="url(#b139)"/><rect x="1831" y="781" width="12.5" height="298" fill="url(#b140)"/><rect x="1843" y="781" width="12.5" height="298" fill="url(#b141)"/><rect x="1855" y="781" width="12.5" height="298" fill="url(#b142)"/><rect x="1867" y="781" width="12.5" height="298" fill="url(#b143)"/><rect x="1879" y="781" width="12.5" height="298" fill="url(#b144)"/><rect x="1891" y="781" width="12.5" height="298" fill="url(#b145)"/><rect x="1903" y="781" width="12.5" height="298" fill="url(#b146)"/><rect x="1915" y="781" width="12.5" height="298" fill="url(#b147)"/><rect x="1927" y="781" width="12.5" height="298" fill="url(#b148)"/><rect x="1939" y="781" width="11.5" height="298" fill="url(#b149)"/></g>
<g stroke="#000" stroke-width="1.4"><line x1="1006.5" y1="781" x2="1006.5" y2="1079"/><line x1="1039" y1="781" x2="1039" y2="1079"/><line x1="1604" y1="781" x2="1604" y2="1079"/><line x1="1636" y1="781" x2="1636" y2="1079"/></g>
<path d="M151,756.0 154,755.9 157,755.5 160,756.0 163,756.7 166,756.9 169,755.5 172,754.2 175,754.1 178,752.9 181,752.5 184,752.0 187,752.1 190,752.5 193,752.2 196,752.4 199,752.8 202,753.8 205,754.2 208,754.9 211,755.4 214,754.8 217,754.9 220,754.5 223,753.7 226,754.6 229,754.2 232,754.6 235,754.6 238,754.0 241,754.9 244,755.7 247,755.6 250,754.2 253,753.9 256,754.4 259,754.8 262,755.5 265,755.1 268,754.6 271,755.3 274,754.3 277,753.3 280,753.5 283,753.8 286,754.6 289,754.6 292,754.7 295,754.3 298,754.5 301,755.0 304,754.8 307,754.1 310,754.4 313,754.9 316,753.9 319,753.5 322,753.4 325,752.6 328,752.5 331,752.4 334,752.4 337,753.0 340,753.4 343,753.8 346,754.4 349,755.2 352,755.8 355,756.8 358,756.8 361,756.8 364,755.6 367,755.8 370,754.9 373,753.9 376,754.5 379,753.5 382,753.1 385,754.6 388,754.6 391,754.0 394,754.7 397,755.4 400,753.5 403,752.7 406,752.0 409,752.8 412,753.3 415,753.3 418,753.7 421,753.1 424,754.0 427,754.4 430,753.3 433,752.8 436,753.5 439,753.8 442,753.5 445,754.5 448,754.5 451,755.1 454,755.0 457,755.6 460,754.8 463,755.0 466,754.7 469,753.4 472,753.6 475,753.7 478,753.2 481,754.1 484,753.7 487,753.2 490,754.0 493,755.2 496,754.3 499,755.4 502,754.4 505,754.5 508,754.5 511,754.8 514,756.0 517,754.6 520,754.7 523,753.7 526,754.8 529,754.0 532,753.5 535,753.6 538,754.4 541,754.4 544,753.1 547,753.6 550,753.1 553,753.3 556,753.5 559,753.8 562,754.0 565,754.5 568,755.2 571,755.8 574,755.5 577,755.7 580,755.0 583,754.6 586,753.7 589,753.7 592,753.2 595,754.4 598,754.4 601,754.5 604,754.7 607,755.5 610,754.7 613,754.2 616,754.4 619,753.5 622,753.4 625,754.0 628,752.6 631,753.8 634,754.3 637,754.4 640,754.1 643,753.9 646,753.5 649,754.1 652,753.3 655,754.2 658,753.2 661,753.4 664,753.3 667,755.1 670,755.1 673,755.0 676,755.1 679,755.2 682,754.8 685,754.6 688,754.1 691,753.4 694,753.5 697,753.1 700,752.6 703,753.0 706,752.6 709,753.3 712,753.3 715,754.0 718,754.3 721,754.4 724,753.8 727,752.9 730,753.2 733,755.0 736,754.4 739,754.6 742,754.8 745,755.3 748,755.8 751,754.8 754,755.1 757,753.9 760,752.4 763,752.6 766,752.0 769,752.1 772,753.5 775,753.7 778,755.0 781,754.9 784,756.1 787,755.4 790,755.4 793,754.8 796,754.6 799,755.0 802,754.8 805,754.0 808,754.0 811,754.2 814,754.2 817,756.1 820,756.7 823,756.4 826,754.5 829,754.3 832,754.3 835,753.9 838,753.8 841,753.1 844,752.2 847,753.5 850,754.6 853,754.9 856,755.3 859,757.3 862,757.1 865,757.3 868,756.7 871,755.9 874,755.3 877,756.7 880,755.4 883,754.6 886,753.1 889,753.0 892,752.5 895,752.6 898,754.5 901,754.9 904,755.0 907,754.4 910,755.3 913,755.9 916,755.9 919,757.0 922,756.5 925,756.1 928,756.5 931,756.7 934,756.7 937,755.3 940,754.7 943,755.7 946,754.4 949,753.9 952,753.5 955,754.3 958,755.4 961,755.5 964,755.8 967,756.3 970,755.3 973,755.3 976,755.2 979,757.0 982,756.2 985,756.0 988,755.3 991,753.6 994,753.5 997,753.0 1000,752.9 1003,752.7 1006,752.8 1009,753.6 1012,754.4 1015,754.5 1018,755.0 1021,754.0 1024,754.7 1027,754.7 1030,755.9 1033,756.1 1036,756.3 1039,755.8 1042,755.0 1045,754.7 1048,754.1 1051,754.0 1054,755.7 1057,755.8 1060,756.2 1063,756.7 1066,756.7 1069,756.5 1072,756.1 1075,756.5 1078,755.6 1081,755.8 1084,755.3 1087,754.2 1090,754.7 1093,754.8 1096,754.5 1099,754.3 1102,754.2 1105,755.1 1108,755.8 1111,756.8 1114,756.1 1117,756.9 1120,757.2 1123,756.4 1126,756.4 1129,755.9 1132,754.2 1135,754.7 1138,755.0 1141,755.7 1144,755.5 1147,755.7 1150,755.5 1153,755.7 1156,757.7 1159,757.8 1162,757.8 1165,757.3 1168,756.2 1171,755.9 1174,754.1 1177,753.6 1180,752.9 1183,753.1 1186,754.4 1189,754.4 1192,754.9 1195,754.9 1198,755.1 1201,754.7 1204,756.1 1207,756.2 1210,756.1 1213,755.9 1216,754.0 1219,754.3 1222,755.1 1225,755.8 1228,754.7 1231,753.8 1234,753.8 1237,754.4 1240,753.1 1243,753.0 1246,753.3 1249,755.0 1252,755.7 1255,756.2 1258,755.7 1261,755.7 1264,754.8 1267,755.3 1270,755.7 1273,755.8 1276,755.8 1279,754.8 1282,755.0 1285,753.3 1288,752.9 1291,752.4 1294,753.4 1297,755.8 1300,756.4 1303,755.8 1306,755.6 1309,756.4 1312,757.1 1315,755.9 1318,755.9 1321,755.4 1324,755.3 1327,754.7 1330,753.7 1333,753.3 1336,752.6 1339,752.1 1342,753.0 1345,754.0 1348,755.2 1351,755.0 1354,754.8 1357,753.6 1360,754.5 1363,754.1 1366,755.0 1369,753.9 1372,753.2 1375,752.8 1378,752.8 1381,753.0 1384,754.6 1387,754.8 1390,754.7 1393,754.4 1396,755.2 1399,756.1 1402,754.3 1405,754.3 1408,754.2 1411,753.3 1414,753.2 1417,752.3 1420,752.3 1423,753.0 1426,753.3 1429,754.4 1432,753.8 1435,754.8 1438,756.0 1441,754.6 1444,754.1 1447,755.4 1450,755.4 1453,754.9 1456,754.5 1459,754.0 1462,754.5 1465,753.8 1468,753.0 1471,753.4 1474,753.0 1477,754.5 1480,754.0 1483,756.2 1486,756.5 1489,756.2 1492,756.4 1495,756.4 1498,755.0 1501,753.5 1504,753.1 1507,753.0 1510,753.3 1513,753.4 1516,753.1 1519,752.4 1522,752.8 1525,752.3 1528,751.4 1531,752.4 1534,752.2 1537,753.6 1540,753.5 1543,753.3 1546,754.0 1549,756.0 1552,755.3 1555,753.5 1558,753.0 1561,754.4 1564,754.4 1567,754.1 1570,754.2 1573,753.6 1576,753.1 1579,754.0 1582,754.6 1585,755.2 1588,754.0 1591,753.1 1594,752.9 1597,751.6 1600,753.1 1603,753.0 1606,752.1 1609,753.5 1612,753.5 1615,752.8 1618,753.6 1621,754.4 1624,753.5 1627,753.2 1630,752.1 1633,752.2 1636,751.4 1639,752.9 1642,752.9 1645,751.4 1648,751.2 1651,750.5 1654,751.5 1657,752.2 1660,752.9 1663,754.0 1666,754.3 1669,753.5 1672,752.9 1675,753.1 1678,753.6 1681,753.7 1684,754.3 1687,753.7 1690,753.4 1693,753.8 1696,753.3 1699,753.8 1702,753.4 1705,751.6 1708,751.4 1711,751.4 1714,751.7 1717,752.6 1720,752.6 1723,753.2 1726,752.8 1729,752.8 1732,751.4 1735,751.9 1738,752.9 1741,754.1 1744,754.3 1747,753.4 1750,753.1 1753,752.3 1756,752.3 1759,752.4 1762,752.5 1765,752.5 1768,751.6 1771,750.3 1774,749.8 1777,749.9 1780,751.0 1783,750.5 1786,750.8 1789,751.2 1792,750.6 1795,751.2 1798,750.8 1801,752.3 1804,753.4 1807,753.2 1810,752.3 1813,752.5 1816,752.7 1819,752.1 1822,752.1 1825,752.5 1828,753.3 1831,752.9 1834,751.5 1837,751.4 1840,750.3 1843,749.5 1846,748.7 1849,749.1 1852,748.8 1855,748.5 1858,748.9 1861,749.8 1864,751.1 1867,752.1 1870,752.0 1873,752.1 1876,751.2 1879,751.2 1882,750.1 1885,749.9 1888,749.6 1891,749.9 1894,748.8 1897,749.7 1900,749.9 1903,750.4 1906,749.1 1909,750.3 1912,750.5 1915,751.1 1918,749.9 1921,748.2 1924,747.8 1927,747.7 1930,747.7 1933,747.7 1936,747.6 1939,747.6 1942,747.6 1945,747.5 1948,747.5" fill="none" stroke="#000" stroke-width="4.4" stroke-linejoin="round" shape-rendering="geometricPrecision"/>
<path d="M151.0,757.9l1,-1.9 1,-4.1 1,9.2 1,-7.7 1,2.8 1,-0.0 1,4.1 1,-5.3 1,3.9 1,-4.6 1,5.5 1,-5.1 1,0.8 1,6.4 1,-4.0 1,-1.1 1,5.9 1,-6.0 1,-3.8 1,3.6 1,-5.4 1,6.0 1,0.4 1,-4.8 1,-0.2 1,1.2 1,-0.6 1,-2.7 1,4.5 1,-7.9 1,4.4 1,-0.3 1,0.4 1,1.9 1,-4.6 1,5.2 1,-1.6 1,-1.5 1,-2.0 1,0.6 1,4.4 1,-4.2 1,3.0 1,3.5 1,-0.7 1,1.9 1,-5.1 1,-2.4 1,6.9 1,-1.6 1,1.8 1,-3.0 1,3.7 1,-1.0 1,-0.0 1,-0.6 1,0.0 1,0.2 1,-0.3 1,2.3 1,-4.4 1,6.4 1,-5.7 1,2.8 1,-3.1 1,-0.0 1,6.9 1,-7.1 1,-3.1 1,1.9 1,0.2 1,6.7 1,-5.5 1,2.6 1,-5.1 1,3.6 1,0.7 1,3.1 1,-6.3 1,3.5 1,-1.0 1,-3.5 1,2.8 1,-0.8 1,-6.3 1,8.2 1,-0.3 1,-2.2 1,-2.2 1,7.9 1,-3.0 1,2.0 1,1.6 1,-5.3 1,4.1 1,-3.5 1,0.7 1,-0.7 1,-0.6 1,3.0 1,-3.1 1,-0.6 1,0.7 1,1.4 1,-3.7 1,1.2 1,1.5 1,-1.5 1,1.2 1,-1.0 1,7.6 1,-2.3 1,-2.4 1,-1.3 1,5.9 1,-5.1 1,-1.5 1,1.6 1,0.2 1,3.2 1,-4.2 1,6.0 1,-9.2 1,4.0 1,-4.5 1,7.0 1,-5.6 1,0.1 1,3.2 1,0.6 1,-6.2 1,2.3 1,-3.5 1,4.9 1,0.1 1,-0.6 1,-1.0 1,0.8 1,-1.4 1,4.2 1,2.6 1,-9.6 1,4.8 1,-1.0 1,2.1 1,-3.4 1,2.3 1,-2.0 1,5.0 1,-1.9 1,-0.8 1,1.3 1,-1.7 1,-3.7 1,6.0 1,-1.4 1,-1.5 1,4.0 1,0.4 1,-6.9 1,1.1 1,7.2 1,-1.0 1,-6.1 1,-1.5 1,0.7 1,0.7 1,-3.0 1,4.5 1,-4.0 1,0.4 1,5.7 1,-4.5 1,1.2 1,1.4 1,1.1 1,-3.4 1,1.2 1,-2.4 1,7.0 1,-3.3 1,-4.6 1,3.0 1,2.0 1,-0.6 1,4.4 1,-0.9 1,-5.1 1,1.1 1,-3.9 1,4.8 1,0.2 1,7.1 1,-7.0 1,-5.7 1,4.4 1,2.7 1,-4.0 1,1.8 1,0.9 1,2.4 1,-1.2 1,-1.6 1,5.0 1,-3.7 1,0.1 1,-2.5 1,1.7 1,4.0 1,-6.4 1,4.3 1,2.0 1,-4.0 1,1.9 1,-3.7 1,6.8 1,-0.5 1,-2.8 1,-6.2 1,2.0 1,5.3 1,1.4 1,-3.7 1,2.7 1,-4.9 1,0.8 1,0.3 1,0.8 1,-5.8 1,7.1 1,0.8 1,-6.7 1,-0.3 1,5.8 1,-3.3 1,-4.3 1,9.0 1,-1.7 1,-2.3 1,7.2 1,-5.1 1,-2.4 1,2.5 1,-3.2 1,1.4 1,3.3 1,-3.5 1,0.1 1,5.1 1,-3.6 1,-0.3 1,-0.1 1,-0.0 1,2.3 1,-4.5 1,5.8 1,-7.7 1,2.0 1,-3.1 1,3.0 1,2.8 1,2.9 1,-5.8 1,1.4 1,-0.8 1,-1.4 1,-0.8 1,2.9 1,-5.1 1,5.2 1,-0.8 1,-1.1 1,-0.3 1,-1.2 1,9.5 1,-8.8 1,7.0 1,-2.6 1,-2.7 1,-2.2 1,5.7 1,1.8 1,-7.5 1,2.3 1,3.9 1,-2.0 1,5.3 1,-7.5 1,2.9 1,-5.9 1,10.0 1,-7.5 1,-3.7 1,6.1 1,-0.0 1,5.8 1,-6.4 1,0.8 1,1.7 1,3.5 1,-4.4 1,3.1 1,-1.7 1,-2.6 1,1.7 1,0.1 1,-2.7 1,5.8 1,-7.8 1,7.1 1,-0.2 1,-3.1 1,-2.0 1,1.4 1,2.0 1,0.0 1,-1.4 1,1.5 1,-4.0 1,1.8 1,-4.8 1,7.2 1,-1.9 1,-1.9 1,4.5 1,-1.4 1,-10.3 1,8.2 1,-3.3 1,6.9 1,3.9 1,-8.9 1,1.8 1,-1.5 1,1.2 1,1.4 1,1.4 1,-5.9 1,7.9 1,-6.9 1,3.6 1,3.4 1,-1.3 1,-4.9 1,0.1 1,0.7 1,1.8 1,3.8 1,-7.2 1,4.5 1,0.2 1,-0.0 1,-0.4 1,3.0 1,-2.8 1,0.9 1,-0.8 1,3.6 1,-10.4 1,9.1 1,-3.5 1,0.2 1,-1.9 1,-3.3 1,4.4 1,-1.7 1,2.7 1,-5.1 1,8.5 1,-3.3 1,-2.2 1,-1.4 1,-0.5 1,-0.7 1,2.7 1,1.7 1,-0.8 1,-4.0 1,3.2 1,-1.8 1,2.4 1,4.8 1,-4.0 1,-2.1 1,-3.2 1,1.1 1,-1.0 1,7.0 1,-4.2 1,2.2 1,-2.1 1,1.4 1,3.0 1,-5.5 1,0.9 1,-1.2 1,5.2 1,-6.0 1,-0.6 1,-0.6 1,0.2 1,5.1 1,6.4 1,-9.8 1,5.0 1,-2.3 1,-3.4 1,2.6 1,-0.7 1,-0.6 1,7.7 1,-10.1 1,6.3 1,-0.2 1,-3.0 1,3.2 1,2.0 1,-1.3 1,0.5 1,0.9 1,-8.3 1,9.7 1,2.7 1,-4.1 1,0.6 1,-6.6 1,3.2 1,-2.1 1,0.5 1,4.4 1,-5.1 1,1.6 1,-5.0 1,4.5 1,0.2 1,-2.2 1,0.4 1,6.7 1,-8.6 1,0.3 1,0.3 1,6.1 1,2.4 1,-4.2 1,-3.2 1,1.1 1,4.2 1,-5.8 1,7.0 1,-0.1 1,-3.4 1,1.7 1,-0.1 1,2.3 1,-7.1 1,6.8 1,-4.6 1,-1.0 1,1.8 1,-0.4 1,-2.5 1,-2.4 1,2.0 1,7.4 1,0.9 1,-4.0 1,1.3 1,-5.1 1,1.5 1,0.8 1,-4.0 1,0.7 1,2.9 1,-0.8 1,-2.4 1,3.7 1,-2.5 1,4.6 1,-2.9 1,-0.6 1,1.3 1,-0.6 1,-1.2 1,1.7 1,2.9 1,-0.8 1,1.5 1,-8.8 1,4.1 1,0.5 1,1.3 1,-2.2 1,-0.2 1,4.4 1,-2.8 1,-3.4 1,6.7 1,-0.3 1,-4.7 1,4.0 1,-4.9 1,4.9 1,-3.0 1,-1.1 1,1.2 1,-1.4 1,2.0 1,-0.1 1,-0.3 1,-1.5 1,-8.6 1,10.1 1,-5.5 1,6.1 1,3.2 1,-1.4 1,-1.8 1,0.4 1,0.2 1,-1.3 1,-0.3 1,-0.8 1,5.6 1,-3.0 1,2.8 1,-3.1 1,1.0 1,-0.9 1,1.5 1,1.0 1,-1.8 1,-2.3 1,-0.2 1,6.3 1,-5.3 1,-0.5 1,4.7 1,-1.1 1,-2.4 1,-2.5 1,7.9 1,-5.4 1,0.3 1,-2.1 1,-3.8 1,0.2 1,4.7 1,0.1 1,-2.2 1,-2.4 1,-0.6 1,3.2 1,-3.3 1,6.9 1,0.1 1,5.0 1,-5.3 1,-3.9 1,-0.5 1,-7.4 1,7.9 1,1.5 1,3.5 1,-0.8 1,-0.7 1,-0.7 1,1.8 1,2.7 1,-6.9 1,1.1 1,-2.1 1,8.4 1,-2.0 1,-1.3 1,-6.1 1,3.3 1,-1.4 1,1.5 1,-0.9 1,2.2 1,-1.7 1,4.3 1,-1.7 1,-1.6 1,-0.0 1,-1.2 1,3.7 1,-2.8 1,1.7 1,-1.5 1,-3.4 1,6.7 1,-5.2 1,5.1 1,-0.2 1,-5.6 1,1.8 1,1.4 1,-1.3 1,-1.8 1,5.6 1,-2.8 1,1.9 1,-3.0 1,1.9 1,-3.2 1,1.6 1,0.7 1,-1.7 1,-1.0 1,-1.6 1,3.2 1,0.5 1,-1.4 1,-2.3 1,3.7 1,5.4 1,-7.7 1,2.6 1,0.6 1,-8.1 1,7.7 1,-2.0 1,5.6 1,-4.6 1,-1.1 1,2.4 1,1.0 1,-2.1 1,1.5 1,-3.1 1,3.1 1,3.4 1,2.9 1,-3.6 1,-1.3 1,2.9 1,-0.0 1,1.1 1,-2.1 1,-3.2 1,0.7 1,-0.9 1,0.8 1,-0.1 1,-2.6 1,-4.0 1,4.4 1,-3.9 1,6.3 1,-0.6 1,-5.1 1,6.7 1,0.1 1,-1.9 1,4.5 1,0.1 1,-8.6 1,6.1 1,-1.3 1,-0.4 1,1.2 1,-4.1 1,1.3 1,0.2 1,0.2 1,1.9 1,-3.1 1,1.1 1,4.1 1,-1.8 1,1.4 1,-6.8 1,2.3 1,-0.0 1,1.9 1,-2.1 1,4.1 1,-2.7 1,0.4 1,-0.2 1,2.1 1,-3.7 1,4.3 1,-2.3 1,-0.4 1,-0.3 1,1.0 1,1.2 1,-0.3 1,-1.3 1,0.6 1,-2.5 1,3.2 1,-2.8 1,-5.3 1,9.5 1,-3.1 1,-2.7 1,2.6 1,-2.1 1,8.9 1,-4.2 1,-5.4 1,5.7 1,-1.7 1,7.3 1,-8.1 1,-3.3 1,6.0 1,-0.9 1,-0.3 1,-4.6 1,7.3 1,3.5 1,-10.8 1,8.8 1,-5.2 1,8.0 1,-5.6 1,-1.9 1,2.6 1,-1.1 1,-3.0 1,4.1 1,-2.6 1,-3.6 1,9.9 1,-7.1 1,-1.3 1,2.4 1,-5.3 1,-0.4 1,2.5 1,-0.7 1,1.8 1,2.9 1,-4.6 1,2.7 1,0.1 1,-5.0 1,3.6 1,-3.3 1,5.9 1,-0.8 1,-0.6 1,-3.5 1,3.8 1,-1.8 1,4.1 1,-2.3 1,-2.0 1,5.0 1,-0.7 1,-3.7 1,4.5 1,-4.2 1,1.0 1,1.2 1,-2.5 1,1.2 1,1.2 1,4.3 1,-0.1 1,-4.4 1,5.4 1,-4.5 1,1.9 1,1.1 1,-1.6 1,5.7 1,-5.4 1,-4.9 1,6.7 1,-5.0 1,0.6 1,-7.2 1,11.8 1,-1.2 1,0.3 1,0.4 1,1.7 1,-4.6 1,2.4 1,-5.6 1,1.0 1,3.3 1,-2.1 1,-4.6 1,5.0 1,-0.7 1,-1.8 1,2.9 1,-2.6 1,-3.6 1,0.8 1,8.3 1,-9.4 1,4.0 1,1.5 1,0.1 1,-5.0 1,2.7 1,1.7 1,2.0 1,-3.4 1,-1.1 1,6.4 1,0.6 1,-2.6 1,-2.7 1,2.8 1,-0.6 1,1.6 1,-5.0 1,4.0 1,-1.2 1,-3.3 1,3.7 1,-0.4 1,-1.5 1,2.4 1,-5.3 1,4.2 1,1.1 1,-0.4 1,2.7 1,-5.1 1,-1.2 1,4.8 1,0.3 1,5.1 1,-4.7 1,-4.3 1,4.7 1,-5.0 1,-2.2 1,11.3 1,-7.3 1,0.5 1,-0.6 1,3.6 1,-4.3 1,1.9 1,-6.4 1,-0.7 1,8.2 1,0.1 1,-3.1 1,-0.5 1,-0.4 1,-2.6 1,6.2 1,-2.5 1,-0.3 1,0.2 1,1.7 1,-1.1 1,0.4 1,-5.4 1,5.8 1,5.0 1,-7.8 1,1.1 1,3.0 1,0.7 1,-1.2 1,-7.1 1,5.8 1,-4.7 1,1.0 1,4.4 1,-2.3 1,3.4 1,6.0 1,-6.3 1,0.7 1,-4.3 1,0.7 1,-1.2 1,2.2 1,-2.1 1,1.1 1,1.4 1,-2.0 1,-1.5 1,0.2 1,4.9 1,-1.2 1,2.5 1,-0.6 1,-4.0 1,3.1 1,-6.4 1,10.2 1,-2.8 1,-4.5 1,-2.6 1,3.8 1,-5.9 1,4.0 1,5.1 1,-2.1 1,-1.3 1,4.0 1,-5.6 1,4.3 1,-2.9 1,-0.6 1,3.6 1,-3.5 1,8.1 1,-7.3 1,7.3 1,-8.3 1,4.7 1,-4.9 1,-0.7 1,3.2 1,1.8 1,-5.2 1,6.9 1,-5.6 1,3.0 1,0.4 1,0.2 1,-6.9 1,10.0 1,-3.7 1,-2.3 1,-2.1 1,-2.5 1,1.4 1,5.2 1,-3.2 1,-2.5 1,2.0 1,6.3 1,-5.6 1,-0.6 1,5.7 1,-2.8 1,-1.1 1,-1.9 1,-2.9 1,0.8 1,1.9 1,0.7 1,1.3 1,0.3 1,-0.5 1,0.0 1,-3.1 1,-2.7 1,4.8 1,-0.2 1,0.4 1,1.4 1,-2.9 1,1.2 1,3.5 1,-0.3 1,-2.6 1,3.5 1,-1.7 1,-2.0 1,2.9 1,5.3 1,-6.9 1,5.0 1,1.0 1,-0.8 1,-6.3 1,7.4 1,-5.0 1,-1.2 1,-0.4 1,2.4 1,-2.0 1,-1.1 1,3.3 1,-5.7 1,-0.7 1,5.6 1,-0.4 1,1.5 1,-6.1 1,6.0 1,-1.4 1,4.1 1,-8.6 1,4.0 1,-1.4 1,-3.6 1,2.1 1,5.7 1,-4.6 1,-0.5 1,4.1 1,0.5 1,0.2 1,-5.1 1,3.0 1,3.3 1,-3.9 1,-0.2 1,4.4 1,2.1 1,-7.6 1,-4.1 1,3.2 1,1.2 1,2.0 1,2.1 1,-3.1 1,-1.4 1,2.1 1,-3.4 1,2.5 1,-1.5 1,8.7 1,-6.0 1,-5.1 1,-1.3 1,1.2 1,-2.6 1,2.1 1,0.3 1,4.0 1,-3.5 1,-1.1 1,-1.5 1,0.8 1,4.0 1,-0.3 1,3.9 1,-5.3 1,5.0 1,-2.3 1,-0.3 1,-5.6 1,2.9 1,4.9 1,1.8 1,-2.8 1,1.5 1,-3.5 1,0.1 1,-1.3 1,4.7 1,-0.6 1,-1.0 1,-0.7 1,2.2 1,-0.8 1,-2.7 1,6.8 1,-4.3 1,-0.2 1,4.5 1,-1.4 1,-3.6 1,1.1 1,-4.8 1,0.2 1,-4.2 1,9.5 1,-8.5 1,8.1 1,-3.7 1,-0.9 1,2.6 1,1.8 1,0.6 1,2.8 1,-4.0 1,0.8 1,-3.4 1,2.6 1,-2.0 1,-1.8 1,1.0 1,0.2 1,0.8 1,0.5 1,-2.0 1,-1.6 1,4.2 1,-7.1 1,3.1 1,6.2 1,-12.3 1,5.4 1,4.2 1,-6.4 1,11.6 1,-13.6 1,12.3 1,-0.3 1,-1.6 1,-2.0 1,2.0 1,-3.4 1,4.7 1,-5.6 1,2.3 1,3.3 1,-5.5 1,2.0 1,1.3 1,-4.8 1,7.0 1,-2.7 1,-5.3 1,4.6 1,-1.9 1,0.5 1,2.2 1,-2.2 1,4.6 1,-4.8 1,5.0 1,-3.4 1,3.1 1,-3.9 1,-0.3 1,-2.1 1,4.5 1,1.1 1,3.0 1,-1.8 1,-3.3 1,-2.3 1,1.4 1,-2.1 1,4.2 1,-1.0 1,-4.7 1,-0.1 1,5.5 1,-2.1 1,-1.3 1,4.0 1,-3.9 1,1.5 1,0.1 1,-4.1 1,8.1 1,-5.5 1,1.6 1,-0.9 1,4.2 1,-2.6 1,0.3 1,-4.6 1,5.6 1,-4.2 1,5.0 1,0.1 1,-0.8 1,6.3 1,-4.4 1,-0.1 1,-2.0 1,-1.3 1,3.5 1,0.4 1,-7.1 1,6.5 1,-1.5 1,1.5 1,-1.6 1,-4.9 1,-0.6 1,7.9 1,-3.7 1,-5.6 1,4.8 1,-1.9 1,-4.3 1,-1.6 1,1.9 1,5.3 1,-0.9 1,-1.3 1,1.5 1,0.6 1,-7.7 1,5.2 1,-1.1 1,-0.7 1,1.8 1,1.7 1,0.2 1,-2.8 1,3.4 1,7.0 1,-8.6 1,-1.4 1,4.9 1,1.0 1,-0.6 1,-4.6 1,5.2 1,-5.4 1,-1.0 1,1.9 1,1.9 1,2.3 1,-0.3 1,-2.2 1,2.8 1,-2.5 1,2.5 1,-5.7 1,-0.5 1,5.9 1,-6.5 1,2.4 1,0.0 1,-0.5 1,0.2 1,4.4 1,-10.7 1,10.1 1,3.8 1,-6.7 1,-0.3 1,2.2 1,3.4 1,-7.9 1,4.1 1,-0.2 1,2.7 1,-0.8 1,0.7 1,-3.1 1,1.4 1,-2.2 1,0.4 1,1.3 1,-0.5 1,-2.3 1,7.9 1,-4.7 1,-3.1 1,7.4 1,-5.1 1,2.3 1,-1.8 1,0.5 1,-0.7 1,-2.1 1,2.2 1,5.3 1,-12.5 1,7.3 1,0.8 1,-4.8 1,-0.9 1,10.0 1,-7.5 1,7.1 1,-4.6 1,-1.8 1,1.1 1,0.7 1,1.2 1,-2.0 1,-0.9 1,1.3 1,2.9 1,-0.9 1,-5.2 1,0.9 1,3.0 1,-2.3 1,1.2 1,-1.5 1,1.6 1,1.6 1,1.8 1,-2.5 1,6.4 1,-5.9 1,9.6 1,-5.5 1,-1.4 1,-3.5 1,-7.1 1,6.7 1,1.6 1,4.4 1,-8.8 1,9.4 1,-5.4 1,3.1 1,-9.3 1,7.3 1,-1.4 1,2.8 1,-2.0 1,-3.6 1,6.5 1,-1.6 1,-0.3 1,0.6 1,0.2 1,-2.9 1,-3.8 1,0.2 1,6.9 1,-1.3 1,-2.0 1,-1.2 1,1.4 1,-1.2 1,-1.4 1,-0.9 1,8.7 1,-5.3 1,-2.2 1,-2.6 1,2.3 1,4.9 1,0.1 1,-2.8 1,0.0 1,-0.6 1,-1.0 1,7.1 1,-2.0 1,6.2 1,-9.5 1,2.2 1,2.5 1,-3.2 1,-3.0 1,1.4 1,2.9 1,0.7 1,-1.2 1,2.9 1,0.0 1,-2.2 1,-1.4 1,-1.3 1,2.1 1,0.2 1,-3.0 1,0.4 1,-2.1 1,-2.8 1,2.1 1,4.3 1,-1.2 1,3.6 1,-4.4 1,2.1 1,2.1 1,-1.1 1,-5.0 1,0.6 1,1.0 1,-3.0 1,3.5 1,1.1 1,-3.9 1,7.2 1,-6.6 1,0.6 1,0.2 1,-2.1 1,3.1 1,-0.9 1,4.4 1,-3.9 1,-0.3 1,-1.8 1,-2.6 1,2.8 1,-0.9 1,4.6 1,-2.3 1,5.3 1,-2.2 1,0.3 1,-2.2 1,0.2 1,0.9 1,-0.4 1,-3.3 1,3.7 1,6.8 1,-8.0 1,0.2 1,-0.5 1,-1.4 1,7.3 1,-3.7 1,0.6 1,3.3 1,1.1 1,-9.5 1,5.0 1,-1.3 1,-0.7 1,1.1 1,-0.8 1,4.5 1,-2.2 1,-1.1 1,2.4 1,-0.6 1,-1.8 1,-0.5 1,3.4 1,-3.5 1,-1.0 1,-2.5 1,1.5 1,-2.4 1,2.7 1,-0.1 1,-5.8 1,6.8 1,2.0 1,-1.7 1,-2.8 1,6.1 1,-5.1 1,-1.3 1,0.5 1,3.3 1,2.6 1,0.4 1,-3.4 1,-4.1 1,0.9 1,-0.7 1,1.6 1,-4.4 1,5.5 1,0.9 1,-2.6 1,1.3 1,-3.6 1,-0.7 1,2.7 1,4.9 1,0.3 1,-4.8 1,5.3 1,-4.6 1,3.9 1,-1.7 1,-1.9 1,3.0 1,-4.3 1,-0.6 1,-1.4 1,4.1 1,-1.2 1,0.2 1,-0.8 1,5.7 1,-5.2 1,0.2 1,5.2 1,0.6 1,-3.9 1,-6.4 1,3.8 1,2.9 1,-1.5 1,4.2 1,-8.7 1,5.5 1,-4.0 1,5.2 1,-3.7 1,3.3 1,-5.0 1,-2.6 1,0.9 1,1.3 1,-0.8 1,7.4 1,0.7 1,-3.1 1,-3.8 1,2.1 1,-2.1 1,5.5 1,-3.4 1,0.2 1,-2.2 1,-4.8 1,3.3 1,-1.2 1,4.4 1,-0.6 1,-1.8 1,1.4 1,6.1 1,-7.3 1,0.3 1,3.0 1,-2.0 1,1.2 1,3.3 1,3.4 1,-9.6 1,5.4 1,-0.3 1,-0.3 1,-0.8 1,-0.8 1,3.4 1,-4.3 1,0.9 1,0.5 1,-0.4 1,0.1 1,3.7 1,-2.6 1,0.3 1,-0.8 1,-2.5 1,0.6 1,-1.5 1,3.7 1,-1.3 1,-1.9 1,4.0 1,0.8 1,-6.6 1,10.2 1,-5.3 1,-0.4 1,3.9 1,-3.0 1,-2.2 1,7.8 1,-9.4 1,3.4 1,2.2 1,-5.0 1,2.1 1,1.6 1,5.6 1,-10.5 1,2.3 1,1.4 1,-1.9 1,-3.0 1,3.9 1,-1.4 1,1.5 1,1.9 1,0.3 1,-1.6 1,-0.7 1,-4.0 1,3.2 1,1.4 1,-1.8 1,1.4 1,-2.6 1,6.3 1,2.6 1,-7.1 1,1.7 1,-2.0 1,4.5 1,-2.0 1,-1.1 1,-1.1 1,1.0 1,-3.9 1,4.1 1,-3.5 1,3.3 1,-0.9 1,3.3 1,-2.8 1,3.0 1,-4.4 1,4.6 1,-2.5 1,1.5 1,-0.2 1,2.2 1,-8.2 1,6.5 1,-6.0 1,7.5 1,-9.0 1,2.5 1,-2.6 1,9.2 1,-8.2 1,4.0 1,-2.3 1,-3.2 1,3.6 1,2.8 1,-1.7 1,2.9 1,-3.8 1,1.6 1,-1.2 1,2.0 1,4.5 1,-3.8 1,-1.5 1,-2.6 1,-0.8 1,5.7 1,-7.6 1,0.2 1,2.5 1,-1.3 1,6.8 1,-11.9 1,7.4 1,1.1 1,-4.3 1,1.6 1,2.8 1,3.4 1,-7.5 1,-1.7 1,7.6 1,1.2 1,-5.2 1,-4.7 1,10.1 1,-4.5 1,3.3 1,-3.6 1,-1.1 1,0.8 1,5.2 1,-0.3 1,-10.2 1,3.4 1,8.0 1,-5.9 1,-1.8 1,4.0 1,0.4 1,0.2 1,-0.7 1,-0.1 1,-0.4 1,2.2 1,-3.2 1,0.6 1,0.9 1,4.0 1,-2.7 1,-1.4 1,1.8 1,-0.1 1,1.4 1,-1.9 1,3.8 1,-1.1 1,-3.9 1,-1.2 1,3.3 1,-1.0 1,-1.1 1,-4.3 1,-0.2 1,6.5 1,1.0 1,0.5 1,-6.5 1,5.8 1,-4.9 1,2.5 1,-0.0 1,-3.6 1,0.7 1,-5.0 1,3.5 1,-3.0 1,6.1 1,-1.2 1,2.0 1,-2.1 1,-3.1 1,2.8 1,-1.7 1,3.1 1,-1.2 1,-3.9 1,2.4 1,0.4 1,-1.3 1,3.5 1,2.2 1,-5.8 1,0.0 1,-4.8 1,6.2 1,-0.3 1,-4.7 1,7.5 1,1.5 1,-3.7 1,1.7 1,-1.5 1,4.9 1,-6.7 1,3.3 1,6.7 1,-5.9 1,1.5 1,-1.5 1,-2.7 1,2.2 1,1.2 1,-3.7 1,3.5 1,2.6 1,-1.6 1,-7.1 1,1.4 1,-1.4 1,6.7 1,-1.0 1,0.1 1,-4.1 1,-1.3 1,3.2 1,1.0 1,-3.1 1,2.4 1,1.2 1,-1.7 1,-3.0 1,-2.3 1,4.8 1,0.4 1,-0.7 1,0.0 1,-0.4 1,4.5 1,-2.5 1,0.4 1,-3.7 1,0.4 1,2.6 1,-3.6 1,0.3 1,2.7 1,4.0 1,-2.4 1,4.4 1,-4.2 1,-1.0 1,-3.5 1,2.3 1,4.8 1,-4.0 1,1.0 1,-0.6 1,-2.5 1,-0.6 1,0.9 1,1.5 1,-0.6 1,0.1 1,-1.0 1,-2.6 1,1.4 1,-1.9 1,5.4 1,-8.7 1,5.3 1,7.3 1,-7.7 1,-2.2 1,3.1 1,3.7 1,-4.1 1,2.2 1,-1.4 1,-1.3 1,9.9 1,-8.6 1,-1.7 1,0.1 1,2.4 1,0.1 1,1.0" fill="none" stroke="#000" stroke-width="1.3" shape-rendering="geometricPrecision"/>
<line x1="1072.5" y1="686" x2="1072.5" y2="755" stroke="#000" stroke-width="1.3"/>
<g stroke="#000" shape-rendering="geometricPrecision"><line x1="150.6" y1="60" x2="1950.4" y2="60" stroke-width="1.5"/><line x1="150.6" y1="59.2" x2="150.6" y2="659.6" stroke-width="1.5"/><line x1="1950.4" y1="59.2" x2="1950.4" y2="659.6" stroke-width="1.5"/><line x1="150.6" y1="659.4" x2="1950.4" y2="659.4" stroke-width="1.5"/><line x1="150.6" y1="779.4" x2="1950.4" y2="779.4" stroke-width="1.5"/><line x1="150.6" y1="779" x2="150.6" y2="1079.3" stroke-width="1.5"/><line x1="1950.4" y1="779" x2="1950.4" y2="1079.3" stroke-width="1.5"/><line x1="150.6" y1="1079.3" x2="1950.4" y2="1079.3" stroke-width="1.5"/><line x1="200.39999999999998" y1="60" x2="200.39999999999998" y2="75" stroke-width="1.5"/><line x1="200.39999999999998" y1="659.4" x2="200.39999999999998" y2="644.4" stroke-width="1.5"/><line x1="200.39999999999998" y1="779.4" x2="200.39999999999998" y2="787.4" stroke-width="1.5"/><line x1="200.39999999999998" y1="1079.3" x2="200.39999999999998" y2="1070.3" stroke-width="1.5"/><line x1="250.39999999999998" y1="60" x2="250.39999999999998" y2="75" stroke-width="1.5"/><line x1="250.39999999999998" y1="659.4" x2="250.39999999999998" y2="644.4" stroke-width="1.5"/><line x1="250.39999999999998" y1="779.4" x2="250.39999999999998" y2="787.4" stroke-width="1.5"/><line x1="250.39999999999998" y1="1079.3" x2="250.39999999999998" y2="1070.3" stroke-width="1.5"/><line x1="300.4" y1="60" x2="300.4" y2="75" stroke-width="1.5"/><line x1="300.4" y1="659.4" x2="300.4" y2="644.4" stroke-width="1.5"/><line x1="300.4" y1="779.4" x2="300.4" y2="787.4" stroke-width="1.5"/><line x1="300.4" y1="1079.3" x2="300.4" y2="1070.3" stroke-width="1.5"/><line x1="350.4" y1="60" x2="350.4" y2="75" stroke-width="1.5"/><line x1="350.4" y1="659.4" x2="350.4" y2="644.4" stroke-width="1.5"/><line x1="350.4" y1="779.4" x2="350.4" y2="787.4" stroke-width="1.5"/><line x1="350.4" y1="1079.3" x2="350.4" y2="1070.3" stroke-width="1.5"/><line x1="400.4" y1="60" x2="400.4" y2="75" stroke-width="1.5"/><line x1="400.4" y1="659.4" x2="400.4" y2="644.4" stroke-width="1.5"/><line x1="400.4" y1="779.4" x2="400.4" y2="787.4" stroke-width="1.5"/><line x1="400.4" y1="1079.3" x2="400.4" y2="1070.3" stroke-width="1.5"/><line x1="450.4" y1="60" x2="450.4" y2="90" stroke-width="1.5"/><line x1="450.4" y1="659.4" x2="450.4" y2="629.4" stroke-width="1.5"/><line x1="450.4" y1="779.4" x2="450.4" y2="794.4" stroke-width="1.5"/><line x1="450.4" y1="1079.3" x2="450.4" y2="1064.3" stroke-width="1.5"/><line x1="500.4" y1="60" x2="500.4" y2="75" stroke-width="1.5"/><line x1="500.4" y1="659.4" x2="500.4" y2="644.4" stroke-width="1.5"/><line x1="500.4" y1="779.4" x2="500.4" y2="787.4" stroke-width="1.5"/><line x1="500.4" y1="1079.3" x2="500.4" y2="1070.3" stroke-width="1.5"/><line x1="550.4" y1="60" x2="550.4" y2="75" stroke-width="1.5"/><line x1="550.4" y1="659.4" x2="550.4" y2="644.4" stroke-width="1.5"/><line x1="550.4" y1="779.4" x2="550.4" y2="787.4" stroke-width="1.5"/><line x1="550.4" y1="1079.3" x2="550.4" y2="1070.3" stroke-width="1.5"/><line x1="600.4" y1="60" x2="600.4" y2="75" stroke-width="1.5"/><line x1="600.4" y1="659.4" x2="600.4" y2="644.4" stroke-width="1.5"/><line x1="600.4" y1="779.4" x2="600.4" y2="787.4" stroke-width="1.5"/><line x1="600.4" y1="1079.3" x2="600.4" y2="1070.3" stroke-width="1.5"/><line x1="650.4" y1="60" x2="650.4" y2="75" stroke-width="1.5"/><line x1="650.4" y1="659.4" x2="650.4" y2="644.4" stroke-width="1.5"/><line x1="650.4" y1="779.4" x2="650.4" y2="787.4" stroke-width="1.5"/><line x1="650.4" y1="1079.3" x2="650.4" y2="1070.3" stroke-width="1.5"/><line x1="700.4" y1="60" x2="700.4" y2="75" stroke-width="1.5"/><line x1="700.4" y1="659.4" x2="700.4" y2="644.4" stroke-width="1.5"/><line x1="700.4" y1="779.4" x2="700.4" y2="787.4" stroke-width="1.5"/><line x1="700.4" y1="1079.3" x2="700.4" y2="1070.3" stroke-width="1.5"/><line x1="750.4" y1="60" x2="750.4" y2="90" stroke-width="1.5"/><line x1="750.4" y1="659.4" x2="750.4" y2="629.4" stroke-width="1.5"/><line x1="750.4" y1="779.4" x2="750.4" y2="794.4" stroke-width="1.5"/><line x1="750.4" y1="1079.3" x2="750.4" y2="1064.3" stroke-width="1.5"/><line x1="800.4" y1="60" x2="800.4" y2="75" stroke-width="1.5"/><line x1="800.4" y1="659.4" x2="800.4" y2="644.4" stroke-width="1.5"/><line x1="800.4" y1="779.4" x2="800.4" y2="787.4" stroke-width="1.5"/><line x1="800.4" y1="1079.3" x2="800.4" y2="1070.3" stroke-width="1.5"/><line x1="850.4" y1="60" x2="850.4" y2="75" stroke-width="1.5"/><line x1="850.4" y1="659.4" x2="850.4" y2="644.4" stroke-width="1.5"/><line x1="850.4" y1="779.4" x2="850.4" y2="787.4" stroke-width="1.5"/><line x1="850.4" y1="1079.3" x2="850.4" y2="1070.3" stroke-width="1.5"/><line x1="900.4" y1="60" x2="900.4" y2="75" stroke-width="1.5"/><line x1="900.4" y1="659.4" x2="900.4" y2="644.4" stroke-width="1.5"/><line x1="900.4" y1="779.4" x2="900.4" y2="787.4" stroke-width="1.5"/><line x1="900.4" y1="1079.3" x2="900.4" y2="1070.3" stroke-width="1.5"/><line x1="950.4" y1="60" x2="950.4" y2="75" stroke-width="1.5"/><line x1="950.4" y1="659.4" x2="950.4" y2="644.4" stroke-width="1.5"/><line x1="950.4" y1="779.4" x2="950.4" y2="787.4" stroke-width="1.5"/><line x1="950.4" y1="1079.3" x2="950.4" y2="1070.3" stroke-width="1.5"/><line x1="1000.4" y1="60" x2="1000.4" y2="75" stroke-width="1.5"/><line x1="1000.4" y1="659.4" x2="1000.4" y2="644.4" stroke-width="1.5"/><line x1="1000.4" y1="779.4" x2="1000.4" y2="787.4" stroke-width="1.5"/><line x1="1000.4" y1="1079.3" x2="1000.4" y2="1070.3" stroke-width="1.5"/><line x1="1050.4" y1="60" x2="1050.4" y2="90" stroke-width="1.5"/><line x1="1050.4" y1="659.4" x2="1050.4" y2="629.4" stroke-width="1.5"/><line x1="1050.4" y1="779.4" x2="1050.4" y2="794.4" stroke-width="1.5"/><line x1="1050.4" y1="1079.3" x2="1050.4" y2="1064.3" stroke-width="1.5"/><line x1="1100.4" y1="60" x2="1100.4" y2="75" stroke-width="1.5"/><line x1="1100.4" y1="659.4" x2="1100.4" y2="644.4" stroke-width="1.5"/><line x1="1100.4" y1="779.4" x2="1100.4" y2="787.4" stroke-width="1.5"/><line x1="1100.4" y1="1079.3" x2="1100.4" y2="1070.3" stroke-width="1.5"/><line x1="1150.4" y1="60" x2="1150.4" y2="75" stroke-width="1.5"/><line x1="1150.4" y1="659.4" x2="1150.4" y2="644.4" stroke-width="1.5"/><line x1="1150.4" y1="779.4" x2="1150.4" y2="787.4" stroke-width="1.5"/><line x1="1150.4" y1="1079.3" x2="1150.4" y2="1070.3" stroke-width="1.5"/><line x1="1200.4" y1="60" x2="1200.4" y2="75" stroke-width="1.5"/><line x1="1200.4" y1="659.4" x2="1200.4" y2="644.4" stroke-width="1.5"/><line x1="1200.4" y1="779.4" x2="1200.4" y2="787.4" stroke-width="1.5"/><line x1="1200.4" y1="1079.3" x2="1200.4" y2="1070.3" stroke-width="1.5"/><line x1="1250.4" y1="60" x2="1250.4" y2="75" stroke-width="1.5"/><line x1="1250.4" y1="659.4" x2="1250.4" y2="644.4" stroke-width="1.5"/><line x1="1250.4" y1="779.4" x2="1250.4" y2="787.4" stroke-width="1.5"/><line x1="1250.4" y1="1079.3" x2="1250.4" y2="1070.3" stroke-width="1.5"/><line x1="1300.4" y1="60" x2="1300.4" y2="75" stroke-width="1.5"/><line x1="1300.4" y1="659.4" x2="1300.4" y2="644.4" stroke-width="1.5"/><line x1="1300.4" y1="779.4" x2="1300.4" y2="787.4" stroke-width="1.5"/><line x1="1300.4" y1="1079.3" x2="1300.4" y2="1070.3" stroke-width="1.5"/><line x1="1350.4" y1="60" x2="1350.4" y2="90" stroke-width="1.5"/><line x1="1350.4" y1="659.4" x2="1350.4" y2="629.4" stroke-width="1.5"/><line x1="1350.4" y1="779.4" x2="1350.4" y2="794.4" stroke-width="1.5"/><line x1="1350.4" y1="1079.3" x2="1350.4" y2="1064.3" stroke-width="1.5"/><line x1="1400.4" y1="60" x2="1400.4" y2="75" stroke-width="1.5"/><line x1="1400.4" y1="659.4" x2="1400.4" y2="644.4" stroke-width="1.5"/><line x1="1400.4" y1="779.4" x2="1400.4" y2="787.4" stroke-width="1.5"/><line x1="1400.4" y1="1079.3" x2="1400.4" y2="1070.3" stroke-width="1.5"/><line x1="1450.4" y1="60" x2="1450.4" y2="75" stroke-width="1.5"/><line x1="1450.4" y1="659.4" x2="1450.4" y2="644.4" stroke-width="1.5"/><line x1="1450.4" y1="779.4" x2="1450.4" y2="787.4" stroke-width="1.5"/><line x1="1450.4" y1="1079.3" x2="1450.4" y2="1070.3" stroke-width="1.5"/><line x1="1500.4" y1="60" x2="1500.4" y2="75" stroke-width="1.5"/><line x1="1500.4" y1="659.4" x2="1500.4" y2="644.4" stroke-width="1.5"/><line x1="1500.4" y1="779.4" x2="1500.4" y2="787.4" stroke-width="1.5"/><line x1="1500.4" y1="1079.3" x2="1500.4" y2="1070.3" stroke-width="1.5"/><line x1="1550.4" y1="60" x2="1550.4" y2="75" stroke-width="1.5"/><line x1="1550.4" y1="659.4" x2="1550.4" y2="644.4" stroke-width="1.5"/><line x1="1550.4" y1="779.4" x2="1550.4" y2="787.4" stroke-width="1.5"/><line x1="1550.4" y1="1079.3" x2="1550.4" y2="1070.3" stroke-width="1.5"/><line x1="1600.4" y1="60" x2="1600.4" y2="75" stroke-width="1.5"/><line x1="1600.4" y1="659.4" x2="1600.4" y2="644.4" stroke-width="1.5"/><line x1="1600.4" y1="779.4" x2="1600.4" y2="787.4" stroke-width="1.5"/><line x1="1600.4" y1="1079.3" x2="1600.4" y2="1070.3" stroke-width="1.5"/><line x1="1650.4" y1="60" x2="1650.4" y2="90" stroke-width="1.5"/><line x1="1650.4" y1="659.4" x2="1650.4" y2="629.4" stroke-width="1.5"/><line x1="1650.4" y1="779.4" x2="1650.4" y2="794.4" stroke-width="1.5"/><line x1="1650.4" y1="1079.3" x2="1650.4" y2="1064.3" stroke-width="1.5"/><line x1="1700.4" y1="60" x2="1700.4" y2="75" stroke-width="1.5"/><line x1="1700.4" y1="659.4" x2="1700.4" y2="644.4" stroke-width="1.5"/><line x1="1700.4" y1="779.4" x2="1700.4" y2="787.4" stroke-width="1.5"/><line x1="1700.4" y1="1079.3" x2="1700.4" y2="1070.3" stroke-width="1.5"/><line x1="1750.4" y1="60" x2="1750.4" y2="75" stroke-width="1.5"/><line x1="1750.4" y1="659.4" x2="1750.4" y2="644.4" stroke-width="1.5"/><line x1="1750.4" y1="779.4" x2="1750.4" y2="787.4" stroke-width="1.5"/><line x1="1750.4" y1="1079.3" x2="1750.4" y2="1070.3" stroke-width="1.5"/><line x1="1800.4" y1="60" x2="1800.4" y2="75" stroke-width="1.5"/><line x1="1800.4" y1="659.4" x2="1800.4" y2="644.4" stroke-width="1.5"/><line x1="1800.4" y1="779.4" x2="1800.4" y2="787.4" stroke-width="1.5"/><line x1="1800.4" y1="1079.3" x2="1800.4" y2="1070.3" stroke-width="1.5"/><line x1="1850.4" y1="60" x2="1850.4" y2="75" stroke-width="1.5"/><line x1="1850.4" y1="659.4" x2="1850.4" y2="644.4" stroke-width="1.5"/><line x1="1850.4" y1="779.4" x2="1850.4" y2="787.4" stroke-width="1.5"/><line x1="1850.4" y1="1079.3" x2="1850.4" y2="1070.3" stroke-width="1.5"/><line x1="1900.4" y1="60" x2="1900.4" y2="75" stroke-width="1.5"/><line x1="1900.4" y1="659.4" x2="1900.4" y2="644.4" stroke-width="1.5"/><line x1="1900.4" y1="779.4" x2="1900.4" y2="787.4" stroke-width="1.5"/><line x1="1900.4" y1="1079.3" x2="1900.4" y2="1070.3" stroke-width="1.5"/><line x1="150.6" y1="609.4" x2="169.6" y2="609.4" stroke-width="1.5"/><line x1="1950.4" y1="609.4" x2="1931.4" y2="609.4" stroke-width="1.5"/><line x1="150.6" y1="559.4" x2="169.6" y2="559.4" stroke-width="1.5"/><line x1="1950.4" y1="559.4" x2="1931.4" y2="559.4" stroke-width="1.5"/><line x1="150.6" y1="509.4" x2="169.6" y2="509.4" stroke-width="1.5"/><line x1="1950.4" y1="509.4" x2="1931.4" y2="509.4" stroke-width="1.5"/><line x1="150.6" y1="459.4" x2="187.6" y2="459.4" stroke-width="1.5"/><line x1="1950.4" y1="459.4" x2="1913.4" y2="459.4" stroke-width="1.5"/><line x1="150.6" y1="409.4" x2="169.6" y2="409.4" stroke-width="1.5"/><line x1="1950.4" y1="409.4" x2="1931.4" y2="409.4" stroke-width="1.5"/><line x1="150.6" y1="359.4" x2="169.6" y2="359.4" stroke-width="1.5"/><line x1="1950.4" y1="359.4" x2="1931.4" y2="359.4" stroke-width="1.5"/><line x1="150.6" y1="309.4" x2="169.6" y2="309.4" stroke-width="1.5"/><line x1="1950.4" y1="309.4" x2="1931.4" y2="309.4" stroke-width="1.5"/><line x1="150.6" y1="259.4" x2="187.6" y2="259.4" stroke-width="1.5"/><line x1="1950.4" y1="259.4" x2="1913.4" y2="259.4" stroke-width="1.5"/><line x1="150.6" y1="209.39999999999998" x2="169.6" y2="209.39999999999998" stroke-width="1.5"/><line x1="1950.4" y1="209.39999999999998" x2="1931.4" y2="209.39999999999998" stroke-width="1.5"/><line x1="150.6" y1="159.39999999999998" x2="169.6" y2="159.39999999999998" stroke-width="1.5"/><line x1="1950.4" y1="159.39999999999998" x2="1931.4" y2="159.39999999999998" stroke-width="1.5"/><line x1="150.6" y1="109.39999999999998" x2="169.6" y2="109.39999999999998" stroke-width="1.5"/><line x1="1950.4" y1="109.39999999999998" x2="1931.4" y2="109.39999999999998" stroke-width="1.5"/><line x1="150.6" y1="666.8" x2="168.6" y2="666.8" stroke-width="1.5"/><line x1="1950.4" y1="666.8" x2="1932.4" y2="666.8" stroke-width="1.5"/><line x1="150.6" y1="674.3" x2="168.6" y2="674.3" stroke-width="1.5"/><line x1="1950.4" y1="674.3" x2="1932.4" y2="674.3" stroke-width="1.5"/><line x1="150.6" y1="681.8" x2="168.6" y2="681.8" stroke-width="1.5"/><line x1="1950.4" y1="681.8" x2="1932.4" y2="681.8" stroke-width="1.5"/><line x1="150.6" y1="689.3" x2="186.6" y2="689.3" stroke-width="1.5"/><line x1="1950.4" y1="689.3" x2="1914.4" y2="689.3" stroke-width="1.5"/><line x1="150.6" y1="696.8" x2="168.6" y2="696.8" stroke-width="1.5"/><line x1="1950.4" y1="696.8" x2="1932.4" y2="696.8" stroke-width="1.5"/><line x1="150.6" y1="704.3" x2="168.6" y2="704.3" stroke-width="1.5"/><line x1="1950.4" y1="704.3" x2="1932.4" y2="704.3" stroke-width="1.5"/><line x1="150.6" y1="711.8" x2="168.6" y2="711.8" stroke-width="1.5"/><line x1="1950.4" y1="711.8" x2="1932.4" y2="711.8" stroke-width="1.5"/><line x1="150.6" y1="719.3" x2="186.6" y2="719.3" stroke-width="1.5"/><line x1="1950.4" y1="719.3" x2="1914.4" y2="719.3" stroke-width="1.5"/><line x1="150.6" y1="726.8" x2="168.6" y2="726.8" stroke-width="1.5"/><line x1="1950.4" y1="726.8" x2="1932.4" y2="726.8" stroke-width="1.5"/><line x1="150.6" y1="734.3" x2="168.6" y2="734.3" stroke-width="1.5"/><line x1="1950.4" y1="734.3" x2="1932.4" y2="734.3" stroke-width="1.5"/><line x1="150.6" y1="741.8" x2="168.6" y2="741.8" stroke-width="1.5"/><line x1="1950.4" y1="741.8" x2="1932.4" y2="741.8" stroke-width="1.5"/><line x1="150.6" y1="749.3" x2="186.6" y2="749.3" stroke-width="1.5"/><line x1="1950.4" y1="749.3" x2="1914.4" y2="749.3" stroke-width="1.5"/><line x1="150.6" y1="756.8" x2="168.6" y2="756.8" stroke-width="1.5"/><line x1="1950.4" y1="756.8" x2="1932.4" y2="756.8" stroke-width="1.5"/><line x1="150.6" y1="764.3" x2="168.6" y2="764.3" stroke-width="1.5"/><line x1="1950.4" y1="764.3" x2="1932.4" y2="764.3" stroke-width="1.5"/><line x1="150.6" y1="771.8" x2="168.6" y2="771.8" stroke-width="1.5"/><line x1="1950.4" y1="771.8" x2="1932.4" y2="771.8" stroke-width="1.5"/><line x1="150.6" y1="1069.2" x2="169.6" y2="1069.2" stroke-width="1.5"/><line x1="1950.4" y1="1069.2" x2="1931.4" y2="1069.2" stroke-width="1.5"/><line x1="150.6" y1="1059.2" x2="169.6" y2="1059.2" stroke-width="1.5"/><line x1="1950.4" y1="1059.2" x2="1931.4" y2="1059.2" stroke-width="1.5"/><line x1="150.6" y1="1049.2" x2="169.6" y2="1049.2" stroke-width="1.5"/><line x1="1950.4" y1="1049.2" x2="1931.4" y2="1049.2" stroke-width="1.5"/><line x1="150.6" y1="1039.2" x2="169.6" y2="1039.2" stroke-width="1.5"/><line x1="1950.4" y1="1039.2" x2="1931.4" y2="1039.2" stroke-width="1.5"/><line x1="150.6" y1="1029.2" x2="169.6" y2="1029.2" stroke-width="1.5"/><line x1="1950.4" y1="1029.2" x2="1931.4" y2="1029.2" stroke-width="1.5"/><line x1="150.6" y1="1019.2" x2="169.6" y2="1019.2" stroke-width="1.5"/><line x1="1950.4" y1="1019.2" x2="1931.4" y2="1019.2" stroke-width="1.5"/><line x1="150.6" y1="1009.2" x2="169.6" y2="1009.2" stroke-width="1.5"/><line x1="1950.4" y1="1009.2" x2="1931.4" y2="1009.2" stroke-width="1.5"/><line x1="150.6" y1="999.2" x2="169.6" y2="999.2" stroke-width="1.5"/><line x1="1950.4" y1="999.2" x2="1931.4" y2="999.2" stroke-width="1.5"/><line x1="150.6" y1="989.2" x2="169.6" y2="989.2" stroke-width="1.5"/><line x1="1950.4" y1="989.2" x2="1931.4" y2="989.2" stroke-width="1.5"/><line x1="150.6" y1="979.2" x2="187.6" y2="979.2" stroke-width="1.5"/><line x1="1950.4" y1="979.2" x2="1913.4" y2="979.2" stroke-width="1.5"/><line x1="150.6" y1="969.2" x2="169.6" y2="969.2" stroke-width="1.5"/><line x1="1950.4" y1="969.2" x2="1931.4" y2="969.2" stroke-width="1.5"/><line x1="150.6" y1="959.2" x2="169.6" y2="959.2" stroke-width="1.5"/><line x1="1950.4" y1="959.2" x2="1931.4" y2="959.2" stroke-width="1.5"/><line x1="150.6" y1="949.2" x2="169.6" y2="949.2" stroke-width="1.5"/><line x1="1950.4" y1="949.2" x2="1931.4" y2="949.2" stroke-width="1.5"/><line x1="150.6" y1="939.2" x2="169.6" y2="939.2" stroke-width="1.5"/><line x1="1950.4" y1="939.2" x2="1931.4" y2="939.2" stroke-width="1.5"/><line x1="150.6" y1="929.2" x2="169.6" y2="929.2" stroke-width="1.5"/><line x1="1950.4" y1="929.2" x2="1931.4" y2="929.2" stroke-width="1.5"/><line x1="150.6" y1="919.2" x2="169.6" y2="919.2" stroke-width="1.5"/><line x1="1950.4" y1="919.2" x2="1931.4" y2="919.2" stroke-width="1.5"/><line x1="150.6" y1="909.2" x2="169.6" y2="909.2" stroke-width="1.5"/><line x1="1950.4" y1="909.2" x2="1931.4" y2="909.2" stroke-width="1.5"/><line x1="150.6" y1="899.2" x2="169.6" y2="899.2" stroke-width="1.5"/><line x1="1950.4" y1="899.2" x2="1931.4" y2="899.2" stroke-width="1.5"/><line x1="150.6" y1="889.2" x2="169.6" y2="889.2" stroke-width="1.5"/><line x1="1950.4" y1="889.2" x2="1931.4" y2="889.2" stroke-width="1.5"/><line x1="150.6" y1="879.2" x2="187.6" y2="879.2" stroke-width="1.5"/><line x1="1950.4" y1="879.2" x2="1913.4" y2="879.2" stroke-width="1.5"/><line x1="150.6" y1="869.2" x2="169.6" y2="869.2" stroke-width="1.5"/><line x1="1950.4" y1="869.2" x2="1931.4" y2="869.2" stroke-width="1.5"/><line x1="150.6" y1="859.2" x2="169.6" y2="859.2" stroke-width="1.5"/><line x1="1950.4" y1="859.2" x2="1931.4" y2="859.2" stroke-width="1.5"/><line x1="150.6" y1="849.2" x2="169.6" y2="849.2" stroke-width="1.5"/><line x1="1950.4" y1="849.2" x2="1931.4" y2="849.2" stroke-width="1.5"/><line x1="150.6" y1="839.2" x2="169.6" y2="839.2" stroke-width="1.5"/><line x1="1950.4" y1="839.2" x2="1931.4" y2="839.2" stroke-width="1.5"/><line x1="150.6" y1="829.2" x2="169.6" y2="829.2" stroke-width="1.5"/><line x1="1950.4" y1="829.2" x2="1931.4" y2="829.2" stroke-width="1.5"/><line x1="150.6" y1="819.2" x2="169.6" y2="819.2" stroke-width="1.5"/><line x1="1950.4" y1="819.2" x2="1931.4" y2="819.2" stroke-width="1.5"/><line x1="150.6" y1="809.2" x2="169.6" y2="809.2" stroke-width="1.5"/><line x1="1950.4" y1="809.2" x2="1931.4" y2="809.2" stroke-width="1.5"/><line x1="150.6" y1="799.2" x2="169.6" y2="799.2" stroke-width="1.5"/><line x1="1950.4" y1="799.2" x2="1931.4" y2="799.2" stroke-width="1.5"/><line x1="150.6" y1="789.2" x2="169.6" y2="789.2" stroke-width="1.5"/><line x1="1950.4" y1="789.2" x2="1931.4" y2="789.2" stroke-width="1.5"/></g>
<defs><linearGradient id="cb" x1="0" y1="0" x2="0" y2="1"><stop offset="0.000" stop-color="#ff6000"/><stop offset="0.024" stop-color="#ff7300"/><stop offset="0.048" stop-color="#ff8500"/><stop offset="0.071" stop-color="#ff9800"/><stop offset="0.095" stop-color="#ffb100"/><stop offset="0.119" stop-color="#ffcb00"/><stop offset="0.143" stop-color="#ffeb00"/><stop offset="0.167" stop-color="#f5ff00"/><stop offset="0.190" stop-color="#ddff00"/><stop offset="0.214" stop-color="#c8ff00"/><stop offset="0.238" stop-color="#b4ff00"/><stop offset="0.262" stop-color="#a0ff00"/><stop offset="0.286" stop-color="#8bff00"/><stop offset="0.310" stop-color="#70ff00"/><stop offset="0.333" stop-color="#55ff00"/><stop offset="0.357" stop-color="#39ff00"/><stop offset="0.381" stop-color="#15ff00"/><stop offset="0.405" stop-color="#00ff00"/><stop offset="0.429" stop-color="#00ff00"/><stop offset="0.452" stop-color="#00ff00"/><stop offset="0.476" stop-color="#00ff0b"/><stop offset="0.500" stop-color="#00ff40"/><stop offset="0.524" stop-color="#00ff75"/><stop offset="0.548" stop-color="#00ff91"/><stop offset="0.571" stop-color="#00ffa6"/><stop offset="0.595" stop-color="#00ffbc"/><stop offset="0.619" stop-color="#00ffd7"/><stop offset="0.643" stop-color="#00fff4"/><stop offset="0.667" stop-color="#00efff"/><stop offset="0.690" stop-color="#00d5ff"/><stop offset="0.714" stop-color="#00baff"/><stop offset="0.738" stop-color="#009dff"/><stop offset="0.762" stop-color="#0080ff"/><stop offset="0.786" stop-color="#0067ff"/><stop offset="0.810" stop-color="#004fff"/><stop offset="0.833" stop-color="#0038ff"/><stop offset="0.857" stop-color="#0024ff"/><stop offset="0.881" stop-color="#0010ff"/><stop offset="0.905" stop-color="#0400fb"/><stop offset="0.929" stop-color="#1600e9"/><stop offset="0.952" stop-color="#2900d7"/><stop offset="0.976" stop-color="#3700c9"/><stop offset="1.000" stop-color="#4600b9"/></linearGradient></defs>
<rect x="1900.5" y="791" width="50" height="180" fill="url(#cb)" stroke="#000" stroke-width="1.2"/>
<line x1="1895" y1="793.5" x2="1906" y2="793.5" stroke="#000" stroke-width="1.2"/>
<line x1="1945" y1="793.5" x2="1950" y2="793.5" stroke="#000" stroke-width="1.2"/>
<text x="1897" y="797.0" font-size="10.5" text-anchor="end" textLength="36" lengthAdjust="spacingAndGlyphs" font-family='"Liberation Sans", sans-serif'>−25.00</text>
<line x1="1895" y1="827.5" x2="1906" y2="827.5" stroke="#000" stroke-width="1.2"/>
<line x1="1945" y1="827.5" x2="1950" y2="827.5" stroke="#000" stroke-width="1.2"/>
<text x="1897" y="831.0" font-size="10.5" text-anchor="end" textLength="36" lengthAdjust="spacingAndGlyphs" font-family='"Liberation Sans", sans-serif'>−29.20</text>
<line x1="1895" y1="863.5" x2="1906" y2="863.5" stroke="#000" stroke-width="1.2"/>
<line x1="1945" y1="863.5" x2="1950" y2="863.5" stroke="#000" stroke-width="1.2"/>
<text x="1897" y="867.0" font-size="10.5" text-anchor="end" textLength="36" lengthAdjust="spacingAndGlyphs" font-family='"Liberation Sans", sans-serif'>−33.40</text>
<line x1="1895" y1="899" x2="1906" y2="899" stroke="#000" stroke-width="1.2"/>
<line x1="1945" y1="899" x2="1950" y2="899" stroke="#000" stroke-width="1.2"/>
<text x="1897" y="902.5" font-size="10.5" text-anchor="end" textLength="36" lengthAdjust="spacingAndGlyphs" font-family='"Liberation Sans", sans-serif'>−37.60</text>
<line x1="1895" y1="935" x2="1906" y2="935" stroke="#000" stroke-width="1.2"/>
<line x1="1945" y1="935" x2="1950" y2="935" stroke="#000" stroke-width="1.2"/>
<text x="1897" y="938.5" font-size="10.5" text-anchor="end" textLength="36" lengthAdjust="spacingAndGlyphs" font-family='"Liberation Sans", sans-serif'>−41.80</text>
<line x1="1895" y1="968" x2="1906" y2="968" stroke="#000" stroke-width="1.2"/>
<line x1="1945" y1="968" x2="1950" y2="968" stroke="#000" stroke-width="1.2"/>
<text x="1897" y="971.5" font-size="10.5" text-anchor="end" textLength="36" lengthAdjust="spacingAndGlyphs" font-family='"Liberation Sans", sans-serif'>−46.00</text>
<text transform="translate(1965,882) rotate(-90)" font-size="9" text-anchor="middle" font-family='"Liberation Sans", sans-serif'>Celcius</text>
<g font-family='"Liberation Sans", sans-serif' fill="#000" stroke="#fff" stroke-width="0.55">
<text x="809" y="47.8" font-size="27.5" text-anchor="start" textLength="260" lengthAdjust="spacingAndGlyphs" >MMCR reflectivity</text>
<text x="1133" y="47.8" font-size="27.5" text-anchor="start" textLength="157" lengthAdjust="spacingAndGlyphs" >20110110</text>
<text x="142" y="74.5" font-size="24" text-anchor="end" textLength="16" lengthAdjust="spacingAndGlyphs" >6</text>
<text x="142" y="268" font-size="24" text-anchor="end" textLength="16" lengthAdjust="spacingAndGlyphs" >4</text>
<text x="142" y="468" font-size="24" text-anchor="end" textLength="16" lengthAdjust="spacingAndGlyphs" >2</text>
<text x="142" y="661" font-size="24" text-anchor="end" textLength="16" lengthAdjust="spacingAndGlyphs" >0</text>
<text x="142" y="795" font-size="24" text-anchor="end" textLength="16" lengthAdjust="spacingAndGlyphs" >3</text>
<text x="142" y="888" font-size="24" text-anchor="end" textLength="16" lengthAdjust="spacingAndGlyphs" >2</text>
<text x="142" y="988" font-size="24" text-anchor="end" textLength="16" lengthAdjust="spacingAndGlyphs" >1</text>
<text x="142" y="1080" font-size="24" text-anchor="end" textLength="16" lengthAdjust="spacingAndGlyphs" >0</text>
<text x="1954" y="672" font-size="20" text-anchor="start" textLength="27" lengthAdjust="spacingAndGlyphs" >80</text>
<text x="1954" y="697" font-size="20" text-anchor="start" textLength="27" lengthAdjust="spacingAndGlyphs" >60</text>
<text x="1954" y="727.3" font-size="20" text-anchor="start" textLength="27" lengthAdjust="spacingAndGlyphs" >40</text>
<text x="1954" y="757.5" font-size="20" text-anchor="start" textLength="27" lengthAdjust="spacingAndGlyphs" >20</text>
<text x="1954" y="780" font-size="20" text-anchor="start" textLength="13.5" lengthAdjust="spacingAndGlyphs" >0</text>
<text x="149.39999999999998" y="1111" font-size="24" text-anchor="middle" textLength="35" lengthAdjust="spacingAndGlyphs" >−6</text>
<text x="450.4" y="1111" font-size="24" text-anchor="middle" textLength="16" lengthAdjust="spacingAndGlyphs" >0</text>
<text x="750.4" y="1111" font-size="24" text-anchor="middle" textLength="16" lengthAdjust="spacingAndGlyphs" >6</text>
<text x="1050.4" y="1111" font-size="24" text-anchor="middle" textLength="31" lengthAdjust="spacingAndGlyphs" >12</text>
<text x="1350.4" y="1111" font-size="24" text-anchor="middle" textLength="31" lengthAdjust="spacingAndGlyphs" >18</text>
<text x="1650.4" y="1111" font-size="24" text-anchor="middle" textLength="31" lengthAdjust="spacingAndGlyphs" >24</text>
<text x="1950.4" y="1111" font-size="24" text-anchor="middle" textLength="31" lengthAdjust="spacingAndGlyphs" >30</text>
<text x="1049.5" y="1136" font-size="22" text-anchor="middle" textLength="215" lengthAdjust="spacingAndGlyphs" >time UTC [hours]</text>
<text x="1049.5" y="1160" font-size="22" text-anchor="middle" textLength="323" lengthAdjust="spacingAndGlyphs" >MWR Temperature Profiles</text>
<text transform="translate(105.5,361) rotate(-90)" font-size="24" text-anchor="middle" textLength="146" lengthAdjust="spacingAndGlyphs">Height [km]</text>
<text transform="translate(105.5,930) rotate(-90)" font-size="24" text-anchor="middle" textLength="146" lengthAdjust="spacingAndGlyphs">Height [km]</text>
<text transform="translate(107,721) rotate(-90)" font-size="24" text-anchor="middle" textLength="160" lengthAdjust="spacingAndGlyphs">LWP [g/m^2]</text>
</g>
</svg></body></html>
